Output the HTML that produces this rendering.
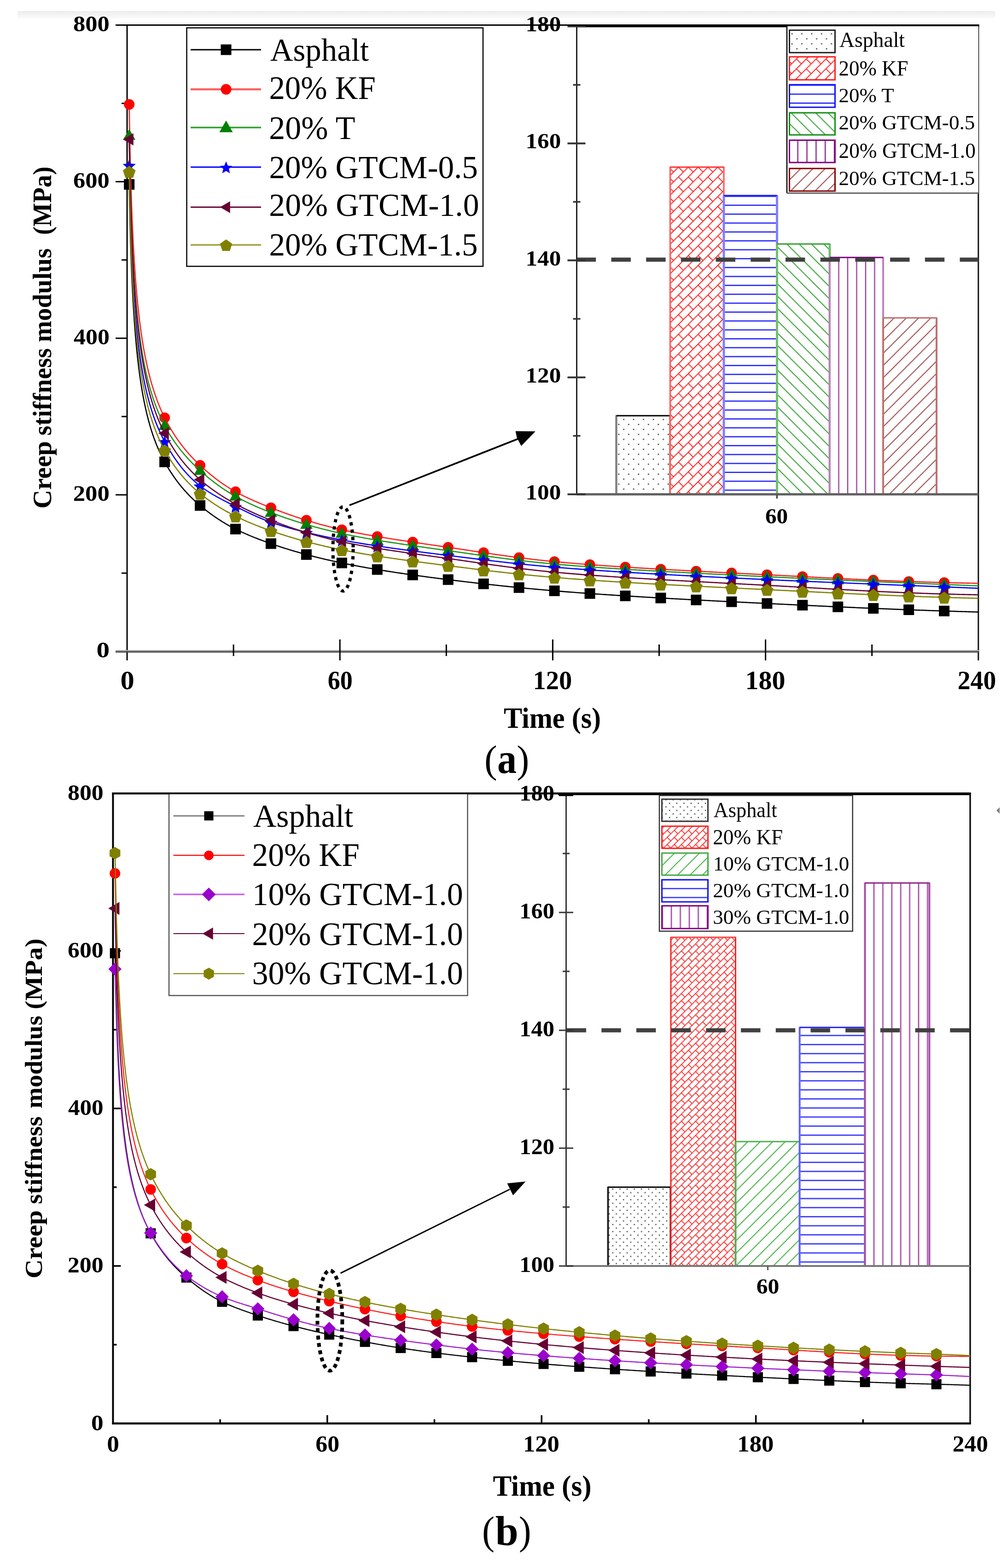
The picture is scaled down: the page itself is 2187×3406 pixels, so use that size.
<!DOCTYPE html>
<html><head><meta charset="utf-8"><title>Creep stiffness modulus</title><style>html,body{margin:0;padding:0;background:#fff;overflow:hidden;}svg{display:block;}</style></head><body>
<svg width="2187" height="3406" viewBox="0 0 2187 3406" font-family="'Liberation Serif', 'Times New Roman', serif" font-size="200">
<defs>
<linearGradient id="topband" x1="0" y1="0" x2="0" y2="1"><stop offset="0" stop-color="#ececec"/><stop offset="1" stop-color="#fbfbfb"/></linearGradient>
<pattern id="dotsA" patternUnits="userSpaceOnUse" x="1354.6" y="911.2" width="21.5" height="21.6"><rect x="-1.3" y="-1.3" width="2.6" height="2.6" fill="#333"/><rect x="20.2" y="-1.3" width="2.6" height="2.6" fill="#333"/><rect x="-1.3" y="20.3" width="2.6" height="2.6" fill="#333"/><rect x="20.2" y="20.3" width="2.6" height="2.6" fill="#333"/><rect x="9.45" y="9.5" width="2.6" height="2.6" fill="#333"/></pattern>
<pattern id="dotsB" patternUnits="userSpaceOnUse" x="1330.8" y="2598.3" width="15.6" height="15.4"><rect x="-1.2" y="-1.2" width="2.4" height="2.4" fill="#333"/><rect x="14.4" y="-1.2" width="2.4" height="2.4" fill="#333"/><rect x="-1.2" y="14.200000000000001" width="2.4" height="2.4" fill="#333"/><rect x="14.4" y="14.200000000000001" width="2.4" height="2.4" fill="#333"/><rect x="6.6" y="6.5" width="2.4" height="2.4" fill="#333"/></pattern>
<pattern id="brickA" patternUnits="userSpaceOnUse" x="0" y="0" width="30.2" height="30.2" patternTransform="rotate(-45)"><g stroke="#ff1c1c" stroke-width="1.9" fill="none"><line x1="-1" y1="0" x2="31.2" y2="0"/><line x1="-1" y1="15.1" x2="31.2" y2="15.1"/><line x1="-1" y1="30.2" x2="31.2" y2="30.2"/><line x1="0" y1="0" x2="0" y2="15.1"/><line x1="30.2" y1="0" x2="30.2" y2="15.1"/><line x1="15.1" y1="15.1" x2="15.1" y2="30.2"/></g></pattern>
<pattern id="brickB" patternUnits="userSpaceOnUse" x="0" y="0" width="21.8" height="21.8" patternTransform="rotate(-45)"><g stroke="#ff1c1c" stroke-width="1.7" fill="none"><line x1="-1" y1="0" x2="22.8" y2="0"/><line x1="-1" y1="10.9" x2="22.8" y2="10.9"/><line x1="-1" y1="21.8" x2="22.8" y2="21.8"/><line x1="0" y1="0" x2="0" y2="10.9"/><line x1="21.8" y1="0" x2="21.8" y2="10.9"/><line x1="10.9" y1="10.9" x2="10.9" y2="21.8"/></g></pattern>
<pattern id="hlA" patternUnits="userSpaceOnUse" x="0" y="1064.7" width="40" height="19.34"><line x1="0" y1="0" x2="40" y2="0" stroke="#1010ff" stroke-width="2.6"/><line x1="0" y1="19.34" x2="40" y2="19.34" stroke="#1010ff" stroke-width="2.6"/></pattern>
<pattern id="hlB" patternUnits="userSpaceOnUse" x="0" y="2642.9" width="40" height="19.68"><line x1="0" y1="0" x2="40" y2="0" stroke="#2020ff" stroke-width="2.6"/><line x1="0" y1="19.68" x2="40" y2="19.68" stroke="#2020ff" stroke-width="2.6"/></pattern>
<pattern id="bsA" patternUnits="userSpaceOnUse" x="0" y="23.99" width="26.73" height="26.73"><g stroke="#30a030" stroke-width="2.0"><line x1="0" y1="0" x2="26.73" y2="26.73"/><line x1="-13.365" y1="13.365" x2="13.365" y2="40.095"/><line x1="13.365" y1="-13.365" x2="40.095" y2="13.365"/></g></pattern>
<pattern id="fsB" patternUnits="userSpaceOnUse" x="0" y="11.9" width="27.1" height="27.1"><g stroke="#40b040" stroke-width="2.0"><line x1="0" y1="27.1" x2="27.1" y2="0"/><line x1="-13.55" y1="13.55" x2="13.55" y2="-13.55"/><line x1="13.55" y1="40.650000000000006" x2="40.650000000000006" y2="13.55"/></g></pattern>
<pattern id="vlA" patternUnits="userSpaceOnUse" x="1821.5" y="0" width="19.5" height="40"><line x1="0" y1="0" x2="0" y2="40" stroke="#9a3a9a" stroke-width="2.4"/><line x1="19.5" y1="0" x2="19.5" y2="40" stroke="#9a3a9a" stroke-width="2.4"/></pattern>
<pattern id="vlB" patternUnits="userSpaceOnUse" x="1898.0" y="0" width="19.4" height="40"><line x1="0" y1="0" x2="0" y2="40" stroke="#a850a8" stroke-width="2.8"/><line x1="19.4" y1="0" x2="19.4" y2="40" stroke="#a850a8" stroke-width="2.8"/></pattern>
<pattern id="fsA" patternUnits="userSpaceOnUse" x="0" y="25.6" width="26.6" height="26.6"><g stroke="#a04848" stroke-width="2.0"><line x1="0" y1="26.6" x2="26.6" y2="0"/><line x1="-13.3" y1="13.3" x2="13.3" y2="-13.3"/><line x1="13.3" y1="39.900000000000006" x2="39.900000000000006" y2="13.3"/></g></pattern>
<pattern id="dotsAs" patternUnits="userSpaceOnUse" x="1720.1" y="73.4" width="21.4" height="21.8"><rect x="-1.3" y="-1.3" width="2.6" height="2.6" fill="#333"/><rect x="20.099999999999998" y="-1.3" width="2.6" height="2.6" fill="#333"/><rect x="-1.3" y="20.5" width="2.6" height="2.6" fill="#333"/><rect x="20.099999999999998" y="20.5" width="2.6" height="2.6" fill="#333"/><rect x="9.399999999999999" y="9.6" width="2.6" height="2.6" fill="#333"/></pattern>
<pattern id="hlAs" patternUnits="userSpaceOnUse" x="0" y="204.5" width="40" height="19.5"><line x1="0" y1="0" x2="40" y2="0" stroke="#1010ff" stroke-width="2.6"/><line x1="0" y1="19.5" x2="40" y2="19.5" stroke="#1010ff" stroke-width="2.6"/></pattern>
<pattern id="vlAs" patternUnits="userSpaceOnUse" x="1732.6" y="0" width="19.9" height="40"><line x1="0" y1="0" x2="0" y2="40" stroke="#8a2a8a" stroke-width="2.6"/><line x1="19.9" y1="0" x2="19.9" y2="40" stroke="#8a2a8a" stroke-width="2.6"/></pattern>
<pattern id="fsAs" patternUnits="userSpaceOnUse" x="0" y="3.9" width="26.6" height="26.6"><g stroke="#a04848" stroke-width="2.0"><line x1="0" y1="26.6" x2="26.6" y2="0"/><line x1="-13.3" y1="13.3" x2="13.3" y2="-13.3"/><line x1="13.3" y1="39.900000000000006" x2="39.900000000000006" y2="13.3"/></g></pattern>
<pattern id="dotsBs" patternUnits="userSpaceOnUse" x="1438.6" y="1745.0" width="15.6" height="15.4"><rect x="-1.2" y="-1.2" width="2.4" height="2.4" fill="#333"/><rect x="14.4" y="-1.2" width="2.4" height="2.4" fill="#333"/><rect x="-1.2" y="14.200000000000001" width="2.4" height="2.4" fill="#333"/><rect x="14.4" y="14.200000000000001" width="2.4" height="2.4" fill="#333"/><rect x="6.6" y="6.5" width="2.4" height="2.4" fill="#333"/></pattern>
<pattern id="hlBs" patternUnits="userSpaceOnUse" x="0" y="1930.2" width="40" height="19.4"><line x1="0" y1="0" x2="40" y2="0" stroke="#2020ff" stroke-width="2.6"/><line x1="0" y1="19.4" x2="40" y2="19.4" stroke="#2020ff" stroke-width="2.6"/></pattern>
<pattern id="vlBs" patternUnits="userSpaceOnUse" x="1458.1" y="0" width="19.5" height="40"><line x1="0" y1="0" x2="0" y2="40" stroke="#a850a8" stroke-width="2.8"/><line x1="19.5" y1="0" x2="19.5" y2="40" stroke="#a850a8" stroke-width="2.8"/></pattern>
</defs>
<rect x="0.00" y="0.00" width="2187.00" height="3406.00" fill="#ffffff" stroke="none" stroke-width="0" />
<rect x="38.00" y="24.00" width="2123.00" height="16.00" fill="url(#topband)" stroke="none" stroke-width="0" />
<line x1="276.00" y1="54.50" x2="276.00" y2="1434.50" stroke="#000" stroke-width="3" />
<line x1="2124.80" y1="53.50" x2="2124.80" y2="1434.50" stroke="#111" stroke-width="3" />
<line x1="251.00" y1="54.50" x2="2126.30" y2="54.50" stroke="#000" stroke-width="3" />
<line x1="251.00" y1="1413.25" x2="2126.30" y2="1413.25" stroke="#a8a8a8" stroke-width="2.7" />
<line x1="251.00" y1="1416.05" x2="2126.30" y2="1416.05" stroke="#444444" stroke-width="2.9" />
<line x1="251.00" y1="1074.88" x2="276.00" y2="1074.88" stroke="#000" stroke-width="3" />
<line x1="251.00" y1="734.75" x2="276.00" y2="734.75" stroke="#000" stroke-width="3" />
<line x1="251.00" y1="394.62" x2="276.00" y2="394.62" stroke="#000" stroke-width="3" />
<line x1="251.00" y1="54.50" x2="276.00" y2="54.50" stroke="#000" stroke-width="3" />
<line x1="264.00" y1="1244.94" x2="276.00" y2="1244.94" stroke="#000" stroke-width="3" />
<line x1="264.00" y1="904.81" x2="276.00" y2="904.81" stroke="#000" stroke-width="3" />
<line x1="264.00" y1="564.69" x2="276.00" y2="564.69" stroke="#000" stroke-width="3" />
<line x1="264.00" y1="224.56" x2="276.00" y2="224.56" stroke="#000" stroke-width="3" />
<line x1="738.20" y1="1389.00" x2="738.20" y2="1434.50" stroke="#000" stroke-width="3" />
<line x1="1200.40" y1="1389.00" x2="1200.40" y2="1434.50" stroke="#000" stroke-width="3" />
<line x1="1662.60" y1="1389.00" x2="1662.60" y2="1434.50" stroke="#000" stroke-width="3" />
<line x1="507.10" y1="1400.00" x2="507.10" y2="1425.00" stroke="#000" stroke-width="3" />
<line x1="969.30" y1="1400.00" x2="969.30" y2="1425.00" stroke="#000" stroke-width="3" />
<line x1="1431.50" y1="1400.00" x2="1431.50" y2="1425.00" stroke="#000" stroke-width="3" />
<line x1="1893.70" y1="1400.00" x2="1893.70" y2="1425.00" stroke="#000" stroke-width="3" />
<path d="M280.62,400.58 L280.72,405.65 L280.81,410.72 L280.91,415.79 L281.01,420.86 L281.11,425.92 L281.21,430.98 L281.32,436.04 L281.43,441.09 L281.54,446.15 L281.65,451.19 L281.76,456.23 L281.88,461.27 L282.00,466.30 L282.12,471.33 L282.24,476.35 L282.37,481.37 L282.50,486.37 L282.63,491.38 L282.76,496.37 L282.90,501.36 L283.04,506.34 L283.18,511.31 L283.33,516.27 L283.48,521.23 L283.63,526.17 L283.70,528.52 L283.78,531.11 L283.94,536.04 L284.10,540.96 L284.26,545.87 L284.43,550.77 L284.60,555.66 L284.78,560.54 L284.95,565.40 L285.14,570.26 L285.32,575.11 L285.51,579.94 L285.70,584.76 L285.90,589.57 L286.10,594.37 L286.30,599.16 L286.51,603.93 L286.72,608.70 L286.78,609.93 L286.94,613.44 L287.16,618.18 L287.39,622.90 L287.62,627.61 L287.85,632.30 L288.09,636.99 L288.34,641.65 L288.59,646.30 L288.84,650.94 L289.10,655.57 L289.37,660.18 L289.64,664.77 L289.86,668.42 L289.91,669.35 L290.20,673.91 L290.48,678.46 L290.78,682.99 L291.08,687.51 L291.38,692.01 L291.69,696.50 L292.01,700.97 L292.33,705.42 L292.66,709.86 L292.94,713.44 L293.00,714.28 L293.35,718.68 L293.70,723.07 L294.06,727.44 L294.42,731.79 L294.79,736.13 L295.17,740.45 L295.56,744.75 L295.96,749.03 L296.02,749.65 L296.36,753.30 L296.77,757.55 L297.19,761.78 L297.62,766.00 L298.06,770.19 L298.51,774.37 L298.96,778.53 L299.09,779.71 L299.43,782.67 L299.90,786.80 L300.39,790.90 L300.88,794.99 L301.38,799.06 L301.90,803.11 L302.17,805.25 L302.42,807.14 L302.96,811.15 L303.50,815.15 L304.06,819.12 L304.63,823.08 L305.21,827.02 L305.25,827.33 L305.80,830.94 L306.40,834.84 L307.01,838.72 L307.64,842.59 L308.28,846.43 L308.33,846.71 L308.94,850.25 L309.60,854.06 L310.28,857.85 L310.98,861.61 L311.41,863.91 L311.69,865.36 L312.41,869.09 L313.14,872.80 L313.90,876.49 L314.49,879.34 L314.66,880.17 L315.45,883.82 L316.24,887.45 L317.06,891.07 L317.57,893.28 L317.89,894.66 L318.74,898.24 L319.60,901.79 L320.49,905.33 L320.65,905.96 L321.39,908.85 L322.30,912.35 L323.24,915.83 L323.72,917.59 L324.20,919.29 L325.17,922.73 L326.17,926.15 L326.80,928.29 L327.18,929.55 L328.22,932.93 L329.28,936.30 L329.88,938.18 L330.36,939.64 L331.46,942.97 L332.58,946.27 L332.96,947.38 L333.72,949.56 L334.89,952.83 L336.04,955.96 L336.08,956.08 L337.30,959.31 L338.54,962.52 L339.12,963.99 L339.81,965.71 L341.10,968.88 L342.20,971.52 L342.42,972.03 L343.76,975.17 L345.13,978.29 L345.28,978.61 L346.53,981.38 L347.96,984.46 L348.35,985.30 L349.41,987.52 L350.90,990.56 L351.43,991.63 L352.42,993.58 L353.96,996.59 L354.51,997.63 L355.54,999.57 L357.15,1002.54 L357.59,1003.33 L358.79,1005.49 L360.47,1008.44 L360.67,1008.79 L362.18,1011.39 L363.75,1014.05 L363.92,1014.34 L365.70,1017.29 L366.83,1019.13 L367.52,1020.24 L369.37,1023.19 L369.91,1024.03 L371.26,1026.13 L372.98,1028.76 L373.19,1029.07 L375.16,1032.00 L376.06,1033.33 L377.16,1034.93 L379.14,1037.75 L379.21,1037.85 L381.30,1040.77 L382.22,1042.03 L383.43,1043.67 L385.30,1046.17 L385.61,1046.58 L387.82,1049.47 L388.38,1050.18 L390.09,1052.35 L391.46,1054.07 L392.40,1055.23 L394.54,1057.83 L394.75,1058.09 L397.16,1060.95 L397.61,1061.48 L399.61,1063.79 L400.69,1065.03 L402.11,1066.62 L403.77,1068.47 L404.66,1069.45 L406.85,1071.81 L407.27,1072.25 L409.92,1075.05 L409.93,1075.06 L412.63,1077.83 L413.01,1078.21 L415.40,1080.60 L416.09,1081.28 L418.22,1083.36 L419.17,1084.27 L421.10,1086.10 L422.25,1087.18 L424.04,1088.83 L425.32,1090.01 L427.03,1091.54 L428.40,1092.76 L430.09,1094.24 L431.48,1095.45 L433.21,1096.92 L434.56,1098.07 L436.39,1099.59 L437.64,1100.63 L439.64,1102.27 L440.72,1103.15 L442.95,1104.95 L443.80,1105.63 L446.33,1107.63 L446.88,1108.06 L449.78,1110.31 L449.95,1110.45 L453.03,1112.79 L453.29,1112.99 L456.11,1115.09 L456.88,1115.66 L459.19,1117.34 L460.54,1118.32 L462.27,1119.55 L464.28,1120.97 L465.35,1121.72 L468.09,1123.61 L468.43,1123.84 L471.51,1125.92 L471.98,1126.24 L474.58,1127.96 L475.94,1128.84 L477.66,1129.95 L479.99,1131.43 L480.74,1131.90 L483.82,1133.81 L484.12,1134.00 L486.90,1135.68 L488.33,1136.54 L489.98,1137.51 L492.63,1139.06 L493.06,1139.30 L496.14,1141.06 L497.01,1141.55 L499.21,1142.77 L501.49,1144.01 L502.29,1144.45 L505.37,1146.09 L506.05,1146.45 L508.45,1147.70 L510.71,1148.85 L511.53,1149.27 L514.61,1150.80 L515.46,1151.22 L517.69,1152.30 L520.31,1153.56 L520.77,1153.78 L523.84,1155.22 L525.25,1155.87 L526.92,1156.63 L530.00,1158.02 L530.30,1158.15 L533.08,1159.38 L535.44,1160.42 L536.16,1160.73 L539.24,1162.04 L540.69,1162.66 L542.32,1163.34 L545.40,1164.62 L546.05,1164.89 L548.47,1165.88 L551.52,1167.10 L551.55,1167.12 L554.63,1168.34 L557.09,1169.31 L557.71,1169.55 L560.79,1170.74 L562.78,1171.51 L563.87,1171.92 L566.95,1173.09 L568.59,1173.70 L570.03,1174.24 L573.10,1175.38 L574.51,1175.89 L576.18,1176.50 L579.26,1177.62 L580.55,1178.08 L582.34,1178.72 L585.42,1179.82 L586.72,1180.28 L588.50,1180.90 L591.58,1181.98 L593.01,1182.47 L594.66,1183.04 L597.73,1184.09 L599.42,1184.66 L600.81,1185.13 L603.89,1186.16 L605.97,1186.85 L606.97,1187.18 L610.05,1188.19 L612.65,1189.03 L613.13,1189.19 L616.21,1190.18 L619.29,1191.15 L619.46,1191.21 L622.36,1192.12 L625.44,1193.07 L626.41,1193.37 L628.52,1194.02 L631.60,1194.96 L633.50,1195.53 L634.68,1195.88 L637.76,1196.80 L640.74,1197.68 L640.84,1197.70 L643.92,1198.60 L646.99,1199.49 L648.12,1199.81 L650.07,1200.37 L653.15,1201.23 L655.66,1201.93 L656.23,1202.09 L659.31,1202.95 L662.39,1203.79 L663.34,1204.04 L665.47,1204.62 L668.55,1205.44 L671.18,1206.14 L671.62,1206.26 L674.70,1207.07 L677.78,1207.86 L679.18,1208.22 L680.86,1208.65 L683.94,1209.44 L687.02,1210.21 L687.34,1210.29 L690.10,1210.98 L693.18,1211.74 L695.66,1212.34 L696.25,1212.49 L699.33,1213.23 L702.41,1213.96 L704.16,1214.38 L705.49,1214.69 L708.57,1215.41 L711.65,1216.12 L712.82,1216.39 L714.73,1216.83 L717.81,1217.53 L720.88,1218.22 L721.67,1218.39 L723.96,1218.90 L727.04,1219.58 L730.12,1220.25 L730.69,1220.37 L733.20,1220.91 L736.28,1221.57 L739.36,1222.22 L739.89,1222.33 L742.44,1222.87 L745.51,1223.50 L748.59,1224.13 L749.28,1224.27 L751.67,1224.76 L754.75,1225.38 L757.83,1225.99 L758.86,1226.19 L760.91,1226.60 L763.99,1227.20 L767.07,1227.79 L768.63,1228.09 L770.15,1228.38 L773.22,1228.96 L776.30,1229.54 L778.60,1229.97 L779.38,1230.11 L782.46,1230.68 L785.54,1231.25 L788.62,1231.80 L788.78,1231.83 L791.70,1232.36 L794.78,1232.91 L797.85,1233.45 L799.15,1233.68 L800.93,1233.99 L804.01,1234.52 L807.09,1235.06 L809.74,1235.51 L810.17,1235.58 L813.25,1236.10 L816.33,1236.62 L819.41,1237.14 L820.55,1237.33 L822.48,1237.65 L825.56,1238.16 L828.64,1238.66 L831.57,1239.13 L831.72,1239.16 L834.80,1239.65 L837.88,1240.15 L840.96,1240.63 L842.81,1240.93 L844.04,1241.12 L847.11,1241.60 L850.19,1242.08 L853.27,1242.56 L854.29,1242.71 L856.35,1243.03 L859.43,1243.50 L862.51,1243.96 L865.59,1244.43 L865.99,1244.49 L868.67,1244.89 L871.74,1245.34 L874.82,1245.80 L877.90,1246.25 L877.93,1246.26 L880.98,1246.70 L884.06,1247.15 L887.14,1247.59 L890.12,1248.02 L890.22,1248.03 L893.30,1248.47 L896.37,1248.90 L899.45,1249.34 L902.53,1249.77 L902.55,1249.77 L905.61,1250.20 L908.69,1250.62 L911.77,1251.05 L914.85,1251.47 L915.23,1251.52 L917.93,1251.89 L921.00,1252.30 L924.08,1252.72 L927.16,1253.13 L928.17,1253.27 L930.24,1253.54 L933.32,1253.95 L936.40,1254.36 L939.48,1254.76 L941.37,1255.01 L942.56,1255.16 L945.63,1255.56 L948.71,1255.96 L951.79,1256.36 L954.83,1256.75 L954.87,1256.75 L957.95,1257.14 L961.03,1257.53 L964.11,1257.92 L967.19,1258.31 L968.57,1258.48 L970.26,1258.69 L973.34,1259.08 L976.42,1259.46 L979.50,1259.84 L982.58,1260.22 L982.59,1260.22 L985.66,1260.60 L988.74,1260.98 L991.82,1261.35 L994.89,1261.73 L996.89,1261.97 L997.97,1262.10 L1001.05,1262.47 L1004.13,1262.85 L1007.21,1263.22 L1010.29,1263.58 L1011.48,1263.73 L1013.37,1263.95 L1016.45,1264.32 L1019.52,1264.68 L1022.60,1265.05 L1025.68,1265.41 L1026.37,1265.49 L1028.76,1265.77 L1031.84,1266.13 L1034.92,1266.48 L1038.00,1266.84 L1041.08,1267.19 L1041.56,1267.25 L1044.15,1267.54 L1047.23,1267.89 L1050.31,1268.24 L1053.39,1268.59 L1056.47,1268.93 L1057.05,1269.00 L1059.55,1269.28 L1062.63,1269.62 L1065.71,1269.96 L1068.78,1270.30 L1071.86,1270.64 L1072.86,1270.74 L1074.94,1270.97 L1078.02,1271.30 L1081.10,1271.64 L1084.18,1271.96 L1087.26,1272.29 L1088.99,1272.48 L1090.34,1272.62 L1093.41,1272.94 L1096.49,1273.26 L1099.57,1273.59 L1102.65,1273.90 L1105.45,1274.19 L1105.73,1274.22 L1108.81,1274.54 L1111.89,1274.85 L1114.97,1275.16 L1118.05,1275.47 L1121.12,1275.78 L1122.23,1275.89 L1124.20,1276.08 L1127.28,1276.39 L1130.36,1276.69 L1133.44,1276.99 L1136.52,1277.29 L1139.36,1277.56 L1139.60,1277.58 L1142.68,1277.88 L1145.75,1278.17 L1148.83,1278.46 L1151.91,1278.75 L1154.99,1279.04 L1156.84,1279.21 L1158.07,1279.32 L1161.15,1279.60 L1164.23,1279.88 L1167.31,1280.16 L1170.38,1280.44 L1173.46,1280.72 L1174.67,1280.82 L1176.54,1280.99 L1179.62,1281.26 L1182.70,1281.53 L1185.78,1281.80 L1188.86,1282.07 L1191.94,1282.33 L1192.86,1282.41 L1195.01,1282.59 L1198.09,1282.86 L1201.17,1283.11 L1204.25,1283.37 L1207.33,1283.63 L1210.41,1283.88 L1211.41,1283.96 L1213.49,1284.13 L1216.57,1284.38 L1219.64,1284.63 L1222.72,1284.88 L1225.80,1285.12 L1228.88,1285.36 L1230.35,1285.48 L1231.96,1285.61 L1235.04,1285.85 L1238.12,1286.08 L1241.20,1286.32 L1244.27,1286.56 L1247.35,1286.79 L1249.66,1286.97 L1250.43,1287.02 L1253.51,1287.25 L1256.59,1287.48 L1259.67,1287.71 L1262.75,1287.94 L1265.83,1288.16 L1268.90,1288.39 L1269.37,1288.42 L1271.98,1288.61 L1275.06,1288.83 L1278.14,1289.05 L1281.22,1289.27 L1284.30,1289.49 L1287.38,1289.71 L1289.48,1289.85 L1290.46,1289.92 L1293.53,1290.14 L1296.61,1290.35 L1299.69,1290.56 L1302.77,1290.77 L1305.85,1290.98 L1308.93,1291.19 L1309.99,1291.26 L1312.01,1291.40 L1315.09,1291.60 L1318.16,1291.81 L1321.24,1292.01 L1324.32,1292.22 L1327.40,1292.42 L1330.48,1292.62 L1330.92,1292.65 L1333.56,1292.82 L1336.64,1293.02 L1339.72,1293.22 L1342.79,1293.42 L1345.87,1293.61 L1348.95,1293.81 L1352.03,1294.00 L1352.27,1294.02 L1355.11,1294.20 L1358.19,1294.39 L1361.27,1294.58 L1364.35,1294.77 L1367.42,1294.97 L1370.50,1295.16 L1373.58,1295.34 L1374.05,1295.37 L1376.66,1295.53 L1379.74,1295.72 L1382.82,1295.91 L1385.90,1296.09 L1388.98,1296.28 L1392.05,1296.46 L1395.13,1296.65 L1396.28,1296.71 L1398.21,1296.83 L1401.29,1297.01 L1404.37,1297.19 L1407.45,1297.38 L1410.53,1297.56 L1413.61,1297.74 L1416.68,1297.91 L1418.95,1298.05 L1419.76,1298.09 L1422.84,1298.27 L1425.92,1298.45 L1429.00,1298.62 L1432.08,1298.80 L1435.16,1298.98 L1438.24,1299.15 L1441.31,1299.33 L1442.09,1299.37 L1444.39,1299.50 L1447.47,1299.67 L1450.55,1299.84 L1453.63,1300.02 L1456.71,1300.19 L1459.79,1300.36 L1462.87,1300.53 L1465.69,1300.69 L1465.95,1300.70 L1469.02,1300.87 L1472.10,1301.04 L1475.18,1301.21 L1478.26,1301.37 L1481.34,1301.54 L1484.42,1301.71 L1487.50,1301.88 L1489.77,1302.00 L1490.58,1302.04 L1493.65,1302.21 L1496.73,1302.37 L1499.81,1302.54 L1502.89,1302.70 L1505.97,1302.86 L1509.05,1303.03 L1512.13,1303.19 L1514.34,1303.31 L1515.21,1303.35 L1518.28,1303.52 L1521.36,1303.68 L1524.44,1303.84 L1527.52,1304.00 L1530.60,1304.16 L1533.68,1304.32 L1536.76,1304.48 L1539.40,1304.62 L1539.84,1304.64 L1542.91,1304.80 L1545.99,1304.96 L1549.07,1305.12 L1552.15,1305.27 L1555.23,1305.43 L1558.31,1305.59 L1561.39,1305.75 L1564.47,1305.90 L1564.97,1305.93 L1567.54,1306.06 L1570.62,1306.21 L1573.70,1306.37 L1576.78,1306.53 L1579.86,1306.68 L1582.94,1306.83 L1586.02,1306.99 L1589.10,1307.14 L1591.06,1307.24 L1592.17,1307.30 L1595.25,1307.45 L1598.33,1307.60 L1601.41,1307.76 L1604.49,1307.91 L1607.57,1308.06 L1610.65,1308.21 L1613.73,1308.36 L1616.80,1308.52 L1617.68,1308.56 L1619.88,1308.67 L1622.96,1308.82 L1626.04,1308.97 L1629.12,1309.12 L1632.20,1309.27 L1635.28,1309.42 L1638.36,1309.57 L1641.43,1309.72 L1644.51,1309.87 L1644.84,1309.88 L1647.59,1310.02 L1650.67,1310.16 L1653.75,1310.31 L1656.83,1310.46 L1659.91,1310.61 L1662.99,1310.76 L1666.06,1310.90 L1669.14,1311.05 L1672.22,1311.20 L1672.54,1311.21 L1675.30,1311.35 L1678.38,1311.49 L1681.46,1311.64 L1684.54,1311.79 L1687.62,1311.94 L1690.69,1312.08 L1693.77,1312.23 L1696.85,1312.38 L1699.93,1312.53 L1700.81,1312.57 L1703.01,1312.68 L1706.09,1312.82 L1709.17,1312.97 L1712.25,1313.12 L1715.32,1313.27 L1718.40,1313.41 L1721.48,1313.56 L1724.56,1313.71 L1727.64,1313.86 L1729.65,1313.95 L1730.72,1314.00 L1733.80,1314.15 L1736.88,1314.30 L1739.95,1314.44 L1743.03,1314.59 L1746.11,1314.74 L1749.19,1314.88 L1752.27,1315.03 L1755.35,1315.17 L1758.43,1315.32 L1759.07,1315.35 L1761.51,1315.46 L1764.58,1315.61 L1767.66,1315.75 L1770.74,1315.90 L1773.82,1316.04 L1776.90,1316.19 L1779.98,1316.33 L1783.06,1316.47 L1786.14,1316.62 L1789.09,1316.75 L1789.22,1316.76 L1792.29,1316.90 L1795.37,1317.04 L1798.45,1317.19 L1801.53,1317.33 L1804.61,1317.47 L1807.69,1317.61 L1810.77,1317.75 L1813.85,1317.89 L1816.92,1318.03 L1819.71,1318.16 L1820.00,1318.17 L1823.08,1318.31 L1826.16,1318.45 L1829.24,1318.58 L1832.32,1318.72 L1835.40,1318.86 L1838.48,1319.00 L1841.55,1319.13 L1844.63,1319.27 L1847.71,1319.40 L1850.79,1319.54 L1850.96,1319.55 L1853.87,1319.67 L1856.95,1319.81 L1860.03,1319.94 L1863.11,1320.08 L1866.18,1320.21 L1869.26,1320.34 L1872.34,1320.47 L1875.42,1320.60 L1878.50,1320.74 L1881.58,1320.87 L1882.84,1320.92 L1884.66,1321.00 L1887.74,1321.13 L1890.81,1321.25 L1893.89,1321.38 L1896.97,1321.51 L1900.05,1321.64 L1903.13,1321.77 L1906.21,1321.89 L1909.29,1322.02 L1912.37,1322.14 L1915.36,1322.27 L1915.44,1322.27 L1918.52,1322.39 L1921.60,1322.52 L1924.68,1322.64 L1927.76,1322.77 L1930.84,1322.89 L1933.92,1323.01 L1937.00,1323.13 L1940.07,1323.25 L1943.15,1323.37 L1946.23,1323.49 L1948.54,1323.58 L1949.31,1323.61 L1952.39,1323.73 L1955.47,1323.85 L1958.55,1323.97 L1961.63,1324.08 L1964.70,1324.20 L1967.78,1324.31 L1970.86,1324.43 L1973.94,1324.54 L1977.02,1324.66 L1980.10,1324.77 L1982.40,1324.86 L1983.18,1324.89 L1986.26,1325.00 L1989.33,1325.11 L1992.41,1325.22 L1995.49,1325.33 L1998.57,1325.44 L2001.65,1325.55 L2004.73,1325.66 L2007.81,1325.77 L2010.89,1325.88 L2013.96,1325.98 L2016.93,1326.09 L2017.04,1326.09 L2020.12,1326.20 L2023.20,1326.30 L2026.28,1326.41 L2029.36,1326.51 L2032.44,1326.61 L2035.52,1326.72 L2038.59,1326.82 L2041.67,1326.92 L2044.75,1327.02 L2047.83,1327.12 L2050.91,1327.22 L2052.17,1327.27 L2053.99,1327.32 L2057.07,1327.42 L2060.15,1327.52 L2063.22,1327.62 L2066.30,1327.72 L2069.38,1327.81 L2072.46,1327.91 L2075.54,1328.00 L2078.62,1328.10 L2081.70,1328.19 L2084.78,1328.28 L2087.85,1328.38 L2088.12,1328.38 L2090.93,1328.47 L2094.01,1328.56 L2097.09,1328.65 L2100.17,1328.74 L2103.25,1328.83 L2106.33,1328.92 L2109.41,1329.01 L2112.48,1329.10 L2115.56,1329.19 L2118.64,1329.28 L2121.72,1329.37 L2124.80,1329.46 L2124.80,1329.46" fill="none" stroke="#000000" stroke-width="2.6" stroke-linejoin="round"/>
<rect x="269.12" y="389.08" width="23.00" height="23.00" fill="#000000" stroke="none" stroke-width="0" />
<rect x="346.08" y="991.81" width="23.00" height="23.00" fill="#000000" stroke="none" stroke-width="0" />
<rect x="423.03" y="1086.54" width="23.00" height="23.00" fill="#000000" stroke="none" stroke-width="0" />
<rect x="499.99" y="1137.75" width="23.00" height="23.00" fill="#000000" stroke="none" stroke-width="0" />
<rect x="576.95" y="1169.39" width="23.00" height="23.00" fill="#000000" stroke="none" stroke-width="0" />
<rect x="653.90" y="1193.10" width="23.00" height="23.00" fill="#000000" stroke="none" stroke-width="0" />
<rect x="730.86" y="1211.35" width="23.00" height="23.00" fill="#000000" stroke="none" stroke-width="0" />
<rect x="807.82" y="1225.62" width="23.00" height="23.00" fill="#000000" stroke="none" stroke-width="0" />
<rect x="884.77" y="1237.39" width="23.00" height="23.00" fill="#000000" stroke="none" stroke-width="0" />
<rect x="961.73" y="1247.56" width="23.00" height="23.00" fill="#000000" stroke="none" stroke-width="0" />
<rect x="1038.68" y="1256.73" width="23.00" height="23.00" fill="#000000" stroke="none" stroke-width="0" />
<rect x="1115.64" y="1264.87" width="23.00" height="23.00" fill="#000000" stroke="none" stroke-width="0" />
<rect x="1192.60" y="1271.86" width="23.00" height="23.00" fill="#000000" stroke="none" stroke-width="0" />
<rect x="1269.55" y="1277.76" width="23.00" height="23.00" fill="#000000" stroke="none" stroke-width="0" />
<rect x="1346.51" y="1282.88" width="23.00" height="23.00" fill="#000000" stroke="none" stroke-width="0" />
<rect x="1423.47" y="1287.47" width="23.00" height="23.00" fill="#000000" stroke="none" stroke-width="0" />
<rect x="1500.42" y="1291.68" width="23.00" height="23.00" fill="#000000" stroke="none" stroke-width="0" />
<rect x="1577.38" y="1295.63" width="23.00" height="23.00" fill="#000000" stroke="none" stroke-width="0" />
<rect x="1654.34" y="1299.39" width="23.00" height="23.00" fill="#000000" stroke="none" stroke-width="0" />
<rect x="1731.29" y="1303.08" width="23.00" height="23.00" fill="#000000" stroke="none" stroke-width="0" />
<rect x="1808.25" y="1306.66" width="23.00" height="23.00" fill="#000000" stroke="none" stroke-width="0" />
<rect x="1885.20" y="1310.00" width="23.00" height="23.00" fill="#000000" stroke="none" stroke-width="0" />
<rect x="1962.16" y="1313.03" width="23.00" height="23.00" fill="#000000" stroke="none" stroke-width="0" />
<rect x="2039.12" y="1315.72" width="23.00" height="23.00" fill="#000000" stroke="none" stroke-width="0" />
<path d="M280.62,226.77 L280.72,232.92 L280.81,239.05 L280.91,245.16 L281.01,251.26 L281.11,257.34 L281.21,263.40 L281.32,269.45 L281.43,275.48 L281.54,281.50 L281.65,287.49 L281.76,293.47 L281.88,299.44 L282.00,305.38 L282.12,311.31 L282.24,317.22 L282.37,323.12 L282.50,328.99 L282.63,334.85 L282.76,340.69 L282.90,346.51 L283.04,352.32 L283.18,358.10 L283.33,363.87 L283.48,369.61 L283.63,375.34 L283.70,378.06 L283.78,381.05 L283.94,386.74 L284.10,392.41 L284.26,398.07 L284.43,403.70 L284.60,409.31 L284.78,414.91 L284.95,420.48 L285.14,426.04 L285.32,431.57 L285.51,437.09 L285.70,442.59 L285.90,448.06 L286.10,453.52 L286.30,458.95 L286.51,464.37 L286.72,469.77 L286.78,471.16 L286.94,475.14 L287.16,480.50 L287.39,485.83 L287.62,491.14 L287.85,496.44 L288.09,501.71 L288.34,506.96 L288.59,512.19 L288.84,517.40 L289.10,522.59 L289.37,527.76 L289.64,532.91 L289.86,537.00 L289.91,538.04 L290.20,543.14 L290.48,548.23 L290.78,553.29 L291.08,558.34 L291.38,563.36 L291.69,568.36 L292.01,573.34 L292.33,578.30 L292.66,583.23 L292.94,587.21 L293.00,588.15 L293.35,593.04 L293.70,597.92 L294.06,602.77 L294.42,607.60 L294.79,612.41 L295.17,617.19 L295.56,621.96 L295.96,626.71 L296.02,627.39 L296.36,631.43 L296.77,636.13 L297.19,640.81 L297.62,645.47 L298.06,650.11 L298.51,654.73 L298.96,659.32 L299.09,660.62 L299.43,663.89 L299.90,668.45 L300.39,672.98 L300.88,677.49 L301.38,681.97 L301.90,686.44 L302.17,688.80 L302.42,690.89 L302.96,695.31 L303.50,699.71 L304.06,704.09 L304.63,708.45 L305.21,712.79 L305.25,713.14 L305.80,717.11 L306.40,721.40 L307.01,725.68 L307.64,729.93 L308.28,734.16 L308.33,734.48 L308.94,738.38 L309.60,742.57 L310.28,746.73 L310.98,750.88 L311.41,753.41 L311.69,755.01 L312.41,759.11 L313.14,763.20 L313.90,767.26 L314.49,770.39 L314.66,771.30 L315.45,775.32 L316.24,779.33 L317.06,783.31 L317.57,785.74 L317.89,787.26 L318.74,791.20 L319.60,795.12 L320.49,799.02 L320.65,799.71 L321.39,802.89 L322.30,806.75 L323.24,810.58 L323.72,812.52 L324.20,814.40 L325.17,818.19 L326.17,821.96 L326.80,824.32 L327.18,825.72 L328.22,829.45 L329.28,833.16 L329.88,835.24 L330.36,836.85 L331.46,840.53 L332.58,844.18 L332.96,845.40 L333.72,847.81 L334.89,851.42 L336.04,854.88 L336.08,855.01 L337.30,858.58 L338.54,862.13 L339.12,863.76 L339.81,865.67 L341.10,869.18 L342.20,872.10 L342.42,872.67 L343.76,876.14 L345.13,879.59 L345.28,879.95 L346.53,883.03 L347.96,886.44 L348.35,887.38 L349.41,889.84 L350.90,893.21 L351.43,894.40 L352.42,896.57 L353.96,899.90 L354.51,901.07 L355.54,903.22 L357.15,906.52 L357.59,907.40 L358.79,909.80 L360.47,913.07 L360.67,913.46 L362.18,916.33 L363.75,919.26 L363.92,919.58 L365.70,922.82 L366.83,924.83 L367.52,926.05 L369.37,929.27 L369.91,930.18 L371.26,932.48 L372.98,935.34 L373.19,935.68 L375.16,938.87 L376.06,940.31 L377.16,942.05 L379.14,945.11 L379.21,945.22 L381.30,948.38 L382.22,949.75 L383.43,951.53 L385.30,954.23 L385.61,954.67 L387.82,957.80 L388.38,958.57 L390.09,960.92 L391.46,962.78 L392.40,964.03 L394.54,966.85 L394.75,967.14 L397.16,970.23 L397.61,970.81 L399.61,973.31 L400.69,974.65 L402.11,976.38 L403.77,978.39 L404.66,979.45 L406.85,982.02 L407.27,982.50 L409.92,985.54 L409.93,985.55 L412.63,988.58 L413.01,988.99 L415.40,991.60 L416.09,992.34 L418.22,994.62 L419.17,995.61 L421.10,997.62 L422.25,998.80 L424.04,1000.62 L425.32,1001.91 L427.03,1003.60 L428.40,1004.95 L430.09,1006.58 L431.48,1007.91 L433.21,1009.55 L434.56,1010.81 L436.39,1012.51 L437.64,1013.66 L439.64,1015.48 L440.72,1016.46 L442.95,1018.47 L443.80,1019.23 L446.33,1021.46 L446.88,1021.94 L449.78,1024.46 L449.95,1024.62 L453.03,1027.24 L453.29,1027.46 L456.11,1029.82 L456.88,1030.46 L459.19,1032.35 L460.54,1033.45 L462.27,1034.84 L464.28,1036.43 L465.35,1037.27 L468.09,1039.40 L468.43,1039.66 L471.51,1041.99 L471.98,1042.35 L474.58,1044.28 L475.94,1045.28 L477.66,1046.52 L479.99,1048.19 L480.74,1048.72 L483.82,1050.86 L484.12,1051.07 L486.90,1052.96 L488.33,1053.92 L489.98,1055.01 L492.63,1056.74 L493.06,1057.02 L496.14,1058.98 L497.01,1059.53 L499.21,1060.90 L501.49,1062.29 L502.29,1062.77 L505.37,1064.60 L506.05,1065.00 L508.45,1066.39 L510.71,1067.67 L511.53,1068.13 L514.61,1069.84 L515.46,1070.30 L517.69,1071.50 L520.31,1072.89 L520.77,1073.13 L523.84,1074.72 L525.25,1075.43 L526.92,1076.27 L530.00,1077.80 L530.30,1077.94 L533.08,1079.30 L535.44,1080.43 L536.16,1080.77 L539.24,1082.22 L540.69,1082.89 L542.32,1083.64 L545.40,1085.04 L546.05,1085.33 L548.47,1086.42 L551.52,1087.76 L551.55,1087.78 L554.63,1089.12 L557.09,1090.18 L557.71,1090.45 L560.79,1091.76 L562.78,1092.60 L563.87,1093.06 L566.95,1094.34 L568.59,1095.02 L570.03,1095.61 L573.10,1096.87 L574.51,1097.44 L576.18,1098.11 L579.26,1099.35 L580.55,1099.87 L582.34,1100.58 L585.42,1101.80 L586.72,1102.31 L588.50,1103.00 L591.58,1104.21 L593.01,1104.76 L594.66,1105.40 L597.73,1106.59 L599.42,1107.23 L600.81,1107.76 L603.89,1108.93 L605.97,1109.71 L606.97,1110.09 L610.05,1111.24 L612.65,1112.20 L613.13,1112.38 L616.21,1113.51 L619.29,1114.63 L619.46,1114.69 L622.36,1115.74 L625.44,1116.83 L626.41,1117.18 L628.52,1117.92 L631.60,1119.00 L633.50,1119.66 L634.68,1120.07 L637.76,1121.12 L640.74,1122.14 L640.84,1122.17 L643.92,1123.21 L646.99,1124.23 L648.12,1124.60 L650.07,1125.24 L653.15,1126.24 L655.66,1127.05 L656.23,1127.24 L659.31,1128.22 L662.39,1129.19 L663.34,1129.48 L665.47,1130.14 L668.55,1131.09 L671.18,1131.89 L671.62,1132.03 L674.70,1132.95 L677.78,1133.87 L679.18,1134.28 L680.86,1134.77 L683.94,1135.67 L687.02,1136.55 L687.34,1136.64 L690.10,1137.42 L693.18,1138.28 L695.66,1138.97 L696.25,1139.13 L699.33,1139.97 L702.41,1140.80 L704.16,1141.27 L705.49,1141.62 L708.57,1142.43 L711.65,1143.23 L712.82,1143.53 L714.73,1144.02 L717.81,1144.80 L720.88,1145.57 L721.67,1145.76 L723.96,1146.32 L727.04,1147.07 L730.12,1147.81 L730.69,1147.95 L733.20,1148.54 L736.28,1149.26 L739.36,1149.97 L739.89,1150.09 L742.44,1150.67 L745.51,1151.35 L748.59,1152.03 L749.28,1152.18 L751.67,1152.70 L754.75,1153.36 L757.83,1154.00 L758.86,1154.22 L760.91,1154.64 L763.99,1155.27 L767.07,1155.90 L768.63,1156.21 L770.15,1156.51 L773.22,1157.12 L776.30,1157.72 L778.60,1158.16 L779.38,1158.31 L782.46,1158.89 L785.54,1159.47 L788.62,1160.05 L788.78,1160.07 L791.70,1160.61 L794.78,1161.17 L797.85,1161.73 L799.15,1161.96 L800.93,1162.28 L804.01,1162.82 L807.09,1163.36 L809.74,1163.82 L810.17,1163.90 L813.25,1164.43 L816.33,1164.95 L819.41,1165.47 L820.55,1165.67 L822.48,1165.99 L825.56,1166.51 L828.64,1167.02 L831.57,1167.50 L831.72,1167.52 L834.80,1168.03 L837.88,1168.53 L840.96,1169.02 L842.81,1169.32 L844.04,1169.52 L847.11,1170.01 L850.19,1170.50 L853.27,1170.98 L854.29,1171.14 L856.35,1171.47 L859.43,1171.95 L862.51,1172.43 L865.59,1172.90 L865.99,1172.97 L868.67,1173.38 L871.74,1173.85 L874.82,1174.32 L877.90,1174.79 L877.93,1174.80 L880.98,1175.26 L884.06,1175.72 L887.14,1176.19 L890.12,1176.64 L890.22,1176.65 L893.30,1177.11 L896.37,1177.57 L899.45,1178.03 L902.53,1178.49 L902.55,1178.49 L905.61,1178.95 L908.69,1179.40 L911.77,1179.86 L914.85,1180.31 L915.23,1180.37 L917.93,1180.77 L921.00,1181.22 L924.08,1181.67 L927.16,1182.12 L928.17,1182.27 L930.24,1182.57 L933.32,1183.02 L936.40,1183.47 L939.48,1183.92 L941.37,1184.20 L942.56,1184.37 L945.63,1184.82 L948.71,1185.27 L951.79,1185.72 L954.83,1186.16 L954.87,1186.16 L957.95,1186.61 L961.03,1187.06 L964.11,1187.50 L967.19,1187.95 L968.57,1188.15 L970.26,1188.40 L973.34,1188.84 L976.42,1189.29 L979.50,1189.75 L982.58,1190.20 L982.59,1190.20 L985.66,1190.66 L988.74,1191.12 L991.82,1191.58 L994.89,1192.04 L996.89,1192.35 L997.97,1192.51 L1001.05,1192.98 L1004.13,1193.44 L1007.21,1193.91 L1010.29,1194.38 L1011.48,1194.57 L1013.37,1194.86 L1016.45,1195.33 L1019.52,1195.80 L1022.60,1196.27 L1025.68,1196.74 L1026.37,1196.85 L1028.76,1197.21 L1031.84,1197.68 L1034.92,1198.15 L1038.00,1198.62 L1041.08,1199.09 L1041.56,1199.16 L1044.15,1199.56 L1047.23,1200.02 L1050.31,1200.49 L1053.39,1200.95 L1056.47,1201.41 L1057.05,1201.50 L1059.55,1201.87 L1062.63,1202.33 L1065.71,1202.79 L1068.78,1203.24 L1071.86,1203.69 L1072.86,1203.84 L1074.94,1204.14 L1078.02,1204.59 L1081.10,1205.03 L1084.18,1205.47 L1087.26,1205.91 L1088.99,1206.16 L1090.34,1206.35 L1093.41,1206.78 L1096.49,1207.21 L1099.57,1207.64 L1102.65,1208.06 L1105.45,1208.44 L1105.73,1208.48 L1108.81,1208.90 L1111.89,1209.31 L1114.97,1209.72 L1118.05,1210.13 L1121.12,1210.53 L1122.23,1210.68 L1124.20,1210.93 L1127.28,1211.33 L1130.36,1211.72 L1133.44,1212.11 L1136.52,1212.50 L1139.36,1212.85 L1139.60,1212.88 L1142.68,1213.26 L1145.75,1213.63 L1148.83,1214.00 L1151.91,1214.37 L1154.99,1214.73 L1156.84,1214.94 L1158.07,1215.08 L1161.15,1215.44 L1164.23,1215.79 L1167.31,1216.13 L1170.38,1216.47 L1173.46,1216.81 L1174.67,1216.94 L1176.54,1217.14 L1179.62,1217.47 L1182.70,1217.79 L1185.78,1218.11 L1188.86,1218.43 L1191.94,1218.74 L1192.86,1218.83 L1195.01,1219.05 L1198.09,1219.35 L1201.17,1219.65 L1204.25,1219.94 L1207.33,1220.23 L1210.41,1220.51 L1211.41,1220.61 L1213.49,1220.80 L1216.57,1221.08 L1219.64,1221.36 L1222.72,1221.63 L1225.80,1221.91 L1228.88,1222.18 L1230.35,1222.30 L1231.96,1222.44 L1235.04,1222.71 L1238.12,1222.97 L1241.20,1223.23 L1244.27,1223.49 L1247.35,1223.75 L1249.66,1223.94 L1250.43,1224.00 L1253.51,1224.26 L1256.59,1224.51 L1259.67,1224.75 L1262.75,1225.00 L1265.83,1225.24 L1268.90,1225.48 L1269.37,1225.52 L1271.98,1225.72 L1275.06,1225.96 L1278.14,1226.20 L1281.22,1226.43 L1284.30,1226.66 L1287.38,1226.89 L1289.48,1227.05 L1290.46,1227.12 L1293.53,1227.35 L1296.61,1227.58 L1299.69,1227.80 L1302.77,1228.02 L1305.85,1228.24 L1308.93,1228.46 L1309.99,1228.54 L1312.01,1228.68 L1315.09,1228.90 L1318.16,1229.11 L1321.24,1229.32 L1324.32,1229.54 L1327.40,1229.75 L1330.48,1229.96 L1330.92,1229.98 L1333.56,1230.16 L1336.64,1230.37 L1339.72,1230.57 L1342.79,1230.78 L1345.87,1230.98 L1348.95,1231.18 L1352.03,1231.38 L1352.27,1231.40 L1355.11,1231.58 L1358.19,1231.78 L1361.27,1231.98 L1364.35,1232.17 L1367.42,1232.37 L1370.50,1232.56 L1373.58,1232.75 L1374.05,1232.78 L1376.66,1232.95 L1379.74,1233.14 L1382.82,1233.33 L1385.90,1233.51 L1388.98,1233.70 L1392.05,1233.89 L1395.13,1234.08 L1396.28,1234.14 L1398.21,1234.26 L1401.29,1234.45 L1404.37,1234.63 L1407.45,1234.81 L1410.53,1234.99 L1413.61,1235.17 L1416.68,1235.35 L1418.95,1235.49 L1419.76,1235.53 L1422.84,1235.71 L1425.92,1235.89 L1429.00,1236.07 L1432.08,1236.24 L1435.16,1236.42 L1438.24,1236.60 L1441.31,1236.77 L1442.09,1236.81 L1444.39,1236.94 L1447.47,1237.12 L1450.55,1237.29 L1453.63,1237.46 L1456.71,1237.63 L1459.79,1237.81 L1462.87,1237.98 L1465.69,1238.13 L1465.95,1238.15 L1469.02,1238.32 L1472.10,1238.48 L1475.18,1238.65 L1478.26,1238.82 L1481.34,1238.99 L1484.42,1239.16 L1487.50,1239.32 L1489.77,1239.44 L1490.58,1239.49 L1493.65,1239.65 L1496.73,1239.82 L1499.81,1239.98 L1502.89,1240.15 L1505.97,1240.31 L1509.05,1240.48 L1512.13,1240.64 L1514.34,1240.76 L1515.21,1240.80 L1518.28,1240.96 L1521.36,1241.13 L1524.44,1241.29 L1527.52,1241.45 L1530.60,1241.61 L1533.68,1241.77 L1536.76,1241.93 L1539.40,1242.07 L1539.84,1242.09 L1542.91,1242.25 L1545.99,1242.41 L1549.07,1242.57 L1552.15,1242.73 L1555.23,1242.89 L1558.31,1243.05 L1561.39,1243.21 L1564.47,1243.36 L1564.97,1243.39 L1567.54,1243.52 L1570.62,1243.68 L1573.70,1243.84 L1576.78,1243.99 L1579.86,1244.15 L1582.94,1244.31 L1586.02,1244.46 L1589.10,1244.62 L1591.06,1244.72 L1592.17,1244.78 L1595.25,1244.93 L1598.33,1245.09 L1601.41,1245.24 L1604.49,1245.40 L1607.57,1245.56 L1610.65,1245.71 L1613.73,1245.87 L1616.80,1246.02 L1617.68,1246.07 L1619.88,1246.18 L1622.96,1246.33 L1626.04,1246.49 L1629.12,1246.64 L1632.20,1246.80 L1635.28,1246.95 L1638.36,1247.10 L1641.43,1247.26 L1644.51,1247.41 L1644.84,1247.43 L1647.59,1247.57 L1650.67,1247.72 L1653.75,1247.87 L1656.83,1248.03 L1659.91,1248.18 L1662.99,1248.34 L1666.06,1248.49 L1669.14,1248.64 L1672.22,1248.80 L1672.54,1248.81 L1675.30,1248.95 L1678.38,1249.11 L1681.46,1249.27 L1684.54,1249.42 L1687.62,1249.58 L1690.69,1249.74 L1693.77,1249.90 L1696.85,1250.06 L1699.93,1250.22 L1700.81,1250.26 L1703.01,1250.38 L1706.09,1250.54 L1709.17,1250.70 L1712.25,1250.86 L1715.32,1251.02 L1718.40,1251.18 L1721.48,1251.34 L1724.56,1251.50 L1727.64,1251.66 L1729.65,1251.77 L1730.72,1251.83 L1733.80,1251.99 L1736.88,1252.15 L1739.95,1252.31 L1743.03,1252.47 L1746.11,1252.64 L1749.19,1252.80 L1752.27,1252.96 L1755.35,1253.12 L1758.43,1253.28 L1759.07,1253.32 L1761.51,1253.44 L1764.58,1253.61 L1767.66,1253.77 L1770.74,1253.93 L1773.82,1254.09 L1776.90,1254.25 L1779.98,1254.41 L1783.06,1254.57 L1786.14,1254.73 L1789.09,1254.88 L1789.22,1254.88 L1792.29,1255.04 L1795.37,1255.20 L1798.45,1255.36 L1801.53,1255.52 L1804.61,1255.67 L1807.69,1255.83 L1810.77,1255.98 L1813.85,1256.14 L1816.92,1256.29 L1819.71,1256.43 L1820.00,1256.45 L1823.08,1256.60 L1826.16,1256.75 L1829.24,1256.91 L1832.32,1257.06 L1835.40,1257.21 L1838.48,1257.36 L1841.55,1257.51 L1844.63,1257.66 L1847.71,1257.81 L1850.79,1257.96 L1850.96,1257.96 L1853.87,1258.10 L1856.95,1258.25 L1860.03,1258.39 L1863.11,1258.54 L1866.18,1258.68 L1869.26,1258.83 L1872.34,1258.97 L1875.42,1259.11 L1878.50,1259.25 L1881.58,1259.39 L1882.84,1259.45 L1884.66,1259.53 L1887.74,1259.67 L1890.81,1259.80 L1893.89,1259.94 L1896.97,1260.08 L1900.05,1260.21 L1903.13,1260.34 L1906.21,1260.48 L1909.29,1260.61 L1912.37,1260.74 L1915.36,1260.86 L1915.44,1260.87 L1918.52,1261.00 L1921.60,1261.12 L1924.68,1261.25 L1927.76,1261.38 L1930.84,1261.50 L1933.92,1261.63 L1937.00,1261.75 L1940.07,1261.87 L1943.15,1261.99 L1946.23,1262.11 L1948.54,1262.20 L1949.31,1262.23 L1952.39,1262.35 L1955.47,1262.46 L1958.55,1262.58 L1961.63,1262.69 L1964.70,1262.81 L1967.78,1262.92 L1970.86,1263.03 L1973.94,1263.14 L1977.02,1263.25 L1980.10,1263.35 L1982.40,1263.43 L1983.18,1263.46 L1986.26,1263.57 L1989.33,1263.67 L1992.41,1263.77 L1995.49,1263.87 L1998.57,1263.97 L2001.65,1264.07 L2004.73,1264.17 L2007.81,1264.27 L2010.89,1264.36 L2013.96,1264.46 L2016.93,1264.55 L2017.04,1264.55 L2020.12,1264.64 L2023.20,1264.74 L2026.28,1264.82 L2029.36,1264.91 L2032.44,1265.00 L2035.52,1265.09 L2038.59,1265.17 L2041.67,1265.25 L2044.75,1265.34 L2047.83,1265.42 L2050.91,1265.50 L2052.17,1265.53 L2053.99,1265.58 L2057.07,1265.65 L2060.15,1265.73 L2063.22,1265.80 L2066.30,1265.87 L2069.38,1265.94 L2072.46,1266.01 L2075.54,1266.08 L2078.62,1266.15 L2081.70,1266.21 L2084.78,1266.28 L2087.85,1266.34 L2088.12,1266.34 L2090.93,1266.40 L2094.01,1266.46 L2097.09,1266.52 L2100.17,1266.58 L2103.25,1266.64 L2106.33,1266.70 L2109.41,1266.76 L2112.48,1266.82 L2115.56,1266.88 L2118.64,1266.93 L2121.72,1266.99 L2124.80,1267.05 L2124.80,1267.05" fill="none" stroke="#ff2020" stroke-width="2.6" stroke-linejoin="round"/>
<circle cx="280.62" cy="226.77" r="11.50" fill="#ff0000"/>
<circle cx="357.58" cy="907.38" r="11.50" fill="#ff0000"/>
<circle cx="434.53" cy="1010.79" r="11.50" fill="#ff0000"/>
<circle cx="511.49" cy="1068.11" r="11.50" fill="#ff0000"/>
<circle cx="588.45" cy="1102.98" r="11.50" fill="#ff0000"/>
<circle cx="665.40" cy="1130.12" r="11.50" fill="#ff0000"/>
<circle cx="742.36" cy="1150.65" r="11.50" fill="#ff0000"/>
<circle cx="819.32" cy="1165.46" r="11.50" fill="#ff0000"/>
<circle cx="896.27" cy="1177.56" r="11.50" fill="#ff0000"/>
<circle cx="973.23" cy="1188.83" r="11.50" fill="#ff0000"/>
<circle cx="1050.18" cy="1200.47" r="11.50" fill="#ff0000"/>
<circle cx="1127.14" cy="1211.31" r="11.50" fill="#ff0000"/>
<circle cx="1204.10" cy="1219.92" r="11.50" fill="#ff0000"/>
<circle cx="1281.05" cy="1226.42" r="11.50" fill="#ff0000"/>
<circle cx="1358.01" cy="1231.77" r="11.50" fill="#ff0000"/>
<circle cx="1434.97" cy="1236.41" r="11.50" fill="#ff0000"/>
<circle cx="1511.92" cy="1240.63" r="11.50" fill="#ff0000"/>
<circle cx="1588.88" cy="1244.61" r="11.50" fill="#ff0000"/>
<circle cx="1665.84" cy="1248.48" r="11.50" fill="#ff0000"/>
<circle cx="1742.79" cy="1252.46" r="11.50" fill="#ff0000"/>
<circle cx="1819.75" cy="1256.44" r="11.50" fill="#ff0000"/>
<circle cx="1896.70" cy="1260.06" r="11.50" fill="#ff0000"/>
<circle cx="1973.66" cy="1263.13" r="11.50" fill="#ff0000"/>
<circle cx="2050.62" cy="1265.49" r="11.50" fill="#ff0000"/>
<path d="M280.62,294.29 L280.72,299.91 L280.81,305.53 L280.91,311.13 L281.01,316.71 L281.11,322.29 L281.21,327.85 L281.32,333.39 L281.43,338.92 L281.54,344.44 L281.65,349.94 L281.76,355.42 L281.88,360.89 L282.00,366.35 L282.12,371.79 L282.24,377.22 L282.37,382.63 L282.50,388.02 L282.63,393.40 L282.76,398.77 L282.90,404.12 L283.04,409.45 L283.18,414.77 L283.33,420.07 L283.48,425.35 L283.63,430.62 L283.70,433.12 L283.78,435.87 L283.94,441.10 L284.10,446.32 L284.26,451.52 L284.43,456.71 L284.60,461.88 L284.78,467.03 L284.95,472.16 L285.14,477.28 L285.32,482.38 L285.51,487.46 L285.70,492.52 L285.90,497.57 L286.10,502.60 L286.30,507.61 L286.51,512.60 L286.72,517.58 L286.78,518.87 L286.94,522.54 L287.16,527.48 L287.39,532.40 L287.62,537.30 L287.85,542.19 L288.09,547.06 L288.34,551.91 L288.59,556.74 L288.84,561.55 L289.10,566.35 L289.37,571.12 L289.64,575.88 L289.86,579.66 L289.91,580.62 L290.20,585.34 L290.48,590.04 L290.78,594.73 L291.08,599.39 L291.38,604.04 L291.69,608.66 L292.01,613.27 L292.33,617.86 L292.66,622.43 L292.94,626.12 L293.00,626.98 L293.35,631.52 L293.70,636.03 L294.06,640.53 L294.42,645.00 L294.79,649.46 L295.17,653.90 L295.56,658.32 L295.96,662.72 L296.02,663.35 L296.36,667.10 L296.77,671.46 L297.19,675.80 L297.62,680.13 L298.06,684.43 L298.51,688.72 L298.96,692.98 L299.09,694.19 L299.43,697.23 L299.90,701.46 L300.39,705.67 L300.88,709.86 L301.38,714.03 L301.90,718.18 L302.17,720.37 L302.42,722.31 L302.96,726.42 L303.50,730.52 L304.06,734.59 L304.63,738.65 L305.21,742.69 L305.25,743.01 L305.80,746.70 L306.40,750.70 L307.01,754.68 L307.64,758.64 L308.28,762.58 L308.33,762.87 L308.94,766.51 L309.60,770.41 L310.28,774.29 L310.98,778.16 L311.41,780.52 L311.69,782.01 L312.41,785.83 L313.14,789.64 L313.90,793.43 L314.49,796.35 L314.66,797.20 L315.45,800.95 L316.24,804.69 L317.06,808.40 L317.57,810.67 L317.89,812.10 L318.74,815.77 L319.60,819.43 L320.49,823.07 L320.65,823.72 L321.39,826.69 L322.30,830.30 L323.24,833.88 L323.72,835.69 L324.20,837.44 L325.17,840.99 L326.17,844.52 L326.80,846.72 L327.18,848.03 L328.22,851.52 L329.28,854.99 L329.88,856.94 L330.36,858.45 L331.46,861.88 L332.58,865.30 L332.96,866.45 L333.72,868.70 L334.89,872.08 L336.04,875.33 L336.08,875.45 L337.30,878.79 L338.54,882.12 L339.12,883.64 L339.81,885.43 L341.10,888.72 L342.20,891.46 L342.42,891.99 L343.76,895.25 L345.13,898.49 L345.28,898.83 L346.53,901.71 L347.96,904.91 L348.35,905.79 L349.41,908.10 L350.90,911.26 L351.43,912.38 L352.42,914.41 L353.96,917.54 L354.51,918.64 L355.54,920.66 L357.15,923.76 L357.59,924.59 L358.79,926.84 L360.47,929.90 L360.67,930.27 L362.18,932.96 L363.75,935.70 L363.92,936.01 L365.70,939.04 L366.83,940.92 L367.52,942.06 L369.37,945.07 L369.91,945.93 L371.26,948.08 L372.98,950.75 L373.19,951.07 L375.16,954.05 L376.06,955.41 L377.16,957.03 L379.14,959.89 L379.21,959.99 L381.30,962.95 L382.22,964.23 L383.43,965.90 L385.30,968.43 L385.61,968.84 L387.82,971.78 L388.38,972.50 L390.09,974.71 L391.46,976.45 L392.40,977.63 L394.54,980.28 L394.75,980.54 L397.16,983.45 L397.61,984.00 L399.61,986.36 L400.69,987.62 L402.11,989.25 L403.77,991.14 L404.66,992.15 L406.85,994.58 L407.27,995.03 L409.92,997.92 L409.93,997.92 L412.63,1000.79 L413.01,1001.19 L415.40,1003.67 L416.09,1004.37 L418.22,1006.54 L419.17,1007.48 L421.10,1009.40 L422.25,1010.52 L424.04,1012.26 L425.32,1013.50 L427.03,1015.12 L428.40,1016.41 L430.09,1017.97 L431.48,1019.25 L433.21,1020.82 L434.56,1022.04 L436.39,1023.68 L437.64,1024.78 L439.64,1026.54 L440.72,1027.49 L442.95,1029.43 L443.80,1030.16 L446.33,1032.33 L446.88,1032.79 L449.78,1035.24 L449.95,1035.39 L453.03,1037.94 L453.29,1038.15 L456.11,1040.45 L456.88,1041.07 L459.19,1042.92 L460.54,1043.99 L462.27,1045.34 L464.28,1046.90 L465.35,1047.72 L468.09,1049.80 L468.43,1050.05 L471.51,1052.34 L471.98,1052.69 L474.58,1054.59 L475.94,1055.57 L477.66,1056.79 L479.99,1058.42 L480.74,1058.95 L483.82,1061.06 L484.12,1061.26 L486.90,1063.13 L488.33,1064.08 L489.98,1065.16 L492.63,1066.87 L493.06,1067.14 L496.14,1069.08 L497.01,1069.63 L499.21,1070.98 L501.49,1072.36 L502.29,1072.84 L505.37,1074.65 L506.05,1075.05 L508.45,1076.43 L510.71,1077.71 L511.53,1078.17 L514.61,1079.87 L515.46,1080.33 L517.69,1081.54 L520.31,1082.93 L520.77,1083.17 L523.84,1084.78 L525.25,1085.50 L526.92,1086.36 L530.00,1087.91 L530.30,1088.05 L533.08,1089.43 L535.44,1090.58 L536.16,1090.93 L539.24,1092.41 L540.69,1093.09 L542.32,1093.86 L545.40,1095.29 L546.05,1095.59 L548.47,1096.69 L551.52,1098.07 L551.55,1098.08 L554.63,1099.45 L557.09,1100.53 L557.71,1100.80 L560.79,1102.13 L562.78,1102.98 L563.87,1103.44 L566.95,1104.74 L568.59,1105.42 L570.03,1106.02 L573.10,1107.28 L574.51,1107.85 L576.18,1108.53 L579.26,1109.76 L580.55,1110.27 L582.34,1110.98 L585.42,1112.19 L586.72,1112.69 L588.50,1113.38 L591.58,1114.56 L593.01,1115.10 L594.66,1115.73 L597.73,1116.88 L599.42,1117.51 L600.81,1118.03 L603.89,1119.16 L605.97,1119.92 L606.97,1120.28 L610.05,1121.39 L612.65,1122.32 L613.13,1122.49 L616.21,1123.57 L619.29,1124.65 L619.46,1124.71 L622.36,1125.71 L625.44,1126.76 L626.41,1127.09 L628.52,1127.80 L631.60,1128.83 L633.50,1129.46 L634.68,1129.84 L637.76,1130.85 L640.74,1131.81 L640.84,1131.84 L643.92,1132.83 L646.99,1133.80 L648.12,1134.15 L650.07,1134.76 L653.15,1135.71 L655.66,1136.47 L656.23,1136.65 L659.31,1137.58 L662.39,1138.49 L663.34,1138.78 L665.47,1139.40 L668.55,1140.30 L671.18,1141.06 L671.62,1141.19 L674.70,1142.06 L677.78,1142.93 L679.18,1143.32 L680.86,1143.79 L683.94,1144.63 L687.02,1145.47 L687.34,1145.56 L690.10,1146.30 L693.18,1147.11 L695.66,1147.77 L696.25,1147.92 L699.33,1148.72 L702.41,1149.51 L704.16,1149.95 L705.49,1150.29 L708.57,1151.06 L711.65,1151.82 L712.82,1152.11 L714.73,1152.58 L717.81,1153.32 L720.88,1154.06 L721.67,1154.24 L723.96,1154.78 L727.04,1155.50 L730.12,1156.21 L730.69,1156.34 L733.20,1156.91 L736.28,1157.61 L739.36,1158.29 L739.89,1158.41 L742.44,1158.97 L745.51,1159.63 L748.59,1160.29 L749.28,1160.43 L751.67,1160.94 L754.75,1161.58 L757.83,1162.21 L758.86,1162.41 L760.91,1162.83 L763.99,1163.44 L767.07,1164.05 L768.63,1164.35 L770.15,1164.65 L773.22,1165.24 L776.30,1165.83 L778.60,1166.26 L779.38,1166.41 L782.46,1166.98 L785.54,1167.54 L788.62,1168.11 L788.78,1168.13 L791.70,1168.66 L794.78,1169.21 L797.85,1169.76 L799.15,1169.98 L800.93,1170.29 L804.01,1170.83 L807.09,1171.36 L809.74,1171.81 L810.17,1171.88 L813.25,1172.41 L816.33,1172.92 L819.41,1173.43 L820.55,1173.62 L822.48,1173.94 L825.56,1174.45 L828.64,1174.95 L831.57,1175.42 L831.72,1175.45 L834.80,1175.94 L837.88,1176.43 L840.96,1176.92 L842.81,1177.21 L844.04,1177.41 L847.11,1177.89 L850.19,1178.37 L853.27,1178.84 L854.29,1179.00 L856.35,1179.32 L859.43,1179.79 L862.51,1180.26 L865.59,1180.73 L865.99,1180.79 L868.67,1181.19 L871.74,1181.65 L874.82,1182.11 L877.90,1182.57 L877.93,1182.58 L880.98,1183.03 L884.06,1183.48 L887.14,1183.94 L890.12,1184.37 L890.22,1184.39 L893.30,1184.84 L896.37,1185.29 L899.45,1185.73 L902.53,1186.18 L902.55,1186.18 L905.61,1186.62 L908.69,1187.07 L911.77,1187.51 L914.85,1187.95 L915.23,1188.00 L917.93,1188.39 L921.00,1188.83 L924.08,1189.26 L927.16,1189.70 L928.17,1189.84 L930.24,1190.14 L933.32,1190.57 L936.40,1191.00 L939.48,1191.44 L941.37,1191.70 L942.56,1191.87 L945.63,1192.30 L948.71,1192.73 L951.79,1193.16 L954.83,1193.59 L954.87,1193.59 L957.95,1194.02 L961.03,1194.45 L964.11,1194.88 L967.19,1195.30 L968.57,1195.50 L970.26,1195.73 L973.34,1196.16 L976.42,1196.58 L979.50,1197.01 L982.58,1197.44 L982.59,1197.45 L985.66,1197.88 L988.74,1198.31 L991.82,1198.75 L994.89,1199.19 L996.89,1199.47 L997.97,1199.63 L1001.05,1200.06 L1004.13,1200.50 L1007.21,1200.95 L1010.29,1201.39 L1011.48,1201.56 L1013.37,1201.83 L1016.45,1202.27 L1019.52,1202.71 L1022.60,1203.15 L1025.68,1203.59 L1026.37,1203.69 L1028.76,1204.03 L1031.84,1204.47 L1034.92,1204.90 L1038.00,1205.34 L1041.08,1205.77 L1041.56,1205.84 L1044.15,1206.21 L1047.23,1206.64 L1050.31,1207.07 L1053.39,1207.50 L1056.47,1207.93 L1057.05,1208.01 L1059.55,1208.36 L1062.63,1208.78 L1065.71,1209.21 L1068.78,1209.63 L1071.86,1210.04 L1072.86,1210.18 L1074.94,1210.46 L1078.02,1210.87 L1081.10,1211.29 L1084.18,1211.70 L1087.26,1212.10 L1088.99,1212.33 L1090.34,1212.51 L1093.41,1212.91 L1096.49,1213.31 L1099.57,1213.70 L1102.65,1214.10 L1105.45,1214.45 L1105.73,1214.49 L1108.81,1214.87 L1111.89,1215.26 L1114.97,1215.64 L1118.05,1216.02 L1121.12,1216.39 L1122.23,1216.53 L1124.20,1216.76 L1127.28,1217.13 L1130.36,1217.50 L1133.44,1217.86 L1136.52,1218.22 L1139.36,1218.55 L1139.60,1218.58 L1142.68,1218.93 L1145.75,1219.28 L1148.83,1219.62 L1151.91,1219.96 L1154.99,1220.30 L1156.84,1220.50 L1158.07,1220.64 L1161.15,1220.97 L1164.23,1221.29 L1167.31,1221.62 L1170.38,1221.94 L1173.46,1222.25 L1174.67,1222.38 L1176.54,1222.57 L1179.62,1222.88 L1182.70,1223.18 L1185.78,1223.48 L1188.86,1223.78 L1191.94,1224.07 L1192.86,1224.16 L1195.01,1224.36 L1198.09,1224.65 L1201.17,1224.93 L1204.25,1225.21 L1207.33,1225.49 L1210.41,1225.76 L1211.41,1225.85 L1213.49,1226.03 L1216.57,1226.30 L1219.64,1226.56 L1222.72,1226.82 L1225.80,1227.08 L1228.88,1227.34 L1230.35,1227.46 L1231.96,1227.60 L1235.04,1227.85 L1238.12,1228.10 L1241.20,1228.35 L1244.27,1228.60 L1247.35,1228.84 L1249.66,1229.02 L1250.43,1229.08 L1253.51,1229.32 L1256.59,1229.56 L1259.67,1229.80 L1262.75,1230.03 L1265.83,1230.27 L1268.90,1230.50 L1269.37,1230.53 L1271.98,1230.72 L1275.06,1230.95 L1278.14,1231.18 L1281.22,1231.40 L1284.30,1231.62 L1287.38,1231.84 L1289.48,1231.99 L1290.46,1232.06 L1293.53,1232.28 L1296.61,1232.50 L1299.69,1232.71 L1302.77,1232.92 L1305.85,1233.13 L1308.93,1233.34 L1309.99,1233.42 L1312.01,1233.55 L1315.09,1233.76 L1318.16,1233.97 L1321.24,1234.17 L1324.32,1234.37 L1327.40,1234.57 L1330.48,1234.78 L1330.92,1234.80 L1333.56,1234.97 L1336.64,1235.17 L1339.72,1235.37 L1342.79,1235.57 L1345.87,1235.76 L1348.95,1235.95 L1352.03,1236.15 L1352.27,1236.16 L1355.11,1236.34 L1358.19,1236.53 L1361.27,1236.72 L1364.35,1236.91 L1367.42,1237.09 L1370.50,1237.28 L1373.58,1237.46 L1374.05,1237.49 L1376.66,1237.65 L1379.74,1237.83 L1382.82,1238.02 L1385.90,1238.20 L1388.98,1238.38 L1392.05,1238.56 L1395.13,1238.74 L1396.28,1238.80 L1398.21,1238.92 L1401.29,1239.09 L1404.37,1239.27 L1407.45,1239.45 L1410.53,1239.62 L1413.61,1239.80 L1416.68,1239.97 L1418.95,1240.10 L1419.76,1240.14 L1422.84,1240.32 L1425.92,1240.49 L1429.00,1240.66 L1432.08,1240.83 L1435.16,1241.00 L1438.24,1241.17 L1441.31,1241.34 L1442.09,1241.38 L1444.39,1241.51 L1447.47,1241.68 L1450.55,1241.84 L1453.63,1242.01 L1456.71,1242.18 L1459.79,1242.34 L1462.87,1242.51 L1465.69,1242.66 L1465.95,1242.67 L1469.02,1242.83 L1472.10,1243.00 L1475.18,1243.16 L1478.26,1243.32 L1481.34,1243.49 L1484.42,1243.65 L1487.50,1243.81 L1489.77,1243.93 L1490.58,1243.97 L1493.65,1244.13 L1496.73,1244.29 L1499.81,1244.45 L1502.89,1244.61 L1505.97,1244.77 L1509.05,1244.93 L1512.13,1245.09 L1514.34,1245.20 L1515.21,1245.25 L1518.28,1245.40 L1521.36,1245.56 L1524.44,1245.72 L1527.52,1245.87 L1530.60,1246.03 L1533.68,1246.19 L1536.76,1246.34 L1539.40,1246.48 L1539.84,1246.50 L1542.91,1246.66 L1545.99,1246.81 L1549.07,1246.97 L1552.15,1247.12 L1555.23,1247.28 L1558.31,1247.43 L1561.39,1247.58 L1564.47,1247.74 L1564.97,1247.76 L1567.54,1247.89 L1570.62,1248.04 L1573.70,1248.20 L1576.78,1248.35 L1579.86,1248.50 L1582.94,1248.66 L1586.02,1248.81 L1589.10,1248.96 L1591.06,1249.06 L1592.17,1249.12 L1595.25,1249.27 L1598.33,1249.42 L1601.41,1249.57 L1604.49,1249.72 L1607.57,1249.88 L1610.65,1250.03 L1613.73,1250.18 L1616.80,1250.33 L1617.68,1250.37 L1619.88,1250.48 L1622.96,1250.63 L1626.04,1250.78 L1629.12,1250.93 L1632.20,1251.09 L1635.28,1251.24 L1638.36,1251.39 L1641.43,1251.54 L1644.51,1251.69 L1644.84,1251.70 L1647.59,1251.84 L1650.67,1251.99 L1653.75,1252.14 L1656.83,1252.29 L1659.91,1252.44 L1662.99,1252.59 L1666.06,1252.74 L1669.14,1252.89 L1672.22,1253.04 L1672.54,1253.06 L1675.30,1253.19 L1678.38,1253.34 L1681.46,1253.49 L1684.54,1253.64 L1687.62,1253.78 L1690.69,1253.93 L1693.77,1254.08 L1696.85,1254.23 L1699.93,1254.37 L1700.81,1254.41 L1703.01,1254.52 L1706.09,1254.67 L1709.17,1254.81 L1712.25,1254.96 L1715.32,1255.10 L1718.40,1255.25 L1721.48,1255.39 L1724.56,1255.53 L1727.64,1255.68 L1729.65,1255.77 L1730.72,1255.82 L1733.80,1255.96 L1736.88,1256.11 L1739.95,1256.25 L1743.03,1256.39 L1746.11,1256.53 L1749.19,1256.67 L1752.27,1256.82 L1755.35,1256.96 L1758.43,1257.10 L1759.07,1257.13 L1761.51,1257.24 L1764.58,1257.38 L1767.66,1257.52 L1770.74,1257.66 L1773.82,1257.80 L1776.90,1257.94 L1779.98,1258.08 L1783.06,1258.21 L1786.14,1258.35 L1789.09,1258.49 L1789.22,1258.49 L1792.29,1258.63 L1795.37,1258.77 L1798.45,1258.90 L1801.53,1259.04 L1804.61,1259.18 L1807.69,1259.32 L1810.77,1259.45 L1813.85,1259.59 L1816.92,1259.72 L1819.71,1259.85 L1820.00,1259.86 L1823.08,1260.00 L1826.16,1260.13 L1829.24,1260.27 L1832.32,1260.40 L1835.40,1260.54 L1838.48,1260.67 L1841.55,1260.81 L1844.63,1260.94 L1847.71,1261.07 L1850.79,1261.21 L1850.96,1261.21 L1853.87,1261.34 L1856.95,1261.47 L1860.03,1261.61 L1863.11,1261.74 L1866.18,1261.87 L1869.26,1262.01 L1872.34,1262.14 L1875.42,1262.27 L1878.50,1262.40 L1881.58,1262.54 L1882.84,1262.59 L1884.66,1262.67 L1887.74,1262.80 L1890.81,1262.93 L1893.89,1263.06 L1896.97,1263.19 L1900.05,1263.32 L1903.13,1263.45 L1906.21,1263.58 L1909.29,1263.72 L1912.37,1263.85 L1915.36,1263.97 L1915.44,1263.98 L1918.52,1264.11 L1921.60,1264.24 L1924.68,1264.37 L1927.76,1264.49 L1930.84,1264.62 L1933.92,1264.75 L1937.00,1264.88 L1940.07,1265.01 L1943.15,1265.14 L1946.23,1265.27 L1948.54,1265.37 L1949.31,1265.40 L1952.39,1265.53 L1955.47,1265.65 L1958.55,1265.78 L1961.63,1265.91 L1964.70,1266.04 L1967.78,1266.17 L1970.86,1266.29 L1973.94,1266.42 L1977.02,1266.55 L1980.10,1266.68 L1982.40,1266.77 L1983.18,1266.80 L1986.26,1266.93 L1989.33,1267.06 L1992.41,1267.18 L1995.49,1267.31 L1998.57,1267.44 L2001.65,1267.56 L2004.73,1267.69 L2007.81,1267.81 L2010.89,1267.94 L2013.96,1268.07 L2016.93,1268.19 L2017.04,1268.19 L2020.12,1268.32 L2023.20,1268.44 L2026.28,1268.57 L2029.36,1268.69 L2032.44,1268.82 L2035.52,1268.94 L2038.59,1269.07 L2041.67,1269.19 L2044.75,1269.32 L2047.83,1269.44 L2050.91,1269.57 L2052.17,1269.62 L2053.99,1269.69 L2057.07,1269.82 L2060.15,1269.94 L2063.22,1270.07 L2066.30,1270.20 L2069.38,1270.33 L2072.46,1270.46 L2075.54,1270.58 L2078.62,1270.71 L2081.70,1270.84 L2084.78,1270.97 L2087.85,1271.10 L2088.12,1271.12 L2090.93,1271.23 L2094.01,1271.36 L2097.09,1271.49 L2100.17,1271.62 L2103.25,1271.75 L2106.33,1271.88 L2109.41,1272.01 L2112.48,1272.14 L2115.56,1272.27 L2118.64,1272.40 L2121.72,1272.53 L2124.80,1272.66 L2124.80,1272.66" fill="none" stroke="#1a961a" stroke-width="2.6" stroke-linejoin="round"/>
<polygon points="280.62,280.18 294.06,303.70 267.18,303.70" fill="#008000"/>
<polygon points="357.58,910.45 371.02,933.97 344.14,933.97" fill="#008000"/>
<polygon points="434.53,1007.91 447.97,1031.43 421.09,1031.43" fill="#008000"/>
<polygon points="511.49,1064.04 524.93,1087.56 498.05,1087.56" fill="#008000"/>
<polygon points="588.45,1099.25 601.89,1122.77 575.01,1122.77" fill="#008000"/>
<polygon points="665.40,1125.27 678.84,1148.79 651.96,1148.79" fill="#008000"/>
<polygon points="742.36,1144.84 755.80,1168.36 728.92,1168.36" fill="#008000"/>
<polygon points="819.32,1159.31 832.76,1182.83 805.88,1182.83" fill="#008000"/>
<polygon points="896.27,1171.16 909.71,1194.68 882.83,1194.68" fill="#008000"/>
<polygon points="973.23,1182.03 986.67,1205.55 959.79,1205.55" fill="#008000"/>
<polygon points="1050.18,1192.94 1063.62,1216.46 1036.74,1216.46" fill="#008000"/>
<polygon points="1127.14,1203.00 1140.58,1226.52 1113.70,1226.52" fill="#008000"/>
<polygon points="1204.10,1211.08 1217.54,1234.60 1190.66,1234.60" fill="#008000"/>
<polygon points="1281.05,1217.28 1294.49,1240.80 1267.61,1240.80" fill="#008000"/>
<polygon points="1358.01,1222.40 1371.45,1245.92 1344.57,1245.92" fill="#008000"/>
<polygon points="1434.97,1226.88 1448.41,1250.40 1421.53,1250.40" fill="#008000"/>
<polygon points="1511.92,1230.96 1525.36,1254.48 1498.48,1254.48" fill="#008000"/>
<polygon points="1588.88,1234.84 1602.32,1258.36 1575.44,1258.36" fill="#008000"/>
<polygon points="1665.84,1238.62 1679.28,1262.14 1652.40,1262.14" fill="#008000"/>
<polygon points="1742.79,1242.27 1756.23,1265.79 1729.35,1265.79" fill="#008000"/>
<polygon points="1819.75,1245.74 1833.19,1269.26 1806.31,1269.26" fill="#008000"/>
<polygon points="1896.70,1249.07 1910.14,1272.59 1883.26,1272.59" fill="#008000"/>
<polygon points="1973.66,1252.30 1987.10,1275.82 1960.22,1275.82" fill="#008000"/>
<polygon points="2050.62,1255.44 2064.06,1278.96 2037.18,1278.96" fill="#008000"/>
<path d="M280.62,358.91 L280.72,363.98 L280.81,369.05 L280.91,374.11 L281.01,379.17 L281.11,384.23 L281.21,389.27 L281.32,394.32 L281.43,399.35 L281.54,404.39 L281.65,409.41 L281.76,414.43 L281.88,419.44 L282.00,424.45 L282.12,429.44 L282.24,434.43 L282.37,439.42 L282.50,444.39 L282.63,449.36 L282.76,454.31 L282.90,459.26 L283.04,464.20 L283.18,469.13 L283.33,474.06 L283.48,478.97 L283.63,483.87 L283.70,486.20 L283.78,488.77 L283.94,493.65 L284.10,498.52 L284.26,503.38 L284.43,508.23 L284.60,513.07 L284.78,517.90 L284.95,522.72 L285.14,527.53 L285.32,532.32 L285.51,537.11 L285.70,541.88 L285.90,546.64 L286.10,551.38 L286.30,556.12 L286.51,560.84 L286.72,565.55 L286.78,566.77 L286.94,570.24 L287.16,574.92 L287.39,579.59 L287.62,584.25 L287.85,588.89 L288.09,593.52 L288.34,598.13 L288.59,602.73 L288.84,607.32 L289.10,611.89 L289.37,616.45 L289.64,620.99 L289.86,624.61 L289.91,625.52 L290.20,630.04 L290.48,634.53 L290.78,639.02 L291.08,643.49 L291.38,647.94 L291.69,652.38 L292.01,656.80 L292.33,661.21 L292.66,665.60 L292.94,669.14 L293.00,669.98 L293.35,674.34 L293.70,678.68 L294.06,683.01 L294.42,687.32 L294.79,691.61 L295.17,695.89 L295.56,700.16 L295.96,704.40 L296.02,705.02 L296.36,708.63 L296.77,712.85 L297.19,717.04 L297.62,721.22 L298.06,725.39 L298.51,729.53 L298.96,733.66 L299.09,734.83 L299.43,737.77 L299.90,741.87 L300.39,745.95 L300.88,750.01 L301.38,754.05 L301.90,758.08 L302.17,760.21 L302.42,762.09 L302.96,766.08 L303.50,770.06 L304.06,774.01 L304.63,777.95 L305.21,781.87 L305.25,782.19 L305.80,785.78 L306.40,789.66 L307.01,793.53 L307.64,797.39 L308.28,801.22 L308.33,801.50 L308.94,805.04 L309.60,808.83 L310.28,812.61 L310.98,816.38 L311.41,818.67 L311.69,820.12 L312.41,823.85 L313.14,827.56 L313.90,831.25 L314.49,834.09 L314.66,834.92 L315.45,838.58 L316.24,842.22 L317.06,845.84 L317.57,848.05 L317.89,849.44 L318.74,853.02 L319.60,856.59 L320.49,860.14 L320.65,860.77 L321.39,863.67 L322.30,867.18 L323.24,870.67 L323.72,872.44 L324.20,874.15 L325.17,877.61 L326.17,881.05 L326.80,883.20 L327.18,884.47 L328.22,887.88 L329.28,891.27 L329.88,893.17 L330.36,894.64 L331.46,897.99 L332.58,901.32 L332.96,902.44 L333.72,904.64 L334.89,907.93 L336.04,911.10 L336.08,911.21 L337.30,914.48 L338.54,917.72 L339.12,919.21 L339.81,920.95 L341.10,924.16 L342.20,926.83 L342.42,927.35 L343.76,930.52 L345.13,933.68 L345.28,934.01 L346.53,936.82 L347.96,939.94 L348.35,940.80 L349.41,943.05 L350.90,946.13 L351.43,947.22 L352.42,949.20 L353.96,952.25 L354.51,953.32 L355.54,955.29 L357.15,958.30 L357.59,959.11 L358.79,961.31 L360.47,964.34 L360.67,964.69 L362.18,967.37 L363.75,970.12 L363.92,970.43 L365.70,973.49 L366.83,975.40 L367.52,976.56 L369.37,979.63 L369.91,980.51 L371.26,982.71 L372.98,985.46 L373.19,985.78 L375.16,988.86 L376.06,990.25 L377.16,991.93 L379.14,994.89 L379.21,994.99 L381.30,998.04 L382.22,999.37 L383.43,1001.09 L385.30,1003.69 L385.61,1004.12 L387.82,1007.13 L388.38,1007.87 L390.09,1010.13 L391.46,1011.91 L392.40,1013.11 L394.54,1015.80 L394.75,1016.07 L397.16,1019.01 L397.61,1019.56 L399.61,1021.92 L400.69,1023.18 L402.11,1024.81 L403.77,1026.68 L404.66,1027.67 L406.85,1030.06 L407.27,1030.50 L409.92,1033.31 L409.93,1033.31 L412.63,1036.08 L413.01,1036.45 L415.40,1038.82 L416.09,1039.49 L418.22,1041.52 L419.17,1042.41 L421.10,1044.19 L422.25,1045.23 L424.04,1046.83 L425.32,1047.95 L427.03,1049.42 L428.40,1050.58 L430.09,1051.98 L431.48,1053.11 L433.21,1054.50 L434.56,1055.56 L436.39,1056.97 L437.64,1057.91 L439.64,1059.39 L440.72,1060.17 L442.95,1061.76 L443.80,1062.35 L446.33,1064.08 L446.88,1064.45 L449.78,1066.37 L449.95,1066.49 L453.03,1068.46 L453.29,1068.63 L456.11,1070.38 L456.88,1070.85 L459.19,1072.25 L460.54,1073.06 L462.27,1074.08 L464.28,1075.25 L465.35,1075.86 L468.09,1077.42 L468.43,1077.61 L471.51,1079.33 L471.98,1079.59 L474.58,1081.02 L475.94,1081.76 L477.66,1082.69 L479.99,1083.93 L480.74,1084.33 L483.82,1085.95 L484.12,1086.11 L486.90,1087.55 L488.33,1088.29 L489.98,1089.14 L492.63,1090.50 L493.06,1090.71 L496.14,1092.28 L497.01,1092.72 L499.21,1093.83 L501.49,1094.97 L502.29,1095.37 L505.37,1096.90 L506.05,1097.24 L508.45,1098.43 L510.71,1099.54 L511.53,1099.95 L514.61,1101.47 L515.46,1101.89 L517.69,1103.00 L520.31,1104.30 L520.77,1104.53 L523.84,1106.06 L525.25,1106.76 L526.92,1107.59 L530.00,1109.11 L530.30,1109.25 L533.08,1110.61 L535.44,1111.76 L536.16,1112.11 L539.24,1113.60 L540.69,1114.29 L542.32,1115.06 L545.40,1116.51 L546.05,1116.82 L548.47,1117.95 L551.52,1119.34 L551.55,1119.36 L554.63,1120.74 L557.09,1121.84 L557.71,1122.11 L560.79,1123.45 L562.78,1124.30 L563.87,1124.76 L566.95,1126.05 L568.59,1126.73 L570.03,1127.32 L573.10,1128.55 L574.51,1129.11 L576.18,1129.76 L579.26,1130.94 L580.55,1131.43 L582.34,1132.09 L585.42,1133.21 L586.72,1133.68 L588.50,1134.31 L591.58,1135.37 L593.01,1135.86 L594.66,1136.42 L597.73,1137.45 L599.42,1138.01 L600.81,1138.46 L603.89,1139.45 L605.97,1140.11 L606.97,1140.43 L610.05,1141.39 L612.65,1142.19 L613.13,1142.34 L616.21,1143.27 L619.29,1144.18 L619.46,1144.23 L622.36,1145.08 L625.44,1145.97 L626.41,1146.25 L628.52,1146.85 L631.60,1147.71 L633.50,1148.24 L634.68,1148.56 L637.76,1149.40 L640.74,1150.20 L640.84,1150.22 L643.92,1151.04 L646.99,1151.85 L648.12,1152.14 L650.07,1152.64 L653.15,1153.43 L655.66,1154.06 L656.23,1154.20 L659.31,1154.97 L662.39,1155.72 L663.34,1155.96 L665.47,1156.47 L668.55,1157.21 L671.18,1157.84 L671.62,1157.94 L674.70,1158.67 L677.78,1159.38 L679.18,1159.71 L680.86,1160.09 L683.94,1160.79 L687.02,1161.49 L687.34,1161.56 L690.10,1162.17 L693.18,1162.85 L695.66,1163.40 L696.25,1163.53 L699.33,1164.20 L702.41,1164.86 L704.16,1165.23 L705.49,1165.51 L708.57,1166.16 L711.65,1166.81 L712.82,1167.05 L714.73,1167.45 L717.81,1168.08 L720.88,1168.71 L721.67,1168.87 L723.96,1169.33 L727.04,1169.95 L730.12,1170.56 L730.69,1170.67 L733.20,1171.17 L736.28,1171.78 L739.36,1172.38 L739.89,1172.48 L742.44,1172.97 L745.51,1173.55 L748.59,1174.13 L749.28,1174.26 L751.67,1174.70 L754.75,1175.27 L757.83,1175.83 L758.86,1176.01 L760.91,1176.38 L763.99,1176.93 L767.07,1177.47 L768.63,1177.74 L770.15,1178.01 L773.22,1178.54 L776.30,1179.06 L778.60,1179.45 L779.38,1179.58 L782.46,1180.10 L785.54,1180.61 L788.62,1181.11 L788.78,1181.14 L791.70,1181.61 L794.78,1182.11 L797.85,1182.60 L799.15,1182.81 L800.93,1183.09 L804.01,1183.57 L807.09,1184.06 L809.74,1184.47 L810.17,1184.53 L813.25,1185.01 L816.33,1185.47 L819.41,1185.94 L820.55,1186.11 L822.48,1186.40 L825.56,1186.86 L828.64,1187.32 L831.57,1187.75 L831.72,1187.77 L834.80,1188.23 L837.88,1188.67 L840.96,1189.12 L842.81,1189.39 L844.04,1189.56 L847.11,1190.00 L850.19,1190.44 L853.27,1190.87 L854.29,1191.02 L856.35,1191.31 L859.43,1191.74 L862.51,1192.17 L865.59,1192.59 L865.99,1192.65 L868.67,1193.02 L871.74,1193.44 L874.82,1193.86 L877.90,1194.28 L877.93,1194.28 L880.98,1194.69 L884.06,1195.11 L887.14,1195.52 L890.12,1195.92 L890.22,1195.93 L893.30,1196.34 L896.37,1196.75 L899.45,1197.15 L902.53,1197.56 L902.55,1197.56 L905.61,1197.96 L908.69,1198.36 L911.77,1198.76 L914.85,1199.16 L915.23,1199.21 L917.93,1199.56 L921.00,1199.95 L924.08,1200.35 L927.16,1200.74 L928.17,1200.87 L930.24,1201.14 L933.32,1201.53 L936.40,1201.92 L939.48,1202.31 L941.37,1202.55 L942.56,1202.70 L945.63,1203.08 L948.71,1203.47 L951.79,1203.85 L954.83,1204.23 L954.87,1204.24 L957.95,1204.62 L961.03,1205.00 L964.11,1205.39 L967.19,1205.77 L968.57,1205.94 L970.26,1206.15 L973.34,1206.53 L976.42,1206.91 L979.50,1207.29 L982.58,1207.67 L982.59,1207.67 L985.66,1208.05 L988.74,1208.43 L991.82,1208.81 L994.89,1209.20 L996.89,1209.45 L997.97,1209.58 L1001.05,1209.96 L1004.13,1210.35 L1007.21,1210.73 L1010.29,1211.11 L1011.48,1211.26 L1013.37,1211.49 L1016.45,1211.88 L1019.52,1212.26 L1022.60,1212.64 L1025.68,1213.02 L1026.37,1213.10 L1028.76,1213.40 L1031.84,1213.78 L1034.92,1214.15 L1038.00,1214.53 L1041.08,1214.90 L1041.56,1214.96 L1044.15,1215.28 L1047.23,1215.65 L1050.31,1216.02 L1053.39,1216.39 L1056.47,1216.76 L1057.05,1216.83 L1059.55,1217.13 L1062.63,1217.49 L1065.71,1217.86 L1068.78,1218.22 L1071.86,1218.58 L1072.86,1218.70 L1074.94,1218.94 L1078.02,1219.30 L1081.10,1219.65 L1084.18,1220.01 L1087.26,1220.36 L1088.99,1220.56 L1090.34,1220.71 L1093.41,1221.06 L1096.49,1221.40 L1099.57,1221.75 L1102.65,1222.09 L1105.45,1222.39 L1105.73,1222.43 L1108.81,1222.76 L1111.89,1223.10 L1114.97,1223.43 L1118.05,1223.76 L1121.12,1224.09 L1122.23,1224.21 L1124.20,1224.42 L1127.28,1224.74 L1130.36,1225.06 L1133.44,1225.38 L1136.52,1225.70 L1139.36,1225.99 L1139.60,1226.01 L1142.68,1226.32 L1145.75,1226.63 L1148.83,1226.94 L1151.91,1227.24 L1154.99,1227.54 L1156.84,1227.72 L1158.07,1227.84 L1161.15,1228.14 L1164.23,1228.43 L1167.31,1228.72 L1170.38,1229.01 L1173.46,1229.30 L1174.67,1229.41 L1176.54,1229.58 L1179.62,1229.86 L1182.70,1230.14 L1185.78,1230.42 L1188.86,1230.69 L1191.94,1230.96 L1192.86,1231.04 L1195.01,1231.23 L1198.09,1231.49 L1201.17,1231.75 L1204.25,1232.01 L1207.33,1232.27 L1210.41,1232.52 L1211.41,1232.61 L1213.49,1232.78 L1216.57,1233.03 L1219.64,1233.28 L1222.72,1233.53 L1225.80,1233.77 L1228.88,1234.02 L1230.35,1234.13 L1231.96,1234.26 L1235.04,1234.50 L1238.12,1234.74 L1241.20,1234.97 L1244.27,1235.21 L1247.35,1235.44 L1249.66,1235.62 L1250.43,1235.67 L1253.51,1235.91 L1256.59,1236.13 L1259.67,1236.36 L1262.75,1236.59 L1265.83,1236.81 L1268.90,1237.03 L1269.37,1237.07 L1271.98,1237.26 L1275.06,1237.48 L1278.14,1237.70 L1281.22,1237.91 L1284.30,1238.13 L1287.38,1238.34 L1289.48,1238.49 L1290.46,1238.56 L1293.53,1238.77 L1296.61,1238.98 L1299.69,1239.19 L1302.77,1239.40 L1305.85,1239.60 L1308.93,1239.81 L1309.99,1239.88 L1312.01,1240.02 L1315.09,1240.22 L1318.16,1240.42 L1321.24,1240.62 L1324.32,1240.82 L1327.40,1241.02 L1330.48,1241.22 L1330.92,1241.25 L1333.56,1241.42 L1336.64,1241.61 L1339.72,1241.81 L1342.79,1242.00 L1345.87,1242.20 L1348.95,1242.39 L1352.03,1242.58 L1352.27,1242.60 L1355.11,1242.77 L1358.19,1242.96 L1361.27,1243.15 L1364.35,1243.34 L1367.42,1243.52 L1370.50,1243.71 L1373.58,1243.89 L1374.05,1243.92 L1376.66,1244.08 L1379.74,1244.26 L1382.82,1244.44 L1385.90,1244.63 L1388.98,1244.81 L1392.05,1244.99 L1395.13,1245.17 L1396.28,1245.23 L1398.21,1245.35 L1401.29,1245.52 L1404.37,1245.70 L1407.45,1245.88 L1410.53,1246.05 L1413.61,1246.23 L1416.68,1246.40 L1418.95,1246.53 L1419.76,1246.58 L1422.84,1246.75 L1425.92,1246.92 L1429.00,1247.10 L1432.08,1247.27 L1435.16,1247.44 L1438.24,1247.61 L1441.31,1247.78 L1442.09,1247.82 L1444.39,1247.95 L1447.47,1248.11 L1450.55,1248.28 L1453.63,1248.45 L1456.71,1248.62 L1459.79,1248.78 L1462.87,1248.95 L1465.69,1249.10 L1465.95,1249.11 L1469.02,1249.28 L1472.10,1249.44 L1475.18,1249.60 L1478.26,1249.77 L1481.34,1249.93 L1484.42,1250.09 L1487.50,1250.25 L1489.77,1250.37 L1490.58,1250.42 L1493.65,1250.58 L1496.73,1250.74 L1499.81,1250.90 L1502.89,1251.06 L1505.97,1251.21 L1509.05,1251.37 L1512.13,1251.53 L1514.34,1251.64 L1515.21,1251.69 L1518.28,1251.85 L1521.36,1252.00 L1524.44,1252.16 L1527.52,1252.32 L1530.60,1252.47 L1533.68,1252.63 L1536.76,1252.78 L1539.40,1252.92 L1539.84,1252.94 L1542.91,1253.09 L1545.99,1253.25 L1549.07,1253.40 L1552.15,1253.55 L1555.23,1253.71 L1558.31,1253.86 L1561.39,1254.01 L1564.47,1254.16 L1564.97,1254.19 L1567.54,1254.31 L1570.62,1254.47 L1573.70,1254.62 L1576.78,1254.77 L1579.86,1254.92 L1582.94,1255.07 L1586.02,1255.22 L1589.10,1255.37 L1591.06,1255.46 L1592.17,1255.52 L1595.25,1255.67 L1598.33,1255.82 L1601.41,1255.96 L1604.49,1256.11 L1607.57,1256.26 L1610.65,1256.41 L1613.73,1256.56 L1616.80,1256.70 L1617.68,1256.75 L1619.88,1256.85 L1622.96,1257.00 L1626.04,1257.15 L1629.12,1257.29 L1632.20,1257.44 L1635.28,1257.58 L1638.36,1257.73 L1641.43,1257.88 L1644.51,1258.02 L1644.84,1258.04 L1647.59,1258.17 L1650.67,1258.31 L1653.75,1258.46 L1656.83,1258.60 L1659.91,1258.75 L1662.99,1258.89 L1666.06,1259.03 L1669.14,1259.18 L1672.22,1259.32 L1672.54,1259.34 L1675.30,1259.46 L1678.38,1259.61 L1681.46,1259.75 L1684.54,1259.89 L1687.62,1260.03 L1690.69,1260.17 L1693.77,1260.31 L1696.85,1260.45 L1699.93,1260.59 L1700.81,1260.63 L1703.01,1260.72 L1706.09,1260.86 L1709.17,1261.00 L1712.25,1261.14 L1715.32,1261.27 L1718.40,1261.41 L1721.48,1261.54 L1724.56,1261.68 L1727.64,1261.81 L1729.65,1261.90 L1730.72,1261.95 L1733.80,1262.08 L1736.88,1262.21 L1739.95,1262.35 L1743.03,1262.48 L1746.11,1262.61 L1749.19,1262.74 L1752.27,1262.88 L1755.35,1263.01 L1758.43,1263.14 L1759.07,1263.16 L1761.51,1263.27 L1764.58,1263.40 L1767.66,1263.53 L1770.74,1263.66 L1773.82,1263.79 L1776.90,1263.92 L1779.98,1264.04 L1783.06,1264.17 L1786.14,1264.30 L1789.09,1264.42 L1789.22,1264.43 L1792.29,1264.56 L1795.37,1264.68 L1798.45,1264.81 L1801.53,1264.94 L1804.61,1265.07 L1807.69,1265.19 L1810.77,1265.32 L1813.85,1265.44 L1816.92,1265.57 L1819.71,1265.68 L1820.00,1265.70 L1823.08,1265.82 L1826.16,1265.95 L1829.24,1266.07 L1832.32,1266.20 L1835.40,1266.32 L1838.48,1266.45 L1841.55,1266.57 L1844.63,1266.69 L1847.71,1266.82 L1850.79,1266.94 L1850.96,1266.95 L1853.87,1267.07 L1856.95,1267.19 L1860.03,1267.31 L1863.11,1267.44 L1866.18,1267.56 L1869.26,1267.68 L1872.34,1267.81 L1875.42,1267.93 L1878.50,1268.05 L1881.58,1268.17 L1882.84,1268.22 L1884.66,1268.30 L1887.74,1268.42 L1890.81,1268.54 L1893.89,1268.66 L1896.97,1268.78 L1900.05,1268.91 L1903.13,1269.03 L1906.21,1269.15 L1909.29,1269.27 L1912.37,1269.39 L1915.36,1269.51 L1915.44,1269.51 L1918.52,1269.64 L1921.60,1269.76 L1924.68,1269.88 L1927.76,1270.00 L1930.84,1270.12 L1933.92,1270.24 L1937.00,1270.36 L1940.07,1270.49 L1943.15,1270.61 L1946.23,1270.73 L1948.54,1270.82 L1949.31,1270.85 L1952.39,1270.97 L1955.47,1271.09 L1958.55,1271.21 L1961.63,1271.33 L1964.70,1271.45 L1967.78,1271.57 L1970.86,1271.70 L1973.94,1271.82 L1977.02,1271.94 L1980.10,1272.06 L1982.40,1272.15 L1983.18,1272.18 L1986.26,1272.30 L1989.33,1272.42 L1992.41,1272.54 L1995.49,1272.66 L1998.57,1272.78 L2001.65,1272.90 L2004.73,1273.02 L2007.81,1273.15 L2010.89,1273.27 L2013.96,1273.39 L2016.93,1273.50 L2017.04,1273.51 L2020.12,1273.63 L2023.20,1273.75 L2026.28,1273.87 L2029.36,1273.99 L2032.44,1274.11 L2035.52,1274.23 L2038.59,1274.36 L2041.67,1274.48 L2044.75,1274.60 L2047.83,1274.72 L2050.91,1274.84 L2052.17,1274.89 L2053.99,1274.96 L2057.07,1275.09 L2060.15,1275.21 L2063.22,1275.33 L2066.30,1275.46 L2069.38,1275.59 L2072.46,1275.72 L2075.54,1275.84 L2078.62,1275.97 L2081.70,1276.10 L2084.78,1276.23 L2087.85,1276.36 L2088.12,1276.38 L2090.93,1276.49 L2094.01,1276.63 L2097.09,1276.76 L2100.17,1276.89 L2103.25,1277.02 L2106.33,1277.15 L2109.41,1277.28 L2112.48,1277.41 L2115.56,1277.54 L2118.64,1277.67 L2121.72,1277.80 L2124.80,1277.93 L2124.80,1277.93" fill="none" stroke="#0000ff" stroke-width="2.6" stroke-linejoin="round"/>
<polygon points="280.62,345.95 284.56,355.41 294.77,356.23 286.99,362.90 289.37,372.87 280.62,367.53 271.88,372.87 274.25,362.90 266.47,356.23 276.69,355.41" fill="#0000ff"/>
<polygon points="357.58,946.13 361.51,955.59 371.73,956.41 363.95,963.08 366.32,973.05 357.58,967.71 348.83,973.05 351.21,963.08 343.43,956.41 353.64,955.59" fill="#0000ff"/>
<polygon points="434.53,1042.58 438.47,1052.04 448.69,1052.86 440.90,1059.53 443.28,1069.50 434.53,1064.15 425.79,1069.50 428.17,1059.53 420.38,1052.86 430.60,1052.04" fill="#0000ff"/>
<polygon points="511.49,1086.97 515.43,1096.43 525.64,1097.25 517.86,1103.92 520.24,1113.89 511.49,1108.55 502.74,1113.89 505.12,1103.92 497.34,1097.25 507.56,1096.43" fill="#0000ff"/>
<polygon points="588.45,1121.33 592.38,1130.79 602.60,1131.61 594.82,1138.28 597.19,1148.25 588.45,1142.91 579.70,1148.25 582.08,1138.28 574.30,1131.61 584.51,1130.79" fill="#0000ff"/>
<polygon points="665.40,1143.50 669.34,1152.96 679.56,1153.78 671.77,1160.45 674.15,1170.42 665.40,1165.07 656.66,1170.42 659.04,1160.45 651.25,1153.78 661.47,1152.96" fill="#0000ff"/>
<polygon points="742.36,1159.99 746.30,1169.46 756.51,1170.28 748.73,1176.94 751.11,1186.91 742.36,1181.57 733.61,1186.91 735.99,1176.94 728.21,1170.28 738.42,1169.46" fill="#0000ff"/>
<polygon points="819.32,1172.97 823.25,1182.43 833.47,1183.25 825.68,1189.92 828.06,1199.89 819.32,1194.54 810.57,1199.89 812.95,1189.92 805.16,1183.25 815.38,1182.43" fill="#0000ff"/>
<polygon points="896.27,1183.77 900.21,1193.24 910.42,1194.05 902.64,1200.72 905.02,1210.69 896.27,1205.35 887.53,1210.69 889.90,1200.72 882.12,1194.05 892.34,1193.24" fill="#0000ff"/>
<polygon points="973.23,1193.55 977.16,1203.02 987.38,1203.83 979.60,1210.50 981.97,1220.47 973.23,1215.13 964.48,1220.47 966.86,1210.50 959.08,1203.83 969.29,1203.02" fill="#0000ff"/>
<polygon points="1050.18,1203.05 1054.12,1212.51 1064.34,1213.33 1056.55,1220.00 1058.93,1229.97 1050.18,1224.62 1041.44,1229.97 1043.82,1220.00 1036.03,1213.33 1046.25,1212.51" fill="#0000ff"/>
<polygon points="1127.14,1211.76 1131.08,1221.23 1141.29,1222.05 1133.51,1228.71 1135.89,1238.68 1127.14,1233.34 1118.40,1238.68 1120.77,1228.71 1112.99,1222.05 1123.21,1221.23" fill="#0000ff"/>
<polygon points="1204.10,1219.04 1208.03,1228.50 1218.25,1229.32 1210.47,1235.99 1212.84,1245.96 1204.10,1240.62 1195.35,1245.96 1197.73,1235.99 1189.95,1229.32 1200.16,1228.50" fill="#0000ff"/>
<polygon points="1281.05,1224.94 1284.99,1234.40 1295.21,1235.22 1287.42,1241.89 1289.80,1251.86 1281.05,1246.52 1272.31,1251.86 1274.69,1241.89 1266.90,1235.22 1277.12,1234.40" fill="#0000ff"/>
<polygon points="1358.01,1229.99 1361.95,1239.45 1372.16,1240.27 1364.38,1246.94 1366.76,1256.91 1358.01,1251.57 1349.26,1256.91 1351.64,1246.94 1343.86,1240.27 1354.07,1239.45" fill="#0000ff"/>
<polygon points="1434.97,1234.47 1438.90,1243.93 1449.12,1244.75 1441.33,1251.42 1443.71,1261.38 1434.97,1256.04 1426.22,1261.38 1428.60,1251.42 1420.81,1244.75 1431.03,1243.93" fill="#0000ff"/>
<polygon points="1511.92,1238.56 1515.86,1248.02 1526.07,1248.84 1518.29,1255.51 1520.67,1265.48 1511.92,1260.14 1503.18,1265.48 1505.55,1255.51 1497.77,1248.84 1507.99,1248.02" fill="#0000ff"/>
<polygon points="1588.88,1242.40 1592.81,1251.86 1603.03,1252.68 1595.25,1259.35 1597.63,1269.32 1588.88,1263.97 1580.13,1269.32 1582.51,1259.35 1574.73,1252.68 1584.94,1251.86" fill="#0000ff"/>
<polygon points="1665.84,1246.06 1669.77,1255.53 1679.99,1256.35 1672.20,1263.01 1674.58,1272.98 1665.84,1267.64 1657.09,1272.98 1659.47,1263.01 1651.68,1256.35 1661.90,1255.53" fill="#0000ff"/>
<polygon points="1742.79,1249.51 1746.73,1258.97 1756.94,1259.79 1749.16,1266.46 1751.54,1276.43 1742.79,1271.09 1734.05,1276.43 1736.42,1266.46 1728.64,1259.79 1738.86,1258.97" fill="#0000ff"/>
<polygon points="1819.75,1252.73 1823.68,1262.19 1833.90,1263.01 1826.12,1269.67 1828.49,1279.64 1819.75,1274.30 1811.00,1279.64 1813.38,1269.67 1805.60,1263.01 1815.81,1262.19" fill="#0000ff"/>
<polygon points="1896.70,1255.81 1900.64,1265.28 1910.86,1266.10 1903.07,1272.76 1905.45,1282.73 1896.70,1277.39 1887.96,1282.73 1890.34,1272.76 1882.55,1266.10 1892.77,1265.28" fill="#0000ff"/>
<polygon points="1973.66,1258.85 1977.60,1268.31 1987.81,1269.13 1980.03,1275.79 1982.41,1285.76 1973.66,1280.42 1964.91,1285.76 1967.29,1275.79 1959.51,1269.13 1969.72,1268.31" fill="#0000ff"/>
<polygon points="2050.62,1261.87 2054.55,1271.33 2064.77,1272.15 2056.99,1278.82 2059.36,1288.79 2050.62,1283.45 2041.87,1288.79 2044.25,1278.82 2036.47,1272.15 2046.68,1271.33" fill="#0000ff"/>
<path d="M280.62,302.79 L280.72,308.28 L280.81,313.77 L280.91,319.25 L281.01,324.72 L281.11,330.19 L281.21,335.64 L281.32,341.09 L281.43,346.53 L281.54,351.96 L281.65,357.39 L281.76,362.80 L281.88,368.20 L282.00,373.60 L282.12,378.98 L282.24,384.36 L282.37,389.72 L282.50,395.08 L282.63,400.42 L282.76,405.75 L282.90,411.08 L283.04,416.39 L283.18,421.69 L283.33,426.97 L283.48,432.25 L283.63,437.51 L283.70,440.01 L283.78,442.76 L283.94,448.00 L284.10,453.22 L284.26,458.44 L284.43,463.64 L284.60,468.82 L284.78,473.99 L284.95,479.15 L285.14,484.30 L285.32,489.43 L285.51,494.55 L285.70,499.65 L285.90,504.74 L286.10,509.81 L286.30,514.87 L286.51,519.91 L286.72,524.94 L286.78,526.25 L286.94,529.95 L287.16,534.95 L287.39,539.94 L287.62,544.90 L287.85,549.85 L288.09,554.79 L288.34,559.71 L288.59,564.61 L288.84,569.50 L289.10,574.37 L289.37,579.22 L289.64,584.06 L289.86,587.90 L289.91,588.88 L290.20,593.68 L290.48,598.47 L290.78,603.24 L291.08,607.99 L291.38,612.72 L291.69,617.44 L292.01,622.14 L292.33,626.82 L292.66,631.49 L292.94,635.25 L293.00,636.14 L293.35,640.76 L293.70,645.38 L294.06,649.97 L294.42,654.54 L294.79,659.10 L295.17,663.64 L295.56,668.16 L295.96,672.66 L296.02,673.31 L296.36,677.15 L296.77,681.61 L297.19,686.06 L297.62,690.49 L298.06,694.90 L298.51,699.29 L298.96,703.66 L299.09,704.90 L299.43,708.01 L299.90,712.35 L300.39,716.66 L300.88,720.96 L301.38,725.24 L301.90,729.49 L302.17,731.74 L302.42,733.73 L302.96,737.95 L303.50,742.16 L304.06,746.34 L304.63,750.50 L305.21,754.64 L305.25,754.97 L305.80,758.77 L306.40,762.87 L307.01,766.96 L307.64,771.03 L308.28,775.07 L308.33,775.37 L308.94,779.10 L309.60,783.11 L310.28,787.10 L310.98,791.07 L311.41,793.49 L311.69,795.02 L312.41,798.95 L313.14,802.86 L313.90,806.76 L314.49,809.75 L314.66,810.63 L315.45,814.48 L316.24,818.32 L317.06,822.13 L317.57,824.46 L317.89,825.93 L318.74,829.70 L319.60,833.46 L320.49,837.20 L320.65,837.87 L321.39,840.91 L322.30,844.61 L323.24,848.29 L323.72,850.15 L324.20,851.95 L325.17,855.59 L326.17,859.21 L326.80,861.47 L327.18,862.81 L328.22,866.40 L329.28,869.96 L329.88,871.96 L330.36,873.50 L331.46,877.03 L332.58,880.54 L332.96,881.71 L333.72,884.02 L334.89,887.49 L336.04,890.81 L336.08,890.94 L337.30,894.37 L338.54,897.78 L339.12,899.34 L339.81,901.17 L341.10,904.54 L342.20,907.35 L342.42,907.90 L343.76,911.23 L345.13,914.55 L345.28,914.89 L346.53,917.84 L347.96,921.12 L348.35,922.02 L349.41,924.38 L350.90,927.62 L351.43,928.77 L352.42,930.85 L353.96,934.05 L354.51,935.17 L355.54,937.23 L357.15,940.40 L357.59,941.25 L358.79,943.55 L360.47,946.71 L360.67,947.08 L362.18,949.86 L363.75,952.71 L363.92,953.02 L365.70,956.17 L366.83,958.13 L367.52,959.33 L369.37,962.48 L369.91,963.37 L371.26,965.62 L372.98,968.44 L373.19,968.77 L375.16,971.90 L376.06,973.33 L377.16,975.03 L379.14,978.05 L379.21,978.15 L381.30,981.27 L382.22,982.62 L383.43,984.37 L385.30,987.04 L385.61,987.47 L387.82,990.55 L388.38,991.31 L390.09,993.63 L391.46,995.45 L392.40,996.69 L394.54,999.46 L394.75,999.74 L397.16,1002.78 L397.61,1003.35 L399.61,1005.80 L400.69,1007.11 L402.11,1008.80 L403.77,1010.76 L404.66,1011.80 L406.85,1014.30 L407.27,1014.77 L409.92,1017.73 L409.93,1017.74 L412.63,1020.67 L413.01,1021.07 L415.40,1023.60 L416.09,1024.31 L418.22,1026.50 L419.17,1027.46 L421.10,1029.39 L422.25,1030.52 L424.04,1032.26 L425.32,1033.49 L427.03,1035.11 L428.40,1036.39 L430.09,1037.94 L431.48,1039.20 L433.21,1040.75 L434.56,1041.94 L436.39,1043.54 L437.64,1044.61 L439.64,1046.31 L440.72,1047.22 L442.95,1049.07 L443.80,1049.77 L446.33,1051.82 L446.88,1052.26 L449.78,1054.55 L449.95,1054.69 L453.03,1057.08 L453.29,1057.28 L456.11,1059.41 L456.88,1059.99 L459.19,1061.70 L460.54,1062.69 L462.27,1063.93 L464.28,1065.37 L465.35,1066.13 L468.09,1068.05 L468.43,1068.28 L471.51,1070.39 L471.98,1070.71 L474.58,1072.46 L475.94,1073.37 L477.66,1074.50 L479.99,1076.01 L480.74,1076.49 L483.82,1078.45 L484.12,1078.64 L486.90,1080.38 L488.33,1081.26 L489.98,1082.27 L492.63,1083.87 L493.06,1084.13 L496.14,1085.96 L497.01,1086.47 L499.21,1087.76 L501.49,1089.07 L502.29,1089.53 L505.37,1091.27 L506.05,1091.65 L508.45,1092.98 L510.71,1094.22 L511.53,1094.67 L514.61,1096.33 L515.46,1096.78 L517.69,1097.96 L520.31,1099.34 L520.77,1099.58 L523.84,1101.17 L525.25,1101.88 L526.92,1102.73 L530.00,1104.27 L530.30,1104.42 L533.08,1105.80 L535.44,1106.95 L536.16,1107.30 L539.24,1108.78 L540.69,1109.47 L542.32,1110.24 L545.40,1111.68 L546.05,1111.98 L548.47,1113.10 L551.52,1114.48 L551.55,1114.50 L554.63,1115.89 L557.09,1116.98 L557.71,1117.25 L560.79,1118.60 L562.78,1119.47 L563.87,1119.94 L566.95,1121.25 L568.59,1121.95 L570.03,1122.55 L573.10,1123.84 L574.51,1124.42 L576.18,1125.11 L579.26,1126.37 L580.55,1126.89 L582.34,1127.61 L585.42,1128.83 L586.72,1129.34 L588.50,1130.04 L591.58,1131.25 L593.01,1131.80 L594.66,1132.44 L597.73,1133.62 L599.42,1134.26 L600.81,1134.79 L603.89,1135.95 L605.97,1136.73 L606.97,1137.10 L610.05,1138.24 L612.65,1139.20 L613.13,1139.37 L616.21,1140.49 L619.29,1141.60 L619.46,1141.67 L622.36,1142.70 L625.44,1143.79 L626.41,1144.13 L628.52,1144.86 L631.60,1145.93 L633.50,1146.58 L634.68,1146.98 L637.76,1148.02 L640.74,1149.02 L640.84,1149.05 L643.92,1150.07 L646.99,1151.08 L648.12,1151.44 L650.07,1152.07 L653.15,1153.05 L655.66,1153.85 L656.23,1154.03 L659.31,1154.99 L662.39,1155.94 L663.34,1156.23 L665.47,1156.88 L668.55,1157.80 L671.18,1158.59 L671.62,1158.72 L674.70,1159.62 L677.78,1160.52 L679.18,1160.92 L680.86,1161.40 L683.94,1162.27 L687.02,1163.13 L687.34,1163.22 L690.10,1163.98 L693.18,1164.82 L695.66,1165.49 L696.25,1165.65 L699.33,1166.47 L702.41,1167.27 L704.16,1167.72 L705.49,1168.07 L708.57,1168.85 L711.65,1169.63 L712.82,1169.92 L714.73,1170.39 L717.81,1171.15 L720.88,1171.89 L721.67,1172.08 L723.96,1172.63 L727.04,1173.35 L730.12,1174.06 L730.69,1174.19 L733.20,1174.77 L736.28,1175.46 L739.36,1176.15 L739.89,1176.27 L742.44,1176.82 L745.51,1177.49 L748.59,1178.14 L749.28,1178.28 L751.67,1178.78 L754.75,1179.41 L757.83,1180.03 L758.86,1180.24 L760.91,1180.65 L763.99,1181.25 L767.07,1181.85 L768.63,1182.15 L770.15,1182.44 L773.22,1183.02 L776.30,1183.59 L778.60,1184.01 L779.38,1184.16 L782.46,1184.72 L785.54,1185.27 L788.62,1185.81 L788.78,1185.84 L791.70,1186.35 L794.78,1186.89 L797.85,1187.42 L799.15,1187.64 L800.93,1187.94 L804.01,1188.46 L807.09,1188.97 L809.74,1189.41 L810.17,1189.48 L813.25,1189.98 L816.33,1190.48 L819.41,1190.98 L820.55,1191.16 L822.48,1191.47 L825.56,1191.96 L828.64,1192.44 L831.57,1192.90 L831.72,1192.92 L834.80,1193.40 L837.88,1193.87 L840.96,1194.34 L842.81,1194.63 L844.04,1194.81 L847.11,1195.28 L850.19,1195.74 L853.27,1196.20 L854.29,1196.35 L856.35,1196.66 L859.43,1197.12 L862.51,1197.57 L865.59,1198.02 L865.99,1198.08 L868.67,1198.47 L871.74,1198.92 L874.82,1199.36 L877.90,1199.81 L877.93,1199.81 L880.98,1200.25 L884.06,1200.69 L887.14,1201.13 L890.12,1201.56 L890.22,1201.57 L893.30,1202.01 L896.37,1202.45 L899.45,1202.88 L902.53,1203.32 L902.55,1203.32 L905.61,1203.75 L908.69,1204.18 L911.77,1204.61 L914.85,1205.05 L915.23,1205.10 L917.93,1205.48 L921.00,1205.91 L924.08,1206.33 L927.16,1206.76 L928.17,1206.90 L930.24,1207.19 L933.32,1207.62 L936.40,1208.05 L939.48,1208.47 L941.37,1208.74 L942.56,1208.90 L945.63,1209.33 L948.71,1209.75 L951.79,1210.18 L954.83,1210.60 L954.87,1210.61 L957.95,1211.03 L961.03,1211.46 L964.11,1211.88 L967.19,1212.31 L968.57,1212.50 L970.26,1212.74 L973.34,1213.16 L976.42,1213.59 L979.50,1214.02 L982.58,1214.45 L982.59,1214.46 L985.66,1214.89 L988.74,1215.33 L991.82,1215.77 L994.89,1216.21 L996.89,1216.50 L997.97,1216.65 L1001.05,1217.10 L1004.13,1217.54 L1007.21,1217.99 L1010.29,1218.43 L1011.48,1218.61 L1013.37,1218.88 L1016.45,1219.33 L1019.52,1219.78 L1022.60,1220.22 L1025.68,1220.67 L1026.37,1220.77 L1028.76,1221.12 L1031.84,1221.57 L1034.92,1222.01 L1038.00,1222.46 L1041.08,1222.90 L1041.56,1222.97 L1044.15,1223.35 L1047.23,1223.79 L1050.31,1224.23 L1053.39,1224.67 L1056.47,1225.11 L1057.05,1225.19 L1059.55,1225.55 L1062.63,1225.98 L1065.71,1226.41 L1068.78,1226.84 L1071.86,1227.27 L1072.86,1227.41 L1074.94,1227.70 L1078.02,1228.13 L1081.10,1228.55 L1084.18,1228.97 L1087.26,1229.39 L1088.99,1229.62 L1090.34,1229.80 L1093.41,1230.21 L1096.49,1230.62 L1099.57,1231.03 L1102.65,1231.44 L1105.45,1231.80 L1105.73,1231.84 L1108.81,1232.24 L1111.89,1232.63 L1114.97,1233.03 L1118.05,1233.41 L1121.12,1233.80 L1122.23,1233.94 L1124.20,1234.18 L1127.28,1234.56 L1130.36,1234.94 L1133.44,1235.31 L1136.52,1235.68 L1139.36,1236.02 L1139.60,1236.05 L1142.68,1236.41 L1145.75,1236.77 L1148.83,1237.13 L1151.91,1237.48 L1154.99,1237.83 L1156.84,1238.04 L1158.07,1238.17 L1161.15,1238.52 L1164.23,1238.85 L1167.31,1239.19 L1170.38,1239.52 L1173.46,1239.84 L1174.67,1239.97 L1176.54,1240.17 L1179.62,1240.49 L1182.70,1240.80 L1185.78,1241.11 L1188.86,1241.42 L1191.94,1241.72 L1192.86,1241.81 L1195.01,1242.02 L1198.09,1242.32 L1201.17,1242.61 L1204.25,1242.90 L1207.33,1243.18 L1210.41,1243.46 L1211.41,1243.55 L1213.49,1243.74 L1216.57,1244.02 L1219.64,1244.29 L1222.72,1244.56 L1225.80,1244.83 L1228.88,1245.09 L1230.35,1245.22 L1231.96,1245.36 L1235.04,1245.62 L1238.12,1245.87 L1241.20,1246.13 L1244.27,1246.38 L1247.35,1246.63 L1249.66,1246.82 L1250.43,1246.88 L1253.51,1247.13 L1256.59,1247.37 L1259.67,1247.61 L1262.75,1247.85 L1265.83,1248.09 L1268.90,1248.33 L1269.37,1248.36 L1271.98,1248.56 L1275.06,1248.80 L1278.14,1249.03 L1281.22,1249.26 L1284.30,1249.48 L1287.38,1249.71 L1289.48,1249.86 L1290.46,1249.93 L1293.53,1250.15 L1296.61,1250.37 L1299.69,1250.59 L1302.77,1250.81 L1305.85,1251.03 L1308.93,1251.24 L1309.99,1251.31 L1312.01,1251.45 L1315.09,1251.66 L1318.16,1251.87 L1321.24,1252.08 L1324.32,1252.29 L1327.40,1252.50 L1330.48,1252.70 L1330.92,1252.73 L1333.56,1252.91 L1336.64,1253.11 L1339.72,1253.31 L1342.79,1253.51 L1345.87,1253.71 L1348.95,1253.91 L1352.03,1254.10 L1352.27,1254.12 L1355.11,1254.30 L1358.19,1254.49 L1361.27,1254.69 L1364.35,1254.88 L1367.42,1255.07 L1370.50,1255.26 L1373.58,1255.45 L1374.05,1255.48 L1376.66,1255.64 L1379.74,1255.83 L1382.82,1256.01 L1385.90,1256.20 L1388.98,1256.38 L1392.05,1256.57 L1395.13,1256.75 L1396.28,1256.82 L1398.21,1256.94 L1401.29,1257.12 L1404.37,1257.30 L1407.45,1257.48 L1410.53,1257.66 L1413.61,1257.84 L1416.68,1258.02 L1418.95,1258.15 L1419.76,1258.20 L1422.84,1258.38 L1425.92,1258.55 L1429.00,1258.73 L1432.08,1258.90 L1435.16,1259.08 L1438.24,1259.25 L1441.31,1259.43 L1442.09,1259.47 L1444.39,1259.60 L1447.47,1259.78 L1450.55,1259.95 L1453.63,1260.12 L1456.71,1260.29 L1459.79,1260.46 L1462.87,1260.63 L1465.69,1260.79 L1465.95,1260.80 L1469.02,1260.97 L1472.10,1261.14 L1475.18,1261.31 L1478.26,1261.48 L1481.34,1261.65 L1484.42,1261.82 L1487.50,1261.99 L1489.77,1262.11 L1490.58,1262.15 L1493.65,1262.32 L1496.73,1262.49 L1499.81,1262.66 L1502.89,1262.82 L1505.97,1262.99 L1509.05,1263.15 L1512.13,1263.32 L1514.34,1263.44 L1515.21,1263.48 L1518.28,1263.65 L1521.36,1263.81 L1524.44,1263.98 L1527.52,1264.14 L1530.60,1264.31 L1533.68,1264.47 L1536.76,1264.64 L1539.40,1264.78 L1539.84,1264.80 L1542.91,1264.96 L1545.99,1265.13 L1549.07,1265.29 L1552.15,1265.45 L1555.23,1265.62 L1558.31,1265.78 L1561.39,1265.94 L1564.47,1266.10 L1564.97,1266.13 L1567.54,1266.27 L1570.62,1266.43 L1573.70,1266.59 L1576.78,1266.75 L1579.86,1266.92 L1582.94,1267.08 L1586.02,1267.24 L1589.10,1267.40 L1591.06,1267.51 L1592.17,1267.56 L1595.25,1267.73 L1598.33,1267.89 L1601.41,1268.05 L1604.49,1268.21 L1607.57,1268.37 L1610.65,1268.53 L1613.73,1268.70 L1616.80,1268.86 L1617.68,1268.90 L1619.88,1269.02 L1622.96,1269.18 L1626.04,1269.34 L1629.12,1269.50 L1632.20,1269.67 L1635.28,1269.83 L1638.36,1269.99 L1641.43,1270.15 L1644.51,1270.31 L1644.84,1270.33 L1647.59,1270.47 L1650.67,1270.64 L1653.75,1270.80 L1656.83,1270.96 L1659.91,1271.12 L1662.99,1271.28 L1666.06,1271.45 L1669.14,1271.61 L1672.22,1271.77 L1672.54,1271.79 L1675.30,1271.94 L1678.38,1272.10 L1681.46,1272.27 L1684.54,1272.44 L1687.62,1272.61 L1690.69,1272.78 L1693.77,1272.95 L1696.85,1273.12 L1699.93,1273.29 L1700.81,1273.34 L1703.01,1273.46 L1706.09,1273.64 L1709.17,1273.81 L1712.25,1273.99 L1715.32,1274.16 L1718.40,1274.34 L1721.48,1274.51 L1724.56,1274.69 L1727.64,1274.87 L1729.65,1274.98 L1730.72,1275.05 L1733.80,1275.22 L1736.88,1275.40 L1739.95,1275.58 L1743.03,1275.76 L1746.11,1275.93 L1749.19,1276.11 L1752.27,1276.29 L1755.35,1276.47 L1758.43,1276.65 L1759.07,1276.69 L1761.51,1276.83 L1764.58,1277.01 L1767.66,1277.18 L1770.74,1277.36 L1773.82,1277.54 L1776.90,1277.72 L1779.98,1277.90 L1783.06,1278.07 L1786.14,1278.25 L1789.09,1278.42 L1789.22,1278.43 L1792.29,1278.60 L1795.37,1278.78 L1798.45,1278.96 L1801.53,1279.13 L1804.61,1279.31 L1807.69,1279.48 L1810.77,1279.66 L1813.85,1279.83 L1816.92,1280.00 L1819.71,1280.16 L1820.00,1280.18 L1823.08,1280.35 L1826.16,1280.52 L1829.24,1280.69 L1832.32,1280.86 L1835.40,1281.03 L1838.48,1281.20 L1841.55,1281.37 L1844.63,1281.53 L1847.71,1281.70 L1850.79,1281.87 L1850.96,1281.87 L1853.87,1282.03 L1856.95,1282.19 L1860.03,1282.36 L1863.11,1282.52 L1866.18,1282.68 L1869.26,1282.84 L1872.34,1283.00 L1875.42,1283.16 L1878.50,1283.32 L1881.58,1283.48 L1882.84,1283.54 L1884.66,1283.63 L1887.74,1283.79 L1890.81,1283.94 L1893.89,1284.10 L1896.97,1284.25 L1900.05,1284.40 L1903.13,1284.55 L1906.21,1284.70 L1909.29,1284.85 L1912.37,1285.00 L1915.36,1285.14 L1915.44,1285.14 L1918.52,1285.29 L1921.60,1285.43 L1924.68,1285.57 L1927.76,1285.71 L1930.84,1285.85 L1933.92,1285.99 L1937.00,1286.13 L1940.07,1286.27 L1943.15,1286.40 L1946.23,1286.54 L1948.54,1286.64 L1949.31,1286.67 L1952.39,1286.80 L1955.47,1286.93 L1958.55,1287.06 L1961.63,1287.19 L1964.70,1287.32 L1967.78,1287.44 L1970.86,1287.57 L1973.94,1287.69 L1977.02,1287.81 L1980.10,1287.93 L1982.40,1288.02 L1983.18,1288.05 L1986.26,1288.17 L1989.33,1288.29 L1992.41,1288.40 L1995.49,1288.52 L1998.57,1288.63 L2001.65,1288.74 L2004.73,1288.85 L2007.81,1288.96 L2010.89,1289.06 L2013.96,1289.17 L2016.93,1289.27 L2017.04,1289.27 L2020.12,1289.38 L2023.20,1289.48 L2026.28,1289.58 L2029.36,1289.68 L2032.44,1289.77 L2035.52,1289.87 L2038.59,1289.96 L2041.67,1290.06 L2044.75,1290.15 L2047.83,1290.24 L2050.91,1290.32 L2052.17,1290.36 L2053.99,1290.41 L2057.07,1290.50 L2060.15,1290.58 L2063.22,1290.66 L2066.30,1290.74 L2069.38,1290.82 L2072.46,1290.89 L2075.54,1290.97 L2078.62,1291.04 L2081.70,1291.12 L2084.78,1291.19 L2087.85,1291.26 L2088.12,1291.26 L2090.93,1291.33 L2094.01,1291.40 L2097.09,1291.46 L2100.17,1291.53 L2103.25,1291.60 L2106.33,1291.66 L2109.41,1291.73 L2112.48,1291.79 L2115.56,1291.86 L2118.64,1291.92 L2121.72,1291.98 L2124.80,1292.04 L2124.80,1292.04" fill="none" stroke="#660033" stroke-width="2.6" stroke-linejoin="round"/>
<polygon points="266.94,302.79 289.74,289.59 289.74,315.99" fill="#660033"/>
<polygon points="343.90,941.23 366.70,928.03 366.70,954.43" fill="#660033"/>
<polygon points="420.85,1041.92 443.65,1028.72 443.65,1055.12" fill="#660033"/>
<polygon points="497.81,1094.65 520.61,1081.45 520.61,1107.85" fill="#660033"/>
<polygon points="574.77,1130.02 597.57,1116.82 597.57,1143.22" fill="#660033"/>
<polygon points="651.72,1156.86 674.52,1143.66 674.52,1170.06" fill="#660033"/>
<polygon points="728.68,1176.81 751.48,1163.61 751.48,1190.01" fill="#660033"/>
<polygon points="805.64,1190.96 828.44,1177.76 828.44,1204.16" fill="#660033"/>
<polygon points="882.59,1202.43 905.39,1189.23 905.39,1215.63" fill="#660033"/>
<polygon points="959.55,1213.15 982.35,1199.95 982.35,1226.35" fill="#660033"/>
<polygon points="1036.50,1224.21 1059.30,1211.01 1059.30,1237.41" fill="#660033"/>
<polygon points="1113.46,1234.55 1136.26,1221.35 1136.26,1247.75" fill="#660033"/>
<polygon points="1190.42,1242.88 1213.22,1229.68 1213.22,1256.08" fill="#660033"/>
<polygon points="1267.37,1249.24 1290.17,1236.04 1290.17,1262.44" fill="#660033"/>
<polygon points="1344.33,1254.48 1367.13,1241.28 1367.13,1267.68" fill="#660033"/>
<polygon points="1421.29,1259.07 1444.09,1245.87 1444.09,1272.27" fill="#660033"/>
<polygon points="1498.24,1263.31 1521.04,1250.11 1521.04,1276.51" fill="#660033"/>
<polygon points="1575.20,1267.39 1598.00,1254.19 1598.00,1280.59" fill="#660033"/>
<polygon points="1652.16,1271.43 1674.96,1258.23 1674.96,1284.63" fill="#660033"/>
<polygon points="1729.11,1275.74 1751.91,1262.54 1751.91,1288.94" fill="#660033"/>
<polygon points="1806.07,1280.16 1828.87,1266.96 1828.87,1293.36" fill="#660033"/>
<polygon points="1883.02,1284.24 1905.82,1271.04 1905.82,1297.44" fill="#660033"/>
<polygon points="1959.98,1287.68 1982.78,1274.48 1982.78,1300.88" fill="#660033"/>
<polygon points="2036.94,1290.32 2059.74,1277.12 2059.74,1303.52" fill="#660033"/>
<path d="M280.62,372.52 L280.72,377.77 L280.81,383.02 L280.91,388.26 L281.01,393.50 L281.11,398.72 L281.21,403.94 L281.32,409.15 L281.43,414.35 L281.54,419.54 L281.65,424.72 L281.76,429.89 L281.88,435.06 L282.00,440.21 L282.12,445.35 L282.24,450.48 L282.37,455.60 L282.50,460.72 L282.63,465.82 L282.76,470.90 L282.90,475.98 L283.04,481.05 L283.18,486.10 L283.33,491.14 L283.48,496.17 L283.63,501.19 L283.70,503.57 L283.78,506.19 L283.94,511.19 L284.10,516.16 L284.26,521.13 L284.43,526.08 L284.60,531.02 L284.78,535.95 L284.95,540.86 L285.14,545.76 L285.32,550.64 L285.51,555.51 L285.70,560.37 L285.90,565.21 L286.10,570.04 L286.30,574.85 L286.51,579.65 L286.72,584.43 L286.78,585.67 L286.94,589.20 L287.16,593.95 L287.39,598.68 L287.62,603.40 L287.85,608.11 L288.09,612.80 L288.34,617.47 L288.59,622.13 L288.84,626.77 L289.10,631.39 L289.37,636.00 L289.64,640.59 L289.86,644.24 L289.91,645.17 L290.20,649.73 L290.48,654.27 L290.78,658.79 L291.08,663.30 L291.38,667.79 L291.69,672.27 L292.01,676.73 L292.33,681.16 L292.66,685.59 L292.94,689.15 L293.00,689.99 L293.35,694.38 L293.70,698.75 L294.06,703.10 L294.42,707.44 L294.79,711.75 L295.17,716.05 L295.56,720.33 L295.96,724.60 L296.02,725.21 L296.36,728.84 L296.77,733.07 L297.19,737.28 L297.62,741.47 L298.06,745.64 L298.51,749.79 L298.96,753.93 L299.09,755.10 L299.43,758.05 L299.90,762.15 L300.39,766.23 L300.88,770.29 L301.38,774.33 L301.90,778.36 L302.17,780.48 L302.42,782.37 L302.96,786.35 L303.50,790.32 L304.06,794.27 L304.63,798.21 L305.21,802.12 L305.25,802.43 L305.80,806.02 L306.40,809.89 L307.01,813.75 L307.64,817.59 L308.28,821.41 L308.33,821.69 L308.94,825.21 L309.60,828.99 L310.28,832.76 L310.98,836.50 L311.41,838.79 L311.69,840.23 L312.41,843.94 L313.14,847.63 L313.90,851.30 L314.49,854.12 L314.66,854.95 L315.45,858.58 L316.24,862.20 L317.06,865.79 L317.57,867.99 L317.89,869.37 L318.74,872.92 L319.60,876.46 L320.49,879.98 L320.65,880.62 L321.39,883.49 L322.30,886.97 L323.24,890.43 L323.72,892.19 L324.20,893.88 L325.17,897.31 L326.17,900.72 L326.80,902.84 L327.18,904.11 L328.22,907.48 L329.28,910.83 L329.88,912.71 L330.36,914.16 L331.46,917.48 L332.58,920.78 L332.96,921.88 L333.72,924.06 L334.89,927.32 L336.04,930.44 L336.08,930.56 L337.30,933.79 L338.54,936.99 L339.12,938.46 L339.81,940.18 L341.10,943.35 L342.20,945.98 L342.42,946.50 L343.76,949.63 L345.13,952.75 L345.28,953.07 L346.53,955.85 L347.96,958.92 L348.35,959.77 L349.41,961.99 L350.90,965.03 L351.43,966.10 L352.42,968.05 L353.96,971.06 L354.51,972.11 L355.54,974.05 L357.15,977.02 L357.59,977.82 L358.79,979.98 L360.47,982.94 L360.67,983.29 L362.18,985.90 L363.75,988.57 L363.92,988.86 L365.70,991.82 L366.83,993.66 L367.52,994.78 L369.37,997.73 L369.91,998.57 L371.26,1000.68 L372.98,1003.31 L373.19,1003.62 L375.16,1006.56 L376.06,1007.89 L377.16,1009.49 L379.14,1012.32 L379.21,1012.41 L381.30,1015.33 L382.22,1016.59 L383.43,1018.24 L385.30,1020.73 L385.61,1021.13 L387.82,1024.02 L388.38,1024.73 L390.09,1026.90 L391.46,1028.61 L392.40,1029.76 L394.54,1032.36 L394.75,1032.61 L397.16,1035.45 L397.61,1035.99 L399.61,1038.28 L400.69,1039.51 L402.11,1041.09 L403.77,1042.92 L404.66,1043.89 L406.85,1046.23 L407.27,1046.67 L409.92,1049.44 L409.93,1049.44 L412.63,1052.19 L413.01,1052.56 L415.40,1054.92 L416.09,1055.59 L418.22,1057.63 L419.17,1058.53 L421.10,1060.33 L422.25,1061.38 L424.04,1063.01 L425.32,1064.16 L427.03,1065.67 L428.40,1066.86 L430.09,1068.31 L431.48,1069.49 L433.21,1070.93 L434.56,1072.05 L436.39,1073.54 L437.64,1074.54 L439.64,1076.13 L440.72,1076.98 L442.95,1078.72 L443.80,1079.37 L446.33,1081.29 L446.88,1081.70 L449.78,1083.86 L449.95,1083.99 L453.03,1086.23 L453.29,1086.41 L456.11,1088.42 L456.88,1088.96 L459.19,1090.56 L460.54,1091.49 L462.27,1092.66 L464.28,1094.01 L465.35,1094.72 L468.09,1096.52 L468.43,1096.74 L471.51,1098.71 L471.98,1099.01 L474.58,1100.65 L475.94,1101.49 L477.66,1102.55 L479.99,1103.96 L480.74,1104.41 L483.82,1106.24 L484.12,1106.41 L486.90,1108.03 L488.33,1108.85 L489.98,1109.78 L492.63,1111.27 L493.06,1111.51 L496.14,1113.20 L497.01,1113.68 L499.21,1114.86 L501.49,1116.07 L502.29,1116.49 L505.37,1118.09 L506.05,1118.44 L508.45,1119.66 L510.71,1120.80 L511.53,1121.21 L514.61,1122.72 L515.46,1123.14 L517.69,1124.21 L520.31,1125.46 L520.77,1125.68 L523.84,1127.12 L525.25,1127.77 L526.92,1128.54 L530.00,1129.93 L530.30,1130.07 L533.08,1131.31 L535.44,1132.35 L536.16,1132.66 L539.24,1133.99 L540.69,1134.62 L542.32,1135.30 L545.40,1136.60 L546.05,1136.87 L548.47,1137.87 L551.52,1139.12 L551.55,1139.13 L554.63,1140.37 L557.09,1141.35 L557.71,1141.60 L560.79,1142.80 L562.78,1143.58 L563.87,1143.99 L566.95,1145.17 L568.59,1145.79 L570.03,1146.33 L573.10,1147.48 L574.51,1148.00 L576.18,1148.61 L579.26,1149.73 L580.55,1150.20 L582.34,1150.84 L585.42,1151.93 L586.72,1152.39 L588.50,1153.01 L591.58,1154.08 L593.01,1154.58 L594.66,1155.14 L597.73,1156.19 L599.42,1156.76 L600.81,1157.23 L603.89,1158.25 L605.97,1158.94 L606.97,1159.27 L610.05,1160.27 L612.65,1161.11 L613.13,1161.26 L616.21,1162.25 L619.29,1163.22 L619.46,1163.27 L622.36,1164.18 L625.44,1165.13 L626.41,1165.43 L628.52,1166.07 L631.60,1167.00 L633.50,1167.57 L634.68,1167.93 L637.76,1168.84 L640.74,1169.71 L640.84,1169.74 L643.92,1170.63 L646.99,1171.51 L648.12,1171.83 L650.07,1172.38 L653.15,1173.24 L655.66,1173.93 L656.23,1174.09 L659.31,1174.93 L662.39,1175.77 L663.34,1176.02 L665.47,1176.59 L668.55,1177.40 L671.18,1178.09 L671.62,1178.21 L674.70,1179.01 L677.78,1179.79 L679.18,1180.15 L680.86,1180.57 L683.94,1181.34 L687.02,1182.10 L687.34,1182.18 L690.10,1182.86 L693.18,1183.60 L695.66,1184.20 L696.25,1184.34 L699.33,1185.06 L702.41,1185.78 L704.16,1186.19 L705.49,1186.50 L708.57,1187.20 L711.65,1187.89 L712.82,1188.16 L714.73,1188.58 L717.81,1189.26 L720.88,1189.93 L721.67,1190.10 L723.96,1190.60 L727.04,1191.26 L730.12,1191.91 L730.69,1192.03 L733.20,1192.55 L736.28,1193.19 L739.36,1193.81 L739.89,1193.92 L742.44,1194.43 L745.51,1195.05 L748.59,1195.65 L749.28,1195.78 L751.67,1196.25 L754.75,1196.84 L757.83,1197.42 L758.86,1197.61 L760.91,1197.99 L763.99,1198.56 L767.07,1199.13 L768.63,1199.41 L770.15,1199.68 L773.22,1200.23 L776.30,1200.77 L778.60,1201.18 L779.38,1201.31 L782.46,1201.85 L785.54,1202.37 L788.62,1202.90 L788.78,1202.92 L791.70,1203.41 L794.78,1203.93 L797.85,1204.43 L799.15,1204.65 L800.93,1204.94 L804.01,1205.44 L807.09,1205.93 L809.74,1206.35 L810.17,1206.42 L813.25,1206.91 L816.33,1207.39 L819.41,1207.87 L820.55,1208.04 L822.48,1208.34 L825.56,1208.81 L828.64,1209.28 L831.57,1209.72 L831.72,1209.75 L834.80,1210.21 L837.88,1210.67 L840.96,1211.12 L842.81,1211.40 L844.04,1211.58 L847.11,1212.03 L850.19,1212.47 L853.27,1212.92 L854.29,1213.06 L856.35,1213.36 L859.43,1213.80 L862.51,1214.23 L865.59,1214.67 L865.99,1214.72 L868.67,1215.10 L871.74,1215.53 L874.82,1215.96 L877.90,1216.38 L877.93,1216.39 L880.98,1216.81 L884.06,1217.23 L887.14,1217.65 L890.12,1218.05 L890.22,1218.06 L893.30,1218.48 L896.37,1218.89 L899.45,1219.31 L902.53,1219.72 L902.55,1219.72 L905.61,1220.13 L908.69,1220.53 L911.77,1220.94 L914.85,1221.35 L915.23,1221.40 L917.93,1221.75 L921.00,1222.15 L924.08,1222.55 L927.16,1222.95 L928.17,1223.08 L930.24,1223.35 L933.32,1223.74 L936.40,1224.14 L939.48,1224.53 L941.37,1224.78 L942.56,1224.93 L945.63,1225.32 L948.71,1225.71 L951.79,1226.10 L954.83,1226.49 L954.87,1226.49 L957.95,1226.88 L961.03,1227.27 L964.11,1227.65 L967.19,1228.04 L968.57,1228.21 L970.26,1228.42 L973.34,1228.81 L976.42,1229.19 L979.50,1229.57 L982.58,1229.96 L982.59,1229.96 L985.66,1230.34 L988.74,1230.73 L991.82,1231.12 L994.89,1231.50 L996.89,1231.75 L997.97,1231.89 L1001.05,1232.27 L1004.13,1232.66 L1007.21,1233.05 L1010.29,1233.43 L1011.48,1233.58 L1013.37,1233.82 L1016.45,1234.20 L1019.52,1234.58 L1022.60,1234.97 L1025.68,1235.35 L1026.37,1235.43 L1028.76,1235.73 L1031.84,1236.11 L1034.92,1236.49 L1038.00,1236.86 L1041.08,1237.24 L1041.56,1237.30 L1044.15,1237.62 L1047.23,1237.99 L1050.31,1238.36 L1053.39,1238.73 L1056.47,1239.10 L1057.05,1239.17 L1059.55,1239.47 L1062.63,1239.84 L1065.71,1240.20 L1068.78,1240.56 L1071.86,1240.92 L1072.86,1241.04 L1074.94,1241.28 L1078.02,1241.64 L1081.10,1241.99 L1084.18,1242.35 L1087.26,1242.70 L1088.99,1242.90 L1090.34,1243.05 L1093.41,1243.40 L1096.49,1243.74 L1099.57,1244.08 L1102.65,1244.42 L1105.45,1244.73 L1105.73,1244.76 L1108.81,1245.10 L1111.89,1245.43 L1114.97,1245.76 L1118.05,1246.09 L1121.12,1246.42 L1122.23,1246.54 L1124.20,1246.74 L1127.28,1247.07 L1130.36,1247.39 L1133.44,1247.70 L1136.52,1248.02 L1139.36,1248.31 L1139.60,1248.33 L1142.68,1248.64 L1145.75,1248.95 L1148.83,1249.25 L1151.91,1249.55 L1154.99,1249.85 L1156.84,1250.03 L1158.07,1250.15 L1161.15,1250.45 L1164.23,1250.74 L1167.31,1251.03 L1170.38,1251.31 L1173.46,1251.60 L1174.67,1251.71 L1176.54,1251.88 L1179.62,1252.16 L1182.70,1252.43 L1185.78,1252.71 L1188.86,1252.98 L1191.94,1253.25 L1192.86,1253.33 L1195.01,1253.51 L1198.09,1253.77 L1201.17,1254.03 L1204.25,1254.29 L1207.33,1254.55 L1210.41,1254.80 L1211.41,1254.88 L1213.49,1255.05 L1216.57,1255.30 L1219.64,1255.54 L1222.72,1255.79 L1225.80,1256.03 L1228.88,1256.27 L1230.35,1256.38 L1231.96,1256.51 L1235.04,1256.74 L1238.12,1256.98 L1241.20,1257.21 L1244.27,1257.44 L1247.35,1257.67 L1249.66,1257.84 L1250.43,1257.90 L1253.51,1258.12 L1256.59,1258.34 L1259.67,1258.57 L1262.75,1258.79 L1265.83,1259.01 L1268.90,1259.22 L1269.37,1259.26 L1271.98,1259.44 L1275.06,1259.65 L1278.14,1259.86 L1281.22,1260.08 L1284.30,1260.29 L1287.38,1260.49 L1289.48,1260.64 L1290.46,1260.70 L1293.53,1260.91 L1296.61,1261.11 L1299.69,1261.31 L1302.77,1261.52 L1305.85,1261.72 L1308.93,1261.92 L1309.99,1261.98 L1312.01,1262.11 L1315.09,1262.31 L1318.16,1262.51 L1321.24,1262.70 L1324.32,1262.90 L1327.40,1263.09 L1330.48,1263.28 L1330.92,1263.31 L1333.56,1263.47 L1336.64,1263.66 L1339.72,1263.85 L1342.79,1264.04 L1345.87,1264.22 L1348.95,1264.41 L1352.03,1264.59 L1352.27,1264.61 L1355.11,1264.78 L1358.19,1264.96 L1361.27,1265.14 L1364.35,1265.32 L1367.42,1265.50 L1370.50,1265.68 L1373.58,1265.86 L1374.05,1265.89 L1376.66,1266.04 L1379.74,1266.22 L1382.82,1266.39 L1385.90,1266.57 L1388.98,1266.74 L1392.05,1266.92 L1395.13,1267.09 L1396.28,1267.15 L1398.21,1267.26 L1401.29,1267.43 L1404.37,1267.61 L1407.45,1267.78 L1410.53,1267.95 L1413.61,1268.12 L1416.68,1268.29 L1418.95,1268.41 L1419.76,1268.45 L1422.84,1268.62 L1425.92,1268.79 L1429.00,1268.96 L1432.08,1269.12 L1435.16,1269.29 L1438.24,1269.45 L1441.31,1269.62 L1442.09,1269.66 L1444.39,1269.78 L1447.47,1269.94 L1450.55,1270.11 L1453.63,1270.27 L1456.71,1270.43 L1459.79,1270.59 L1462.87,1270.75 L1465.69,1270.90 L1465.95,1270.92 L1469.02,1271.08 L1472.10,1271.24 L1475.18,1271.40 L1478.26,1271.55 L1481.34,1271.71 L1484.42,1271.87 L1487.50,1272.03 L1489.77,1272.15 L1490.58,1272.19 L1493.65,1272.34 L1496.73,1272.50 L1499.81,1272.66 L1502.89,1272.81 L1505.97,1272.97 L1509.05,1273.13 L1512.13,1273.28 L1514.34,1273.39 L1515.21,1273.44 L1518.28,1273.59 L1521.36,1273.75 L1524.44,1273.90 L1527.52,1274.06 L1530.60,1274.21 L1533.68,1274.36 L1536.76,1274.52 L1539.40,1274.65 L1539.84,1274.67 L1542.91,1274.82 L1545.99,1274.97 L1549.07,1275.13 L1552.15,1275.28 L1555.23,1275.43 L1558.31,1275.58 L1561.39,1275.73 L1564.47,1275.89 L1564.97,1275.91 L1567.54,1276.04 L1570.62,1276.19 L1573.70,1276.34 L1576.78,1276.49 L1579.86,1276.64 L1582.94,1276.79 L1586.02,1276.94 L1589.10,1277.09 L1591.06,1277.19 L1592.17,1277.24 L1595.25,1277.39 L1598.33,1277.54 L1601.41,1277.69 L1604.49,1277.84 L1607.57,1277.99 L1610.65,1278.14 L1613.73,1278.28 L1616.80,1278.43 L1617.68,1278.48 L1619.88,1278.58 L1622.96,1278.73 L1626.04,1278.88 L1629.12,1279.03 L1632.20,1279.18 L1635.28,1279.32 L1638.36,1279.47 L1641.43,1279.62 L1644.51,1279.77 L1644.84,1279.78 L1647.59,1279.92 L1650.67,1280.06 L1653.75,1280.21 L1656.83,1280.36 L1659.91,1280.51 L1662.99,1280.65 L1666.06,1280.80 L1669.14,1280.95 L1672.22,1281.10 L1672.54,1281.11 L1675.30,1281.25 L1678.38,1281.40 L1681.46,1281.54 L1684.54,1281.69 L1687.62,1281.84 L1690.69,1281.99 L1693.77,1282.15 L1696.85,1282.30 L1699.93,1282.45 L1700.81,1282.49 L1703.01,1282.60 L1706.09,1282.75 L1709.17,1282.90 L1712.25,1283.05 L1715.32,1283.21 L1718.40,1283.36 L1721.48,1283.51 L1724.56,1283.66 L1727.64,1283.82 L1729.65,1283.92 L1730.72,1283.97 L1733.80,1284.12 L1736.88,1284.27 L1739.95,1284.43 L1743.03,1284.58 L1746.11,1284.73 L1749.19,1284.88 L1752.27,1285.04 L1755.35,1285.19 L1758.43,1285.34 L1759.07,1285.37 L1761.51,1285.49 L1764.58,1285.64 L1767.66,1285.79 L1770.74,1285.95 L1773.82,1286.10 L1776.90,1286.25 L1779.98,1286.40 L1783.06,1286.55 L1786.14,1286.70 L1789.09,1286.84 L1789.22,1286.85 L1792.29,1287.00 L1795.37,1287.15 L1798.45,1287.30 L1801.53,1287.45 L1804.61,1287.60 L1807.69,1287.74 L1810.77,1287.89 L1813.85,1288.04 L1816.92,1288.19 L1819.71,1288.32 L1820.00,1288.33 L1823.08,1288.48 L1826.16,1288.63 L1829.24,1288.77 L1832.32,1288.92 L1835.40,1289.06 L1838.48,1289.21 L1841.55,1289.35 L1844.63,1289.49 L1847.71,1289.64 L1850.79,1289.78 L1850.96,1289.79 L1853.87,1289.92 L1856.95,1290.06 L1860.03,1290.20 L1863.11,1290.34 L1866.18,1290.48 L1869.26,1290.62 L1872.34,1290.76 L1875.42,1290.90 L1878.50,1291.03 L1881.58,1291.17 L1882.84,1291.23 L1884.66,1291.31 L1887.74,1291.44 L1890.81,1291.58 L1893.89,1291.71 L1896.97,1291.85 L1900.05,1291.98 L1903.13,1292.11 L1906.21,1292.25 L1909.29,1292.38 L1912.37,1292.51 L1915.36,1292.63 L1915.44,1292.64 L1918.52,1292.77 L1921.60,1292.90 L1924.68,1293.02 L1927.76,1293.15 L1930.84,1293.28 L1933.92,1293.40 L1937.00,1293.53 L1940.07,1293.65 L1943.15,1293.78 L1946.23,1293.90 L1948.54,1293.99 L1949.31,1294.02 L1952.39,1294.14 L1955.47,1294.27 L1958.55,1294.39 L1961.63,1294.51 L1964.70,1294.62 L1967.78,1294.74 L1970.86,1294.86 L1973.94,1294.98 L1977.02,1295.09 L1980.10,1295.21 L1982.40,1295.29 L1983.18,1295.32 L1986.26,1295.43 L1989.33,1295.55 L1992.41,1295.66 L1995.49,1295.77 L1998.57,1295.88 L2001.65,1295.99 L2004.73,1296.10 L2007.81,1296.21 L2010.89,1296.31 L2013.96,1296.42 L2016.93,1296.52 L2017.04,1296.53 L2020.12,1296.63 L2023.20,1296.74 L2026.28,1296.84 L2029.36,1296.94 L2032.44,1297.04 L2035.52,1297.14 L2038.59,1297.24 L2041.67,1297.34 L2044.75,1297.44 L2047.83,1297.54 L2050.91,1297.63 L2052.17,1297.67 L2053.99,1297.73 L2057.07,1297.82 L2060.15,1297.92 L2063.22,1298.01 L2066.30,1298.10 L2069.38,1298.19 L2072.46,1298.28 L2075.54,1298.37 L2078.62,1298.46 L2081.70,1298.54 L2084.78,1298.63 L2087.85,1298.71 L2088.12,1298.72 L2090.93,1298.80 L2094.01,1298.88 L2097.09,1298.97 L2100.17,1299.05 L2103.25,1299.13 L2106.33,1299.21 L2109.41,1299.29 L2112.48,1299.38 L2115.56,1299.46 L2118.64,1299.54 L2121.72,1299.62 L2124.80,1299.70 L2124.80,1299.70" fill="none" stroke="#808000" stroke-width="2.6" stroke-linejoin="round"/>
<polygon points="280.62,360.04 294.32,369.99 289.09,386.09 272.16,386.09 266.93,369.99" fill="#808000"/>
<polygon points="357.58,965.32 371.27,975.27 366.04,991.37 349.11,991.37 343.88,975.27" fill="#808000"/>
<polygon points="434.53,1059.55 448.23,1069.50 443.00,1085.60 426.07,1085.60 420.84,1069.50" fill="#808000"/>
<polygon points="511.49,1108.71 525.19,1118.66 519.96,1134.76 503.03,1134.76 497.80,1118.66" fill="#808000"/>
<polygon points="588.45,1140.52 602.14,1150.47 596.91,1166.57 579.98,1166.57 574.75,1150.47" fill="#808000"/>
<polygon points="665.40,1164.09 679.10,1174.04 673.87,1190.14 656.94,1190.14 651.71,1174.04" fill="#808000"/>
<polygon points="742.36,1181.94 756.06,1191.89 750.82,1207.99 733.90,1207.99 728.66,1191.89" fill="#808000"/>
<polygon points="819.32,1195.37 833.01,1205.32 827.78,1221.42 810.85,1221.42 805.62,1205.32" fill="#808000"/>
<polygon points="896.27,1206.40 909.97,1216.35 904.74,1232.45 887.81,1232.45 882.58,1216.35" fill="#808000"/>
<polygon points="973.23,1216.31 986.92,1226.26 981.69,1242.36 964.76,1242.36 959.53,1226.26" fill="#808000"/>
<polygon points="1050.18,1225.87 1063.88,1235.82 1058.65,1251.92 1041.72,1251.92 1036.49,1235.82" fill="#808000"/>
<polygon points="1127.14,1234.57 1140.84,1244.52 1135.61,1260.62 1118.68,1260.62 1113.45,1244.52" fill="#808000"/>
<polygon points="1204.10,1241.80 1217.79,1251.75 1212.56,1267.85 1195.63,1267.85 1190.40,1251.75" fill="#808000"/>
<polygon points="1281.05,1247.58 1294.75,1257.53 1289.52,1273.63 1272.59,1273.63 1267.36,1257.53" fill="#808000"/>
<polygon points="1358.01,1252.47 1371.71,1262.42 1366.47,1278.52 1349.55,1278.52 1344.31,1262.42" fill="#808000"/>
<polygon points="1434.97,1256.80 1448.66,1266.75 1443.43,1282.85 1426.50,1282.85 1421.27,1266.75" fill="#808000"/>
<polygon points="1511.92,1260.79 1525.62,1270.74 1520.39,1286.84 1503.46,1286.84 1498.23,1270.74" fill="#808000"/>
<polygon points="1588.88,1264.60 1602.57,1274.55 1597.34,1290.65 1580.41,1290.65 1575.18,1274.55" fill="#808000"/>
<polygon points="1665.84,1268.31 1679.53,1278.26 1674.30,1294.36 1657.37,1294.36 1652.14,1278.26" fill="#808000"/>
<polygon points="1742.79,1272.09 1756.49,1282.04 1751.26,1298.14 1734.33,1298.14 1729.10,1282.04" fill="#808000"/>
<polygon points="1819.75,1275.84 1833.44,1285.79 1828.21,1301.89 1811.28,1301.89 1806.05,1285.79" fill="#808000"/>
<polygon points="1896.70,1279.36 1910.40,1289.31 1905.17,1305.41 1888.24,1305.41 1883.01,1289.31" fill="#808000"/>
<polygon points="1973.66,1282.49 1987.36,1292.44 1982.12,1308.54 1965.20,1308.54 1959.97,1292.44" fill="#808000"/>
<polygon points="2050.62,1285.15 2064.31,1295.10 2059.08,1311.20 2042.15,1311.20 2036.92,1295.10" fill="#808000"/>
<text transform="matrix(0.28571 0 0 0.24000 209.51 1428.12)" font-weight="bold" fill="#000">0</text>
<text transform="matrix(0.26408 0 0 0.24000 158.69 1087.99)" font-weight="bold" fill="#000">200</text>
<text transform="matrix(0.25952 0 0 0.24000 160.02 747.87)" font-weight="bold" fill="#000">400</text>
<text transform="matrix(0.26316 0 0 0.24000 158.96 407.75)" font-weight="bold" fill="#000">600</text>
<text transform="matrix(0.26316 0 0 0.24000 158.96 67.62)" font-weight="bold" fill="#000">800</text>
<text transform="matrix(0.30238 0 0 0.28889 261.38 1497.42)" font-weight="bold" fill="#000">0</text>
<text transform="matrix(0.27027 0 0 0.28889 711.81 1497.42)" font-weight="bold" fill="#000">60</text>
<text transform="matrix(0.28261 0 0 0.28889 1157.38 1497.42)" font-weight="bold" fill="#000">120</text>
<text transform="matrix(0.28986 0 0 0.28889 1618.46 1497.42)" font-weight="bold" fill="#000">180</text>
<text transform="matrix(0.27817 0 0 0.28889 2079.77 1497.42)" font-weight="bold" fill="#000">240</text>
<text transform="matrix(0.30116 0 0 0.32061 1093.90 1581.00)" font-weight="bold" fill="#000">Time (s)</text>
<text transform="matrix(0.41569 0 0 0.42802 1052.06 1678.10)" font-weight="normal" fill="#000">(</text>
<text transform="matrix(0.42088 0 0 0.46667 1079.97 1678.67)" font-weight="bold" fill="#000">a</text>
<text transform="matrix(0.40577 0 0 0.42802 1122.27 1678.10)" font-weight="normal" fill="#000">)</text>
<text transform="matrix(0 -0.28280 0.28258 0 110.80 1104.83)" font-weight="bold" fill="#000">Creep</text>
<text transform="matrix(0 -0.27566 0.28258 0 110.80 946.05)" font-weight="bold" fill="#000">stiffness</text>
<text transform="matrix(0 -0.27804 0.28258 0 110.80 743.29)" font-weight="bold" fill="#000">modulus</text>
<text transform="matrix(0 -0.27324 0.28258 0 110.80 510.36)" font-weight="bold" fill="#000">(MPa)</text>
<rect x="405.50" y="60.50" width="643.50" height="518.00" fill="#fff" stroke="#000" stroke-width="2.5" />
<line x1="414.00" y1="108.00" x2="567.00" y2="108.00" stroke="#000" stroke-width="3" />
<rect x="479.50" y="96.50" width="23.00" height="23.00" fill="#000000" stroke="none" stroke-width="0" />
<text transform="matrix(0.34443 0 0 0.34924 586.81 131.60)" font-weight="normal" fill="#000">Asphalt</text>
<line x1="414.00" y1="194.00" x2="567.00" y2="194.00" stroke="#ff6060" stroke-width="4.5" />
<circle cx="491.00" cy="194.00" r="11.50" fill="#ff0000"/>
<text transform="matrix(0.34436 0 0 0.35682 584.40 215.30)" font-weight="normal" fill="#000">20% KF</text>
<line x1="414.00" y1="277.00" x2="567.00" y2="277.00" stroke="#30a030" stroke-width="3.5" />
<polygon points="491.00,261.71 505.56,287.19 476.44,287.19" fill="#008000"/>
<text transform="matrix(0.34990 0 0 0.35455 584.35 301.60)" font-weight="normal" fill="#000">20% T</text>
<line x1="414.00" y1="363.00" x2="567.00" y2="363.00" stroke="#0000ff" stroke-width="3" />
<polygon points="491.00,350.58 494.77,359.65 504.56,360.43 497.10,366.82 499.38,376.38 491.00,371.26 482.62,376.38 484.90,366.82 477.44,360.43 487.23,359.65" fill="#0000ff"/>
<text transform="matrix(0.34598 0 0 0.35379 584.39 386.50)" font-weight="normal" fill="#000">20% GTCM-0.5</text>
<line x1="414.00" y1="450.00" x2="567.00" y2="450.00" stroke="#660033" stroke-width="3" />
<polygon points="477.89,450.00 499.74,437.35 499.74,462.65" fill="#660033"/>
<text transform="matrix(0.34791 0 0 0.34924 584.37 468.60)" font-weight="normal" fill="#000">20% GTCM-1.0</text>
<line x1="414.00" y1="532.00" x2="567.00" y2="532.00" stroke="#a0a040" stroke-width="3.5" />
<polygon points="491.00,520.04 504.12,529.58 499.11,545.00 482.89,545.00 477.88,529.58" fill="#808000"/>
<text transform="matrix(0.34583 0 0 0.34697 584.39 555.20)" font-weight="normal" fill="#000">20% GTCM-1.5</text>
<ellipse cx="745" cy="1192.4" rx="22" ry="91.4" fill="none" stroke="#000" stroke-width="7" stroke-dasharray="7.2 8.6"/>
<line x1="759.00" y1="1097.50" x2="1127.00" y2="952.50" stroke="#000" stroke-width="3.6" />
<polygon points="1162.80,937.00 1119.60,936.40 1122.50,950.50 1132.00,968.80" fill="#000"/>
<rect x="1338.50" y="903.03" width="117.00" height="170.77" fill="#fff" stroke="none" stroke-width="0" />
<rect x="1338.50" y="903.03" width="117.00" height="170.77" fill="url(#dotsA)" stroke="none" stroke-width="0" />
<line x1="1338.50" y1="902.03" x2="1338.50" y2="1073.80" stroke="#808080" stroke-width="4.5" />
<line x1="1455.50" y1="902.03" x2="1455.50" y2="1073.80" stroke="#808080" stroke-width="4.5" />
<line x1="1338.50" y1="903.03" x2="1455.50" y2="903.03" stroke="#000" stroke-width="3" />
<rect x="1455.50" y="363.01" width="116.50" height="710.79" fill="#fff" stroke="none" stroke-width="0" />
<rect x="1455.50" y="363.01" width="116.50" height="710.79" fill="url(#brickA)" stroke="none" stroke-width="0" />
<line x1="1455.50" y1="362.01" x2="1455.50" y2="1073.80" stroke="#ff6060" stroke-width="3.5" />
<line x1="1572.00" y1="362.01" x2="1572.00" y2="1073.80" stroke="#ff6060" stroke-width="3.5" />
<line x1="1455.50" y1="363.01" x2="1572.00" y2="363.01" stroke="#ff3030" stroke-width="3" />
<rect x="1572.00" y="424.64" width="115.50" height="649.16" fill="#fff" stroke="none" stroke-width="0" />
<rect x="1572.00" y="424.64" width="115.50" height="649.16" fill="url(#hlA)" stroke="none" stroke-width="0" />
<line x1="1572.00" y1="423.64" x2="1572.00" y2="1073.80" stroke="#8080ff" stroke-width="5" />
<line x1="1687.50" y1="423.64" x2="1687.50" y2="1073.80" stroke="#8080ff" stroke-width="5" />
<line x1="1572.00" y1="424.64" x2="1687.50" y2="424.64" stroke="#2020ff" stroke-width="3" />
<rect x="1687.50" y="530.10" width="114.50" height="543.70" fill="#fff" stroke="none" stroke-width="0" />
<rect x="1687.50" y="530.10" width="114.50" height="543.70" fill="url(#bsA)" stroke="none" stroke-width="0" />
<line x1="1687.50" y1="529.10" x2="1687.50" y2="1073.80" stroke="#70c070" stroke-width="5" />
<line x1="1802.00" y1="529.10" x2="1802.00" y2="1073.80" stroke="#70c070" stroke-width="5" />
<line x1="1687.50" y1="530.10" x2="1802.00" y2="530.10" stroke="#30a030" stroke-width="3" />
<rect x="1802.00" y="559.32" width="116.00" height="514.48" fill="#fff" stroke="none" stroke-width="0" />
<rect x="1802.00" y="559.32" width="116.00" height="514.48" fill="url(#vlA)" stroke="none" stroke-width="0" />
<line x1="1802.00" y1="558.32" x2="1802.00" y2="1073.80" stroke="#c080c0" stroke-width="4" />
<line x1="1918.00" y1="558.32" x2="1918.00" y2="1073.80" stroke="#c080c0" stroke-width="4" />
<line x1="1802.00" y1="559.32" x2="1918.00" y2="559.32" stroke="#800080" stroke-width="3" />
<rect x="1918.00" y="690.45" width="116.00" height="383.35" fill="#fff" stroke="none" stroke-width="0" />
<rect x="1918.00" y="690.45" width="116.00" height="383.35" fill="url(#fsA)" stroke="none" stroke-width="0" />
<line x1="1918.00" y1="689.45" x2="1918.00" y2="1073.80" stroke="#c07070" stroke-width="4" />
<line x1="2034.00" y1="689.45" x2="2034.00" y2="1073.80" stroke="#c07070" stroke-width="4" />
<line x1="1918.00" y1="690.45" x2="2034.00" y2="690.45" stroke="#c07070" stroke-width="3" />
<line x1="1251.80" y1="564.00" x2="2124.80" y2="564.00" stroke="#404040" stroke-width="9" stroke-dasharray="42.4 33.3"/>
<line x1="1252.50" y1="56.30" x2="1252.50" y2="1073.80" stroke="#222" stroke-width="3" />
<line x1="1252.50" y1="1073.80" x2="2124.80" y2="1073.80" stroke="#606060" stroke-width="5" />
<line x1="1251.00" y1="57.30" x2="2126.30" y2="57.30" stroke="#000" stroke-width="4" />
<line x1="1232.50" y1="1073.80" x2="1271.50" y2="1073.80" stroke="#333" stroke-width="4" />
<line x1="1232.50" y1="819.67" x2="1271.50" y2="819.67" stroke="#333" stroke-width="4" />
<line x1="1232.50" y1="565.55" x2="1271.50" y2="565.55" stroke="#333" stroke-width="4" />
<line x1="1232.50" y1="311.42" x2="1271.50" y2="311.42" stroke="#333" stroke-width="4" />
<line x1="1232.50" y1="57.30" x2="1271.50" y2="57.30" stroke="#333" stroke-width="4" />
<line x1="1244.50" y1="946.74" x2="1260.50" y2="946.74" stroke="#333" stroke-width="3.5" />
<line x1="1244.50" y1="692.61" x2="1260.50" y2="692.61" stroke="#333" stroke-width="3.5" />
<line x1="1244.50" y1="438.49" x2="1260.50" y2="438.49" stroke="#333" stroke-width="3.5" />
<line x1="1244.50" y1="184.36" x2="1260.50" y2="184.36" stroke="#333" stroke-width="3.5" />
<line x1="1687.40" y1="1073.80" x2="1687.40" y2="1083.00" stroke="#555" stroke-width="4" />
<text transform="matrix(0.25580 0 0 0.23481 1141.51 1084.83)" font-weight="bold" fill="#000">100</text>
<text transform="matrix(0.25580 0 0 0.23481 1141.51 830.71)" font-weight="bold" fill="#000">120</text>
<text transform="matrix(0.25580 0 0 0.23481 1141.51 576.58)" font-weight="bold" fill="#000">140</text>
<text transform="matrix(0.25580 0 0 0.23481 1141.51 322.46)" font-weight="bold" fill="#000">160</text>
<text transform="matrix(0.25580 0 0 0.23481 1141.51 68.33)" font-weight="bold" fill="#000">180</text>
<text transform="matrix(0.24649 0 0 0.23333 1661.97 1136.53)" font-weight="bold" fill="#000">60</text>
<rect x="1709.00" y="57.00" width="415.80" height="362.50" fill="#fff" stroke="none" stroke-width="0" />
<line x1="1709.00" y1="57.00" x2="1709.00" y2="419.50" stroke="#000" stroke-width="2.5" />
<line x1="1709.00" y1="419.50" x2="2124.80" y2="419.50" stroke="#666" stroke-width="3" />
<rect x="1714.50" y="65.60" width="99.00" height="48.70" fill="#fff" stroke="none" stroke-width="0" />
<rect x="1714.50" y="65.60" width="99.00" height="48.70" fill="url(#dotsAs)" stroke="none" stroke-width="0" />
<rect x="1714.50" y="65.60" width="99.00" height="48.70" fill="none" stroke="#222" stroke-width="3" />
<text transform="matrix(0.22827 0 0 0.22879 1823.04 101.60)" font-weight="normal" fill="#000">Asphalt</text>
<rect x="1714.50" y="123.40" width="99.00" height="50.00" fill="#fff" stroke="none" stroke-width="0" />
<rect x="1714.50" y="123.40" width="99.00" height="50.00" fill="url(#brickA)" stroke="none" stroke-width="0" />
<rect x="1714.50" y="123.40" width="99.00" height="50.00" fill="none" stroke="#ff2020" stroke-width="3" />
<text transform="matrix(0.22485 0 0 0.22803 1821.48 163.90)" font-weight="normal" fill="#000">20% KF</text>
<rect x="1714.50" y="184.00" width="99.00" height="49.00" fill="#fff" stroke="none" stroke-width="0" />
<rect x="1714.50" y="184.00" width="99.00" height="49.00" fill="url(#hlAs)" stroke="none" stroke-width="0" />
<rect x="1714.50" y="184.00" width="99.00" height="49.00" fill="none" stroke="#1010ff" stroke-width="3" />
<text transform="matrix(0.22467 0 0 0.21970 1821.48 222.00)" font-weight="normal" fill="#000">20% T</text>
<rect x="1714.50" y="245.00" width="99.00" height="48.00" fill="#fff" stroke="none" stroke-width="0" />
<rect x="1714.50" y="245.00" width="99.00" height="48.00" fill="url(#bsA)" stroke="none" stroke-width="0" />
<rect x="1714.50" y="245.00" width="99.00" height="48.00" fill="none" stroke="#109010" stroke-width="3" />
<text transform="matrix(0.22566 0 0 0.22045 1821.47 280.90)" font-weight="normal" fill="#000">20% GTCM-0.5</text>
<rect x="1714.50" y="304.50" width="99.00" height="48.50" fill="#fff" stroke="none" stroke-width="0" />
<rect x="1714.50" y="304.50" width="99.00" height="48.50" fill="url(#vlAs)" stroke="none" stroke-width="0" />
<rect x="1714.50" y="304.50" width="99.00" height="48.50" fill="none" stroke="#800080" stroke-width="3" />
<text transform="matrix(0.22689 0 0 0.22803 1821.46 343.20)" font-weight="normal" fill="#000">20% GTCM-1.0</text>
<rect x="1714.50" y="366.00" width="99.00" height="49.00" fill="#fff" stroke="none" stroke-width="0" />
<rect x="1714.50" y="366.00" width="99.00" height="49.00" fill="url(#fsAs)" stroke="none" stroke-width="0" />
<rect x="1714.50" y="366.00" width="99.00" height="49.00" fill="none" stroke="#800000" stroke-width="3" />
<text transform="matrix(0.22566 0 0 0.21667 1821.47 402.00)" font-weight="normal" fill="#000">20% GTCM-1.5</text>
<line x1="251.00" y1="54.50" x2="2126.30" y2="54.50" stroke="#000" stroke-width="3" />
<line x1="245.40" y1="1723.50" x2="245.40" y2="3094.00" stroke="#000" stroke-width="4" />
<line x1="2107.00" y1="1723.50" x2="2107.00" y2="3094.00" stroke="#111" stroke-width="3.5" />
<line x1="243.40" y1="1723.50" x2="2108.50" y2="1723.50" stroke="#000" stroke-width="4" />
<line x1="243.40" y1="3092.00" x2="2108.50" y2="3092.00" stroke="#000" stroke-width="4.5" />
<line x1="245.40" y1="2749.88" x2="262.40" y2="2749.88" stroke="#000" stroke-width="3.5" />
<line x1="245.40" y1="2407.75" x2="262.40" y2="2407.75" stroke="#000" stroke-width="3.5" />
<line x1="245.40" y1="2065.62" x2="262.40" y2="2065.62" stroke="#000" stroke-width="3.5" />
<line x1="245.40" y1="2920.94" x2="253.40" y2="2920.94" stroke="#000" stroke-width="3.5" />
<line x1="245.40" y1="2578.81" x2="253.40" y2="2578.81" stroke="#000" stroke-width="3.5" />
<line x1="245.40" y1="2236.69" x2="253.40" y2="2236.69" stroke="#000" stroke-width="3.5" />
<line x1="245.40" y1="1894.56" x2="253.40" y2="1894.56" stroke="#000" stroke-width="3.5" />
<line x1="710.80" y1="3092.00" x2="710.80" y2="3074.00" stroke="#000" stroke-width="3.5" />
<line x1="1176.20" y1="3092.00" x2="1176.20" y2="3074.00" stroke="#000" stroke-width="3.5" />
<line x1="1641.60" y1="3092.00" x2="1641.60" y2="3074.00" stroke="#000" stroke-width="3.5" />
<line x1="478.10" y1="3092.00" x2="478.10" y2="3083.00" stroke="#000" stroke-width="3.5" />
<line x1="943.50" y1="3092.00" x2="943.50" y2="3083.00" stroke="#000" stroke-width="3.5" />
<line x1="1408.90" y1="3092.00" x2="1408.90" y2="3083.00" stroke="#000" stroke-width="3.5" />
<line x1="1874.30" y1="3092.00" x2="1874.30" y2="3083.00" stroke="#000" stroke-width="3.5" />
<path d="M250.05,2070.59 L250.15,2075.70 L250.24,2080.82 L250.34,2085.93 L250.44,2091.04 L250.54,2096.15 L250.65,2101.26 L250.75,2106.36 L250.86,2111.46 L250.97,2116.56 L251.09,2121.65 L251.20,2126.74 L251.32,2131.83 L251.44,2136.91 L251.56,2141.98 L251.69,2147.05 L251.81,2152.12 L251.94,2157.17 L252.08,2162.22 L252.21,2167.27 L252.35,2172.31 L252.49,2177.33 L252.63,2182.36 L252.78,2187.37 L252.93,2192.38 L253.08,2197.37 L253.15,2199.75 L253.24,2202.36 L253.39,2207.34 L253.56,2212.31 L253.72,2217.27 L253.89,2222.22 L254.06,2227.16 L254.24,2232.09 L254.42,2237.01 L254.60,2241.92 L254.78,2246.82 L254.97,2251.70 L255.17,2256.58 L255.37,2261.44 L255.57,2266.29 L255.77,2271.13 L255.98,2275.95 L256.20,2280.77 L256.25,2282.02 L256.42,2285.57 L256.64,2290.35 L256.87,2295.13 L257.10,2299.89 L257.34,2304.63 L257.58,2309.37 L257.82,2314.08 L258.08,2318.79 L258.33,2323.48 L258.59,2328.15 L258.86,2332.81 L259.13,2337.46 L259.35,2341.15 L259.41,2342.09 L259.69,2346.70 L259.98,2351.30 L260.28,2355.88 L260.58,2360.45 L260.89,2365.00 L261.20,2369.54 L261.52,2374.06 L261.85,2378.56 L262.18,2383.05 L262.45,2386.67 L262.52,2387.52 L262.87,2391.97 L263.22,2396.41 L263.58,2400.83 L263.95,2405.23 L264.32,2409.61 L264.71,2413.98 L265.10,2418.33 L265.50,2422.66 L265.55,2423.29 L265.90,2426.98 L266.32,2431.27 L266.74,2435.55 L267.17,2439.81 L267.61,2444.05 L268.06,2448.28 L268.52,2452.48 L268.65,2453.68 L268.99,2456.67 L269.47,2460.84 L269.95,2464.99 L270.45,2469.13 L270.96,2473.24 L271.48,2477.33 L271.75,2479.50 L272.00,2481.41 L272.54,2485.47 L273.09,2489.51 L273.65,2493.53 L274.22,2497.53 L274.81,2501.51 L274.85,2501.83 L275.40,2505.47 L276.01,2509.41 L276.63,2513.34 L277.26,2517.24 L277.91,2521.13 L277.95,2521.42 L278.56,2525.00 L279.24,2528.84 L279.92,2532.67 L280.62,2536.48 L281.05,2538.80 L281.33,2540.27 L282.06,2544.04 L282.80,2547.79 L283.56,2551.52 L284.15,2554.39 L284.33,2555.23 L285.12,2558.92 L285.92,2562.59 L286.74,2566.24 L287.25,2568.48 L287.58,2569.88 L288.43,2573.49 L289.30,2577.08 L290.19,2580.66 L290.35,2581.30 L291.10,2584.21 L292.02,2587.75 L292.97,2591.26 L293.46,2593.04 L293.93,2594.76 L294.91,2598.23 L295.92,2601.69 L296.56,2603.85 L296.94,2605.12 L297.98,2608.54 L299.05,2611.94 L299.66,2613.85 L300.13,2615.32 L301.24,2618.68 L302.37,2622.02 L302.76,2623.14 L303.52,2625.34 L304.70,2628.64 L305.86,2631.80 L305.90,2631.92 L307.12,2635.18 L308.37,2638.42 L308.96,2639.90 L309.65,2641.64 L310.95,2644.85 L312.06,2647.51 L312.28,2648.03 L313.63,2651.19 L315.01,2654.34 L315.16,2654.67 L316.42,2657.47 L317.86,2660.57 L318.26,2661.42 L319.32,2663.66 L320.82,2666.73 L321.36,2667.81 L322.35,2669.78 L323.90,2672.81 L324.46,2673.87 L325.49,2675.82 L327.11,2678.82 L327.56,2679.62 L328.77,2681.80 L330.45,2684.77 L330.66,2685.13 L332.18,2687.75 L333.76,2690.43 L333.93,2690.72 L335.72,2693.69 L336.86,2695.54 L337.55,2696.66 L339.42,2699.63 L339.96,2700.47 L341.32,2702.59 L343.06,2705.23 L343.26,2705.54 L345.24,2708.49 L346.16,2709.84 L347.26,2711.44 L349.26,2714.28 L349.33,2714.38 L351.43,2717.32 L352.36,2718.59 L353.57,2720.24 L355.46,2722.76 L355.76,2723.16 L358.00,2726.08 L358.56,2726.79 L360.28,2728.98 L361.66,2730.71 L362.60,2731.88 L364.76,2734.50 L364.97,2734.76 L367.39,2737.64 L367.86,2738.19 L369.86,2740.51 L370.96,2741.76 L372.38,2743.37 L374.06,2745.24 L374.95,2746.22 L377.16,2748.61 L377.58,2749.06 L380.25,2751.89 L380.26,2751.90 L382.98,2754.71 L383.36,2755.09 L385.76,2757.51 L386.46,2758.20 L388.61,2760.31 L389.56,2761.23 L391.50,2763.09 L392.66,2764.18 L394.46,2765.86 L395.76,2767.05 L397.48,2768.62 L398.86,2769.85 L400.56,2771.36 L401.96,2772.59 L403.70,2774.09 L405.06,2775.25 L406.90,2776.81 L408.16,2777.87 L410.17,2779.56 L411.26,2780.47 L413.51,2782.32 L414.36,2783.02 L416.91,2785.10 L417.46,2785.55 L420.38,2787.89 L420.56,2788.03 L423.66,2790.47 L423.92,2790.68 L426.76,2792.87 L427.53,2793.47 L429.86,2795.23 L431.22,2796.25 L432.96,2797.53 L434.98,2799.01 L436.06,2799.79 L438.82,2801.76 L439.16,2802.00 L442.26,2804.17 L442.73,2804.49 L445.36,2806.28 L446.73,2807.20 L448.46,2808.34 L450.80,2809.87 L451.56,2810.35 L454.66,2812.32 L454.96,2812.51 L457.76,2814.23 L459.20,2815.11 L460.86,2816.10 L463.53,2817.67 L463.96,2817.92 L467.06,2819.68 L467.94,2820.18 L470.16,2821.41 L472.45,2822.65 L473.26,2823.08 L476.36,2824.71 L477.04,2825.06 L479.46,2826.29 L481.73,2827.42 L482.56,2827.82 L485.66,2829.31 L486.52,2829.72 L488.76,2830.76 L491.40,2831.96 L491.86,2832.16 L494.96,2833.53 L496.38,2834.15 L498.06,2834.87 L501.16,2836.17 L501.46,2836.30 L504.26,2837.45 L506.64,2838.41 L507.36,2838.70 L510.46,2839.93 L511.93,2840.50 L513.56,2841.13 L516.66,2842.31 L517.32,2842.56 L519.76,2843.48 L522.82,2844.61 L522.86,2844.63 L525.96,2845.76 L528.44,2846.66 L529.06,2846.88 L532.16,2847.99 L534.17,2848.70 L535.26,2849.08 L538.36,2850.17 L540.01,2850.74 L541.46,2851.24 L544.56,2852.31 L545.98,2852.80 L547.66,2853.37 L550.76,2854.43 L552.06,2854.87 L553.86,2855.47 L556.96,2856.52 L558.27,2856.96 L560.06,2857.56 L563.16,2858.59 L564.60,2859.07 L566.26,2859.61 L569.36,2860.62 L571.06,2861.17 L572.46,2861.62 L575.56,2862.61 L577.65,2863.27 L578.66,2863.59 L581.76,2864.55 L584.38,2865.36 L584.86,2865.51 L587.96,2866.46 L591.06,2867.40 L591.24,2867.45 L594.16,2868.33 L597.26,2869.25 L598.24,2869.54 L600.36,2870.16 L603.46,2871.06 L605.38,2871.62 L606.56,2871.96 L609.66,2872.84 L612.67,2873.69 L612.76,2873.72 L615.86,2874.59 L618.96,2875.45 L620.10,2875.77 L622.06,2876.31 L625.16,2877.15 L627.68,2877.84 L628.26,2877.99 L631.36,2878.83 L634.46,2879.65 L635.42,2879.90 L637.56,2880.47 L640.66,2881.28 L643.32,2881.97 L643.76,2882.08 L646.86,2882.88 L649.96,2883.67 L651.37,2884.03 L653.06,2884.46 L656.16,2885.23 L659.26,2886.01 L659.59,2886.09 L662.36,2886.77 L665.46,2887.53 L667.97,2888.14 L668.56,2888.29 L671.66,2889.03 L674.76,2889.78 L676.52,2890.19 L677.86,2890.51 L680.96,2891.24 L684.06,2891.97 L685.25,2892.25 L687.16,2892.69 L690.26,2893.41 L693.36,2894.12 L694.15,2894.29 L696.47,2894.82 L699.57,2895.52 L702.67,2896.21 L703.23,2896.34 L705.77,2896.90 L708.87,2897.59 L711.97,2898.27 L712.50,2898.39 L715.07,2898.95 L718.17,2899.62 L721.27,2900.29 L721.96,2900.44 L724.37,2900.96 L727.47,2901.63 L730.57,2902.29 L731.60,2902.51 L733.67,2902.95 L736.77,2903.60 L739.87,2904.26 L741.44,2904.59 L742.97,2904.91 L746.07,2905.55 L749.17,2906.19 L751.48,2906.67 L752.27,2906.83 L755.37,2907.46 L758.47,2908.09 L761.57,2908.72 L761.73,2908.75 L764.67,2909.34 L767.77,2909.96 L770.87,2910.58 L772.18,2910.84 L773.97,2911.19 L777.07,2911.80 L780.17,2912.40 L782.84,2912.92 L783.27,2913.00 L786.37,2913.59 L789.47,2914.18 L792.57,2914.77 L793.72,2914.99 L795.67,2915.35 L798.77,2915.93 L801.87,2916.51 L804.81,2917.05 L804.97,2917.08 L808.07,2917.64 L811.17,2918.21 L814.27,2918.76 L816.14,2919.10 L817.37,2919.32 L820.47,2919.87 L823.57,2920.41 L826.67,2920.95 L827.69,2921.13 L829.77,2921.49 L832.87,2922.03 L835.97,2922.55 L839.07,2923.08 L839.48,2923.15 L842.17,2923.60 L845.27,2924.12 L848.37,2924.63 L851.47,2925.14 L851.50,2925.15 L854.57,2925.64 L857.67,2926.15 L860.77,2926.64 L863.77,2927.12 L863.87,2927.14 L866.97,2927.62 L870.07,2928.11 L873.17,2928.59 L876.27,2929.07 L876.28,2929.07 L879.37,2929.54 L882.47,2930.01 L885.57,2930.47 L888.67,2930.94 L889.05,2930.99 L891.77,2931.39 L894.87,2931.85 L897.97,2932.30 L901.07,2932.74 L902.08,2932.89 L904.17,2933.19 L907.27,2933.62 L910.37,2934.06 L913.47,2934.49 L915.37,2934.75 L916.57,2934.92 L919.67,2935.34 L922.77,2935.76 L925.87,2936.18 L928.93,2936.59 L928.97,2936.59 L932.07,2937.00 L935.17,2937.41 L938.27,2937.81 L941.37,2938.21 L942.77,2938.39 L944.47,2938.60 L947.57,2939.00 L950.67,2939.39 L953.77,2939.77 L956.87,2940.15 L956.88,2940.15 L959.97,2940.53 L963.07,2940.91 L966.17,2941.28 L969.27,2941.65 L971.28,2941.89 L972.37,2942.02 L975.47,2942.38 L978.57,2942.75 L981.67,2943.11 L984.77,2943.47 L985.98,2943.61 L987.87,2943.82 L990.97,2944.18 L994.07,2944.53 L997.17,2944.88 L1000.27,2945.23 L1000.97,2945.31 L1003.37,2945.58 L1006.47,2945.93 L1009.57,2946.27 L1012.67,2946.62 L1015.77,2946.96 L1016.26,2947.01 L1018.87,2947.30 L1021.97,2947.64 L1025.07,2947.98 L1028.17,2948.32 L1031.27,2948.65 L1031.86,2948.72 L1034.37,2948.99 L1037.47,2949.32 L1040.57,2949.65 L1043.67,2949.97 L1046.77,2950.30 L1047.78,2950.41 L1049.87,2950.62 L1052.97,2950.95 L1056.07,2951.26 L1059.17,2951.58 L1062.27,2951.90 L1064.02,2952.08 L1065.37,2952.21 L1068.47,2952.52 L1071.57,2952.83 L1074.67,2953.14 L1077.77,2953.45 L1080.59,2953.73 L1080.87,2953.76 L1083.97,2954.06 L1087.07,2954.36 L1090.17,2954.66 L1093.27,2954.96 L1096.37,2955.25 L1097.49,2955.36 L1099.48,2955.55 L1102.58,2955.84 L1105.68,2956.13 L1108.78,2956.42 L1111.88,2956.71 L1114.74,2956.98 L1114.98,2957.00 L1118.08,2957.28 L1121.18,2957.57 L1124.28,2957.85 L1127.38,2958.13 L1130.48,2958.41 L1132.34,2958.58 L1133.58,2958.69 L1136.68,2958.96 L1139.78,2959.24 L1142.88,2959.51 L1145.98,2959.78 L1149.08,2960.05 L1150.29,2960.16 L1152.18,2960.32 L1155.28,2960.59 L1158.38,2960.86 L1161.48,2961.12 L1164.58,2961.39 L1167.68,2961.65 L1168.60,2961.73 L1170.78,2961.91 L1173.88,2962.17 L1176.98,2962.43 L1180.08,2962.69 L1183.18,2962.94 L1186.28,2963.20 L1187.29,2963.28 L1189.38,2963.45 L1192.48,2963.70 L1195.58,2963.96 L1198.68,2964.21 L1201.78,2964.45 L1204.88,2964.70 L1206.35,2964.82 L1207.98,2964.95 L1211.08,2965.19 L1214.18,2965.44 L1217.28,2965.68 L1220.38,2965.92 L1223.48,2966.16 L1225.80,2966.34 L1226.58,2966.40 L1229.68,2966.64 L1232.78,2966.88 L1235.88,2967.12 L1238.98,2967.35 L1242.08,2967.59 L1245.18,2967.82 L1245.65,2967.86 L1248.28,2968.05 L1251.38,2968.28 L1254.48,2968.51 L1257.58,2968.74 L1260.68,2968.97 L1263.78,2969.20 L1265.89,2969.35 L1266.88,2969.43 L1269.98,2969.65 L1273.08,2969.88 L1276.18,2970.10 L1279.28,2970.32 L1282.38,2970.54 L1285.48,2970.76 L1286.55,2970.84 L1288.58,2970.98 L1291.68,2971.20 L1294.78,2971.42 L1297.88,2971.64 L1300.98,2971.85 L1304.08,2972.07 L1307.18,2972.28 L1307.62,2972.31 L1310.28,2972.49 L1313.38,2972.71 L1316.48,2972.92 L1319.58,2973.13 L1322.68,2973.34 L1325.78,2973.55 L1328.88,2973.76 L1329.12,2973.77 L1331.98,2973.96 L1335.08,2974.17 L1338.18,2974.38 L1341.28,2974.58 L1344.38,2974.79 L1347.48,2974.99 L1350.58,2975.19 L1351.06,2975.22 L1353.68,2975.39 L1356.78,2975.59 L1359.88,2975.79 L1362.98,2975.99 L1366.08,2976.19 L1369.18,2976.39 L1372.28,2976.59 L1373.44,2976.66 L1375.38,2976.78 L1378.48,2976.98 L1381.58,2977.18 L1384.68,2977.37 L1387.78,2977.56 L1390.88,2977.76 L1393.98,2977.95 L1396.27,2978.09 L1397.08,2978.14 L1400.18,2978.33 L1403.28,2978.52 L1406.38,2978.71 L1409.48,2978.90 L1412.58,2979.09 L1415.68,2979.27 L1418.78,2979.46 L1419.56,2979.51 L1421.88,2979.65 L1424.98,2979.83 L1428.08,2980.02 L1431.18,2980.20 L1434.28,2980.38 L1437.38,2980.57 L1440.48,2980.75 L1443.33,2980.91 L1443.58,2980.93 L1446.68,2981.11 L1449.78,2981.29 L1452.88,2981.47 L1455.98,2981.65 L1459.08,2981.83 L1462.18,2982.00 L1465.28,2982.18 L1467.57,2982.31 L1468.38,2982.36 L1471.48,2982.53 L1474.58,2982.71 L1477.68,2982.88 L1480.78,2983.06 L1483.88,2983.23 L1486.98,2983.40 L1490.08,2983.58 L1492.31,2983.70 L1493.18,2983.75 L1496.28,2983.92 L1499.38,2984.09 L1502.49,2984.26 L1505.59,2984.43 L1508.69,2984.60 L1511.79,2984.77 L1514.89,2984.93 L1517.55,2985.08 L1517.99,2985.10 L1521.09,2985.27 L1524.19,2985.43 L1527.29,2985.60 L1530.39,2985.77 L1533.49,2985.93 L1536.59,2986.09 L1539.69,2986.26 L1542.79,2986.42 L1543.30,2986.45 L1545.89,2986.58 L1548.99,2986.75 L1552.09,2986.91 L1555.19,2987.07 L1558.29,2987.23 L1561.39,2987.39 L1564.49,2987.55 L1567.59,2987.71 L1569.57,2987.81 L1570.69,2987.87 L1573.79,2988.02 L1576.89,2988.18 L1579.99,2988.34 L1583.09,2988.49 L1586.19,2988.65 L1589.29,2988.81 L1592.39,2988.96 L1595.49,2989.12 L1596.37,2989.16 L1598.59,2989.27 L1601.69,2989.42 L1604.79,2989.58 L1607.89,2989.73 L1610.99,2989.88 L1614.09,2990.04 L1617.19,2990.19 L1620.29,2990.34 L1623.39,2990.49 L1623.71,2990.50 L1626.49,2990.64 L1629.59,2990.79 L1632.69,2990.94 L1635.79,2991.09 L1638.89,2991.24 L1641.99,2991.38 L1645.09,2991.53 L1648.19,2991.68 L1651.29,2991.83 L1651.61,2991.84 L1654.39,2991.97 L1657.49,2992.12 L1660.59,2992.27 L1663.69,2992.42 L1666.79,2992.57 L1669.89,2992.72 L1672.99,2992.87 L1676.09,2993.02 L1679.19,2993.17 L1680.07,2993.21 L1682.29,2993.32 L1685.39,2993.47 L1688.49,2993.61 L1691.59,2993.76 L1694.69,2993.91 L1697.79,2994.06 L1700.89,2994.21 L1703.99,2994.36 L1707.09,2994.51 L1709.11,2994.61 L1710.19,2994.66 L1713.29,2994.81 L1716.39,2994.96 L1719.49,2995.11 L1722.59,2995.26 L1725.69,2995.40 L1728.79,2995.55 L1731.89,2995.70 L1734.99,2995.85 L1738.09,2995.99 L1738.74,2996.02 L1741.19,2996.14 L1744.29,2996.29 L1747.39,2996.43 L1750.49,2996.58 L1753.59,2996.72 L1756.69,2996.87 L1759.79,2997.01 L1762.89,2997.16 L1765.99,2997.30 L1768.96,2997.44 L1769.09,2997.44 L1772.19,2997.58 L1775.29,2997.73 L1778.39,2997.87 L1781.49,2998.01 L1784.59,2998.15 L1787.69,2998.29 L1790.79,2998.43 L1793.89,2998.57 L1796.99,2998.70 L1799.80,2998.83 L1800.09,2998.84 L1803.19,2998.98 L1806.29,2999.11 L1809.39,2999.25 L1812.49,2999.38 L1815.59,2999.52 L1818.69,2999.65 L1821.79,2999.78 L1824.89,2999.91 L1827.99,3000.04 L1831.09,3000.18 L1831.26,3000.18 L1834.19,3000.30 L1837.29,3000.43 L1840.39,3000.56 L1843.49,3000.69 L1846.59,3000.82 L1849.69,3000.94 L1852.79,3001.07 L1855.89,3001.19 L1858.99,3001.31 L1862.09,3001.44 L1863.36,3001.49 L1865.19,3001.56 L1868.29,3001.68 L1871.39,3001.80 L1874.49,3001.92 L1877.59,3002.04 L1880.69,3002.15 L1883.79,3002.27 L1886.89,3002.38 L1889.99,3002.50 L1893.09,3002.61 L1896.11,3002.72 L1896.19,3002.73 L1899.29,3002.84 L1902.39,3002.95 L1905.50,3003.06 L1908.60,3003.17 L1911.70,3003.28 L1914.80,3003.38 L1917.90,3003.49 L1921.00,3003.60 L1924.10,3003.70 L1927.20,3003.80 L1929.52,3003.88 L1930.30,3003.91 L1933.40,3004.01 L1936.50,3004.11 L1939.60,3004.21 L1942.70,3004.31 L1945.80,3004.40 L1948.90,3004.50 L1952.00,3004.60 L1955.10,3004.69 L1958.20,3004.79 L1961.30,3004.88 L1963.61,3004.94 L1964.40,3004.97 L1967.50,3005.05 L1970.60,3005.14 L1973.70,3005.22 L1976.80,3005.31 L1979.90,3005.39 L1983.00,3005.47 L1986.10,3005.55 L1989.20,3005.63 L1992.30,3005.70 L1995.40,3005.78 L1998.39,3005.86 L1998.50,3005.86 L2001.60,3005.94 L2004.70,3006.01 L2007.80,3006.09 L2010.90,3006.17 L2014.00,3006.25 L2017.10,3006.33 L2020.20,3006.41 L2023.30,3006.49 L2026.40,3006.58 L2029.50,3006.66 L2032.60,3006.75 L2033.87,3006.78 L2035.70,3006.83 L2038.80,3006.92 L2041.90,3007.01 L2045.00,3007.10 L2048.10,3007.19 L2051.20,3007.29 L2054.30,3007.38 L2057.40,3007.47 L2060.50,3007.57 L2063.60,3007.66 L2066.70,3007.75 L2069.80,3007.85 L2070.07,3007.86 L2072.90,3007.95 L2076.00,3008.04 L2079.10,3008.14 L2082.20,3008.24 L2085.30,3008.34 L2088.40,3008.43 L2091.50,3008.53 L2094.60,3008.63 L2097.70,3008.73 L2100.80,3008.83 L2103.90,3008.93 L2107.00,3009.03 L2107.00,3009.03" fill="none" stroke="#000000" stroke-width="2.4" stroke-linejoin="round"/>
<rect x="238.67" y="2059.59" width="22.00" height="22.00" fill="#000000" stroke="none" stroke-width="0" />
<rect x="316.23" y="2668.04" width="22.00" height="22.00" fill="#000000" stroke="none" stroke-width="0" />
<rect x="393.80" y="2764.03" width="22.00" height="22.00" fill="#000000" stroke="none" stroke-width="0" />
<rect x="471.37" y="2816.73" width="22.00" height="22.00" fill="#000000" stroke="none" stroke-width="0" />
<rect x="548.93" y="2846.51" width="22.00" height="22.00" fill="#000000" stroke="none" stroke-width="0" />
<rect x="626.50" y="2869.45" width="22.00" height="22.00" fill="#000000" stroke="none" stroke-width="0" />
<rect x="704.07" y="2887.95" width="22.00" height="22.00" fill="#000000" stroke="none" stroke-width="0" />
<rect x="781.63" y="2903.78" width="22.00" height="22.00" fill="#000000" stroke="none" stroke-width="0" />
<rect x="859.20" y="2917.13" width="22.00" height="22.00" fill="#000000" stroke="none" stroke-width="0" />
<rect x="936.77" y="2928.02" width="22.00" height="22.00" fill="#000000" stroke="none" stroke-width="0" />
<rect x="1014.33" y="2937.01" width="22.00" height="22.00" fill="#000000" stroke="none" stroke-width="0" />
<rect x="1091.90" y="2944.87" width="22.00" height="22.00" fill="#000000" stroke="none" stroke-width="0" />
<rect x="1169.47" y="2951.72" width="22.00" height="22.00" fill="#000000" stroke="none" stroke-width="0" />
<rect x="1247.03" y="2957.78" width="22.00" height="22.00" fill="#000000" stroke="none" stroke-width="0" />
<rect x="1324.60" y="2963.21" width="22.00" height="22.00" fill="#000000" stroke="none" stroke-width="0" />
<rect x="1402.17" y="2968.12" width="22.00" height="22.00" fill="#000000" stroke="none" stroke-width="0" />
<rect x="1479.73" y="2972.61" width="22.00" height="22.00" fill="#000000" stroke="none" stroke-width="0" />
<rect x="1557.30" y="2976.74" width="22.00" height="22.00" fill="#000000" stroke="none" stroke-width="0" />
<rect x="1634.87" y="2980.57" width="22.00" height="22.00" fill="#000000" stroke="none" stroke-width="0" />
<rect x="1712.43" y="2984.30" width="22.00" height="22.00" fill="#000000" stroke="none" stroke-width="0" />
<rect x="1790.00" y="2987.88" width="22.00" height="22.00" fill="#000000" stroke="none" stroke-width="0" />
<rect x="1867.57" y="2991.07" width="22.00" height="22.00" fill="#000000" stroke="none" stroke-width="0" />
<rect x="1945.13" y="2993.72" width="22.00" height="22.00" fill="#000000" stroke="none" stroke-width="0" />
<rect x="2022.70" y="2995.78" width="22.00" height="22.00" fill="#000000" stroke="none" stroke-width="0" />
<path d="M250.05,1897.13 L250.15,1903.26 L250.24,1909.38 L250.34,1915.48 L250.44,1921.57 L250.54,1927.65 L250.65,1933.71 L250.75,1939.76 L250.86,1945.79 L250.97,1951.81 L251.09,1957.81 L251.20,1963.80 L251.32,1969.77 L251.44,1975.73 L251.56,1981.67 L251.69,1987.60 L251.81,1993.51 L251.94,1999.40 L252.08,2005.28 L252.21,2011.13 L252.35,2016.98 L252.49,2022.80 L252.63,2028.61 L252.78,2034.40 L252.93,2040.18 L253.08,2045.94 L253.15,2048.67 L253.24,2051.68 L253.39,2057.40 L253.56,2063.10 L253.72,2068.79 L253.89,2074.45 L254.06,2080.10 L254.24,2085.73 L254.42,2091.35 L254.60,2096.94 L254.78,2102.52 L254.97,2108.07 L255.17,2113.61 L255.37,2119.13 L255.57,2124.63 L255.77,2130.11 L255.98,2135.57 L256.20,2141.01 L256.25,2142.42 L256.42,2146.43 L256.64,2151.84 L256.87,2157.22 L257.10,2162.58 L257.34,2167.92 L257.58,2173.25 L257.82,2178.55 L258.08,2183.83 L258.33,2189.10 L258.59,2194.34 L258.86,2199.56 L259.13,2204.76 L259.35,2208.90 L259.41,2209.95 L259.69,2215.11 L259.98,2220.25 L260.28,2225.37 L260.58,2230.47 L260.89,2235.54 L261.20,2240.60 L261.52,2245.64 L261.85,2250.66 L262.18,2255.65 L262.45,2259.68 L262.52,2260.62 L262.87,2265.58 L263.22,2270.51 L263.58,2275.42 L263.95,2280.31 L264.32,2285.18 L264.71,2290.03 L265.10,2294.86 L265.50,2299.66 L265.55,2300.35 L265.90,2304.44 L266.32,2309.21 L266.74,2313.95 L267.17,2318.67 L267.61,2323.37 L268.06,2328.05 L268.52,2332.70 L268.65,2334.02 L268.99,2337.34 L269.47,2341.95 L269.95,2346.54 L270.45,2351.11 L270.96,2355.66 L271.48,2360.19 L271.75,2362.58 L272.00,2364.70 L272.54,2369.18 L273.09,2373.65 L273.65,2378.09 L274.22,2382.51 L274.81,2386.91 L274.85,2387.26 L275.40,2391.29 L276.01,2395.64 L276.63,2399.98 L277.26,2404.29 L277.91,2408.59 L277.95,2408.90 L278.56,2412.86 L279.24,2417.11 L279.92,2421.33 L280.62,2425.54 L281.05,2428.11 L281.33,2429.73 L282.06,2433.89 L282.80,2438.04 L283.56,2442.16 L284.15,2445.33 L284.33,2446.26 L285.12,2450.34 L285.92,2454.40 L286.74,2458.44 L287.25,2460.90 L287.58,2462.45 L288.43,2466.45 L289.30,2470.42 L290.19,2474.38 L290.35,2475.08 L291.10,2478.31 L292.02,2482.22 L292.97,2486.11 L293.46,2488.08 L293.93,2489.98 L294.91,2493.83 L295.92,2497.66 L296.56,2500.05 L296.94,2501.47 L297.98,2505.25 L299.05,2509.02 L299.66,2511.13 L300.13,2512.77 L301.24,2516.49 L302.37,2520.20 L302.76,2521.44 L303.52,2523.88 L304.70,2527.54 L305.86,2531.05 L305.90,2531.19 L307.12,2534.81 L308.37,2538.41 L308.96,2540.06 L309.65,2542.00 L310.95,2545.56 L312.06,2548.52 L312.28,2549.10 L313.63,2552.62 L315.01,2556.12 L315.16,2556.49 L316.42,2559.61 L317.86,2563.07 L318.26,2564.02 L319.32,2566.51 L320.82,2569.93 L321.36,2571.14 L322.35,2573.34 L323.90,2576.72 L324.46,2577.90 L325.49,2580.08 L327.11,2583.43 L327.56,2584.33 L328.77,2586.76 L330.45,2590.08 L330.66,2590.47 L332.18,2593.39 L333.76,2596.38 L333.93,2596.70 L335.72,2600.01 L336.86,2602.06 L337.55,2603.30 L339.42,2606.59 L339.96,2607.53 L341.32,2609.87 L343.06,2612.80 L343.26,2613.14 L345.24,2616.41 L346.16,2617.89 L347.26,2619.66 L349.26,2622.80 L349.33,2622.91 L351.43,2626.14 L352.36,2627.55 L353.57,2629.37 L355.46,2632.14 L355.76,2632.58 L358.00,2635.79 L358.56,2636.58 L360.28,2638.98 L361.66,2640.87 L362.60,2642.16 L364.76,2645.04 L364.97,2645.33 L367.39,2648.48 L367.86,2649.08 L369.86,2651.63 L370.96,2653.00 L372.38,2654.76 L374.06,2656.80 L374.95,2657.88 L377.16,2660.49 L377.58,2660.98 L380.25,2664.07 L380.26,2664.08 L382.98,2667.15 L383.36,2667.57 L385.76,2670.21 L386.46,2670.96 L388.61,2673.26 L389.56,2674.26 L391.50,2676.29 L392.66,2677.48 L394.46,2679.31 L395.76,2680.61 L397.48,2682.32 L398.86,2683.66 L400.56,2685.30 L401.96,2686.64 L403.70,2688.28 L405.06,2689.54 L406.90,2691.24 L408.16,2692.38 L410.17,2694.20 L411.26,2695.18 L413.51,2697.17 L414.36,2697.92 L416.91,2700.14 L417.46,2700.61 L420.38,2703.11 L420.56,2703.26 L423.66,2705.85 L423.92,2706.07 L426.76,2708.39 L427.53,2709.02 L429.86,2710.89 L431.22,2711.97 L432.96,2713.33 L434.98,2714.90 L436.06,2715.72 L438.82,2717.81 L439.16,2718.07 L442.26,2720.36 L442.73,2720.71 L445.36,2722.61 L446.73,2723.59 L448.46,2724.81 L450.80,2726.45 L451.56,2726.97 L454.66,2729.08 L454.96,2729.28 L457.76,2731.14 L459.20,2732.08 L460.86,2733.16 L463.53,2734.86 L463.96,2735.13 L467.06,2737.06 L467.94,2737.60 L470.16,2738.95 L472.45,2740.31 L473.26,2740.79 L476.36,2742.60 L477.04,2742.99 L479.46,2744.36 L481.73,2745.63 L482.56,2746.09 L485.66,2747.78 L486.52,2748.24 L488.76,2749.43 L491.40,2750.81 L491.86,2751.05 L494.96,2752.63 L496.38,2753.34 L498.06,2754.19 L501.16,2755.71 L501.46,2755.85 L504.26,2757.21 L506.64,2758.34 L507.36,2758.68 L510.46,2760.13 L511.93,2760.80 L513.56,2761.55 L516.66,2762.95 L517.32,2763.25 L519.76,2764.33 L522.82,2765.67 L522.86,2765.69 L525.96,2767.03 L528.44,2768.09 L529.06,2768.35 L532.16,2769.66 L534.17,2770.49 L535.26,2770.94 L538.36,2772.22 L540.01,2772.89 L541.46,2773.47 L544.56,2774.72 L545.98,2775.28 L547.66,2775.95 L550.76,2777.16 L552.06,2777.67 L553.86,2778.37 L556.96,2779.56 L558.27,2780.06 L560.06,2780.74 L563.16,2781.91 L564.60,2782.44 L566.26,2783.06 L569.36,2784.19 L571.06,2784.81 L572.46,2785.31 L575.56,2786.42 L577.65,2787.16 L578.66,2787.51 L581.76,2788.59 L584.38,2789.49 L584.86,2789.66 L587.96,2790.71 L591.06,2791.75 L591.24,2791.81 L594.16,2792.78 L597.26,2793.79 L598.24,2794.11 L600.36,2794.80 L603.46,2795.79 L605.38,2796.40 L606.56,2796.78 L609.66,2797.75 L612.67,2798.68 L612.76,2798.71 L615.86,2799.67 L618.96,2800.61 L620.10,2800.96 L622.06,2801.55 L625.16,2802.48 L627.68,2803.22 L628.26,2803.39 L631.36,2804.30 L634.46,2805.20 L635.42,2805.48 L637.56,2806.10 L640.66,2806.98 L643.32,2807.74 L643.76,2807.86 L646.86,2808.73 L649.96,2809.60 L651.37,2809.99 L653.06,2810.45 L656.16,2811.30 L659.26,2812.15 L659.59,2812.23 L662.36,2812.98 L665.46,2813.81 L667.97,2814.48 L668.56,2814.64 L671.66,2815.45 L674.76,2816.27 L676.52,2816.72 L677.86,2817.07 L680.96,2817.87 L684.06,2818.67 L685.25,2818.97 L687.16,2819.46 L690.26,2820.24 L693.36,2821.02 L694.15,2821.22 L696.47,2821.80 L699.57,2822.57 L702.67,2823.33 L703.23,2823.47 L705.77,2824.09 L708.87,2824.84 L711.97,2825.60 L712.50,2825.72 L715.07,2826.34 L718.17,2827.08 L721.27,2827.82 L721.96,2827.99 L724.37,2828.56 L727.47,2829.29 L730.57,2830.01 L731.60,2830.26 L733.67,2830.74 L736.77,2831.46 L739.87,2832.17 L741.44,2832.53 L742.97,2832.88 L746.07,2833.59 L749.17,2834.29 L751.48,2834.81 L752.27,2834.98 L755.37,2835.68 L758.47,2836.37 L761.57,2837.05 L761.73,2837.09 L764.67,2837.73 L767.77,2838.41 L770.87,2839.08 L772.18,2839.36 L773.97,2839.75 L777.07,2840.41 L780.17,2841.07 L782.84,2841.64 L783.27,2841.73 L786.37,2842.38 L789.47,2843.02 L792.57,2843.67 L793.72,2843.90 L795.67,2844.30 L798.77,2844.94 L801.87,2845.57 L804.81,2846.16 L804.97,2846.19 L808.07,2846.82 L811.17,2847.43 L814.27,2848.05 L816.14,2848.41 L817.37,2848.65 L820.47,2849.26 L823.57,2849.86 L826.67,2850.46 L827.69,2850.65 L829.77,2851.05 L832.87,2851.64 L835.97,2852.22 L839.07,2852.80 L839.48,2852.88 L842.17,2853.38 L845.27,2853.95 L848.37,2854.52 L851.47,2855.08 L851.50,2855.09 L854.57,2855.64 L857.67,2856.20 L860.77,2856.75 L863.77,2857.28 L863.87,2857.30 L866.97,2857.85 L870.07,2858.39 L873.17,2858.93 L876.27,2859.46 L876.28,2859.46 L879.37,2859.99 L882.47,2860.52 L885.57,2861.04 L888.67,2861.56 L889.05,2861.62 L891.77,2862.07 L894.87,2862.58 L897.97,2863.09 L901.07,2863.59 L902.08,2863.76 L904.17,2864.09 L907.27,2864.59 L910.37,2865.08 L913.47,2865.57 L915.37,2865.87 L916.57,2866.06 L919.67,2866.54 L922.77,2867.02 L925.87,2867.50 L928.93,2867.96 L928.97,2867.97 L932.07,2868.44 L935.17,2868.90 L938.27,2869.37 L941.37,2869.82 L942.77,2870.03 L944.47,2870.28 L947.57,2870.73 L950.67,2871.18 L953.77,2871.63 L956.87,2872.08 L956.88,2872.08 L959.97,2872.52 L963.07,2872.97 L966.17,2873.41 L969.27,2873.85 L971.28,2874.14 L972.37,2874.29 L975.47,2874.73 L978.57,2875.16 L981.67,2875.59 L984.77,2876.02 L985.98,2876.18 L987.87,2876.44 L990.97,2876.87 L994.07,2877.29 L997.17,2877.70 L1000.27,2878.11 L1000.97,2878.20 L1003.37,2878.52 L1006.47,2878.93 L1009.57,2879.33 L1012.67,2879.72 L1015.77,2880.11 L1016.26,2880.18 L1018.87,2880.50 L1021.97,2880.89 L1025.07,2881.27 L1028.17,2881.64 L1031.27,2882.01 L1031.86,2882.09 L1034.37,2882.38 L1037.47,2882.75 L1040.57,2883.11 L1043.67,2883.47 L1046.77,2883.83 L1047.78,2883.95 L1049.87,2884.19 L1052.97,2884.54 L1056.07,2884.89 L1059.17,2885.23 L1062.27,2885.58 L1064.02,2885.77 L1065.37,2885.92 L1068.47,2886.26 L1071.57,2886.59 L1074.67,2886.93 L1077.77,2887.26 L1080.59,2887.55 L1080.87,2887.59 L1083.97,2887.91 L1087.07,2888.23 L1090.17,2888.56 L1093.27,2888.88 L1096.37,2889.19 L1097.49,2889.31 L1099.48,2889.51 L1102.58,2889.82 L1105.68,2890.13 L1108.78,2890.44 L1111.88,2890.74 L1114.74,2891.03 L1114.98,2891.05 L1118.08,2891.35 L1121.18,2891.65 L1124.28,2891.95 L1127.38,2892.24 L1130.48,2892.54 L1132.34,2892.71 L1133.58,2892.83 L1136.68,2893.12 L1139.78,2893.41 L1142.88,2893.70 L1145.98,2893.98 L1149.08,2894.27 L1150.29,2894.38 L1152.18,2894.55 L1155.28,2894.83 L1158.38,2895.11 L1161.48,2895.39 L1164.58,2895.66 L1167.68,2895.93 L1168.60,2896.02 L1170.78,2896.21 L1173.88,2896.48 L1176.98,2896.75 L1180.08,2897.02 L1183.18,2897.28 L1186.28,2897.55 L1187.29,2897.63 L1189.38,2897.81 L1192.48,2898.07 L1195.58,2898.33 L1198.68,2898.59 L1201.78,2898.85 L1204.88,2899.11 L1206.35,2899.23 L1207.98,2899.36 L1211.08,2899.62 L1214.18,2899.87 L1217.28,2900.12 L1220.38,2900.37 L1223.48,2900.62 L1225.80,2900.81 L1226.58,2900.87 L1229.68,2901.12 L1232.78,2901.36 L1235.88,2901.61 L1238.98,2901.85 L1242.08,2902.09 L1245.18,2902.33 L1245.65,2902.37 L1248.28,2902.57 L1251.38,2902.81 L1254.48,2903.05 L1257.58,2903.29 L1260.68,2903.52 L1263.78,2903.76 L1265.89,2903.92 L1266.88,2903.99 L1269.98,2904.23 L1273.08,2904.46 L1276.18,2904.69 L1279.28,2904.92 L1282.38,2905.15 L1285.48,2905.38 L1286.55,2905.46 L1288.58,2905.61 L1291.68,2905.83 L1294.78,2906.06 L1297.88,2906.28 L1300.98,2906.51 L1304.08,2906.73 L1307.18,2906.95 L1307.62,2906.98 L1310.28,2907.17 L1313.38,2907.39 L1316.48,2907.61 L1319.58,2907.83 L1322.68,2908.05 L1325.78,2908.27 L1328.88,2908.49 L1329.12,2908.50 L1331.98,2908.70 L1335.08,2908.92 L1338.18,2909.13 L1341.28,2909.35 L1344.38,2909.56 L1347.48,2909.77 L1350.58,2909.98 L1351.06,2910.02 L1353.68,2910.19 L1356.78,2910.41 L1359.88,2910.61 L1362.98,2910.82 L1366.08,2911.03 L1369.18,2911.24 L1372.28,2911.45 L1373.44,2911.52 L1375.38,2911.65 L1378.48,2911.86 L1381.58,2912.07 L1384.68,2912.27 L1387.78,2912.47 L1390.88,2912.68 L1393.98,2912.88 L1396.27,2913.03 L1397.08,2913.08 L1400.18,2913.28 L1403.28,2913.49 L1406.38,2913.69 L1409.48,2913.89 L1412.58,2914.09 L1415.68,2914.29 L1418.78,2914.48 L1419.56,2914.53 L1421.88,2914.68 L1424.98,2914.88 L1428.08,2915.08 L1431.18,2915.27 L1434.28,2915.47 L1437.38,2915.66 L1440.48,2915.86 L1443.33,2916.04 L1443.58,2916.05 L1446.68,2916.25 L1449.78,2916.44 L1452.88,2916.64 L1455.98,2916.83 L1459.08,2917.02 L1462.18,2917.21 L1465.28,2917.40 L1467.57,2917.54 L1468.38,2917.59 L1471.48,2917.78 L1474.58,2917.97 L1477.68,2918.16 L1480.78,2918.35 L1483.88,2918.54 L1486.98,2918.73 L1490.08,2918.92 L1492.31,2919.05 L1493.18,2919.11 L1496.28,2919.29 L1499.38,2919.48 L1502.49,2919.67 L1505.59,2919.85 L1508.69,2920.04 L1511.79,2920.22 L1514.89,2920.41 L1517.55,2920.57 L1517.99,2920.59 L1521.09,2920.78 L1524.19,2920.96 L1527.29,2921.14 L1530.39,2921.33 L1533.49,2921.51 L1536.59,2921.69 L1539.69,2921.88 L1542.79,2922.06 L1543.30,2922.09 L1545.89,2922.24 L1548.99,2922.42 L1552.09,2922.60 L1555.19,2922.78 L1558.29,2922.96 L1561.39,2923.14 L1564.49,2923.32 L1567.59,2923.50 L1569.57,2923.61 L1570.69,2923.68 L1573.79,2923.86 L1576.89,2924.04 L1579.99,2924.21 L1583.09,2924.39 L1586.19,2924.57 L1589.29,2924.75 L1592.39,2924.92 L1595.49,2925.10 L1596.37,2925.15 L1598.59,2925.27 L1601.69,2925.45 L1604.79,2925.63 L1607.89,2925.80 L1610.99,2925.98 L1614.09,2926.15 L1617.19,2926.33 L1620.29,2926.50 L1623.39,2926.67 L1623.71,2926.69 L1626.49,2926.85 L1629.59,2927.02 L1632.69,2927.20 L1635.79,2927.37 L1638.89,2927.54 L1641.99,2927.71 L1645.09,2927.89 L1648.19,2928.06 L1651.29,2928.23 L1651.61,2928.25 L1654.39,2928.41 L1657.49,2928.58 L1660.59,2928.76 L1663.69,2928.94 L1666.79,2929.12 L1669.89,2929.30 L1672.99,2929.49 L1676.09,2929.67 L1679.19,2929.85 L1680.07,2929.91 L1682.29,2930.04 L1685.39,2930.23 L1688.49,2930.41 L1691.59,2930.60 L1694.69,2930.79 L1697.79,2930.98 L1700.89,2931.17 L1703.99,2931.36 L1707.09,2931.54 L1709.11,2931.67 L1710.19,2931.73 L1713.29,2931.92 L1716.39,2932.11 L1719.49,2932.31 L1722.59,2932.50 L1725.69,2932.69 L1728.79,2932.88 L1731.89,2933.07 L1734.99,2933.26 L1738.09,2933.45 L1738.74,2933.49 L1741.19,2933.64 L1744.29,2933.83 L1747.39,2934.01 L1750.49,2934.20 L1753.59,2934.39 L1756.69,2934.58 L1759.79,2934.76 L1762.89,2934.95 L1765.99,2935.14 L1768.96,2935.31 L1769.09,2935.32 L1772.19,2935.51 L1775.29,2935.69 L1778.39,2935.87 L1781.49,2936.05 L1784.59,2936.24 L1787.69,2936.42 L1790.79,2936.60 L1793.89,2936.77 L1796.99,2936.95 L1799.80,2937.11 L1800.09,2937.13 L1803.19,2937.30 L1806.29,2937.48 L1809.39,2937.65 L1812.49,2937.82 L1815.59,2937.99 L1818.69,2938.16 L1821.79,2938.33 L1824.89,2938.49 L1827.99,2938.66 L1831.09,2938.82 L1831.26,2938.83 L1834.19,2938.99 L1837.29,2939.15 L1840.39,2939.31 L1843.49,2939.46 L1846.59,2939.62 L1849.69,2939.78 L1852.79,2939.93 L1855.89,2940.08 L1858.99,2940.23 L1862.09,2940.38 L1863.36,2940.44 L1865.19,2940.53 L1868.29,2940.67 L1871.39,2940.82 L1874.49,2940.96 L1877.59,2941.10 L1880.69,2941.24 L1883.79,2941.37 L1886.89,2941.51 L1889.99,2941.64 L1893.09,2941.77 L1896.11,2941.90 L1896.19,2941.90 L1899.29,2942.03 L1902.39,2942.15 L1905.50,2942.27 L1908.60,2942.40 L1911.70,2942.52 L1914.80,2942.63 L1917.90,2942.75 L1921.00,2942.86 L1924.10,2942.97 L1927.20,2943.08 L1929.52,2943.16 L1930.30,2943.19 L1933.40,2943.29 L1936.50,2943.40 L1939.60,2943.50 L1942.70,2943.60 L1945.80,2943.69 L1948.90,2943.79 L1952.00,2943.88 L1955.10,2943.97 L1958.20,2944.06 L1961.30,2944.14 L1963.61,2944.21 L1964.40,2944.23 L1967.50,2944.32 L1970.60,2944.40 L1973.70,2944.49 L1976.80,2944.57 L1979.90,2944.65 L1983.00,2944.73 L1986.10,2944.81 L1989.20,2944.89 L1992.30,2944.97 L1995.40,2945.04 L1998.39,2945.11 L1998.50,2945.11 L2001.60,2945.18 L2004.70,2945.25 L2007.80,2945.31 L2010.90,2945.37 L2014.00,2945.43 L2017.10,2945.49 L2020.20,2945.54 L2023.30,2945.59 L2026.40,2945.64 L2029.50,2945.68 L2032.60,2945.72 L2033.87,2945.73 L2035.70,2945.75 L2038.80,2945.78 L2041.90,2945.82 L2045.00,2945.85 L2048.10,2945.88 L2051.20,2945.91 L2054.30,2945.94 L2057.40,2945.97 L2060.50,2946.00 L2063.60,2946.03 L2066.70,2946.06 L2069.80,2946.08 L2070.07,2946.08 L2072.90,2946.11 L2076.00,2946.13 L2079.10,2946.15 L2082.20,2946.17 L2085.30,2946.19 L2088.40,2946.20 L2091.50,2946.22 L2094.60,2946.23 L2097.70,2946.24 L2100.80,2946.25 L2103.90,2946.25 L2107.00,2946.25 L2107.00,2946.25" fill="none" stroke="#ff2020" stroke-width="2.4" stroke-linejoin="round"/>
<circle cx="249.67" cy="1897.13" r="11.50" fill="#ff0000"/>
<circle cx="327.23" cy="2583.67" r="11.50" fill="#ff0000"/>
<circle cx="404.80" cy="2689.30" r="11.50" fill="#ff0000"/>
<circle cx="482.37" cy="2745.98" r="11.50" fill="#ff0000"/>
<circle cx="559.93" cy="2780.69" r="11.50" fill="#ff0000"/>
<circle cx="637.50" cy="2806.08" r="11.50" fill="#ff0000"/>
<circle cx="715.07" cy="2826.34" r="11.50" fill="#ff0000"/>
<circle cx="792.63" cy="2843.68" r="11.50" fill="#ff0000"/>
<circle cx="870.20" cy="2858.41" r="11.50" fill="#ff0000"/>
<circle cx="947.77" cy="2870.76" r="11.50" fill="#ff0000"/>
<circle cx="1025.33" cy="2881.30" r="11.50" fill="#ff0000"/>
<circle cx="1102.90" cy="2889.85" r="11.50" fill="#ff0000"/>
<circle cx="1180.47" cy="2897.05" r="11.50" fill="#ff0000"/>
<circle cx="1258.03" cy="2903.32" r="11.50" fill="#ff0000"/>
<circle cx="1335.60" cy="2908.95" r="11.50" fill="#ff0000"/>
<circle cx="1413.17" cy="2914.12" r="11.50" fill="#ff0000"/>
<circle cx="1490.73" cy="2918.96" r="11.50" fill="#ff0000"/>
<circle cx="1568.30" cy="2923.54" r="11.50" fill="#ff0000"/>
<circle cx="1645.87" cy="2927.93" r="11.50" fill="#ff0000"/>
<circle cx="1723.43" cy="2932.55" r="11.50" fill="#ff0000"/>
<circle cx="1801.00" cy="2937.18" r="11.50" fill="#ff0000"/>
<circle cx="1878.57" cy="2941.14" r="11.50" fill="#ff0000"/>
<circle cx="1956.13" cy="2944.00" r="11.50" fill="#ff0000"/>
<circle cx="2033.70" cy="2945.73" r="11.50" fill="#ff0000"/>
<path d="M250.05,2104.97 L250.15,2109.71 L250.24,2114.45 L250.34,2119.19 L250.44,2123.93 L250.54,2128.67 L250.65,2133.40 L250.75,2138.14 L250.86,2142.87 L250.97,2147.60 L251.09,2152.33 L251.20,2157.06 L251.32,2161.78 L251.44,2166.50 L251.56,2171.22 L251.69,2175.93 L251.81,2180.64 L251.94,2185.34 L252.08,2190.04 L252.21,2194.74 L252.35,2199.42 L252.49,2204.11 L252.63,2208.78 L252.78,2213.45 L252.93,2218.12 L253.08,2222.77 L253.15,2224.99 L253.24,2227.42 L253.39,2232.07 L253.56,2236.70 L253.72,2241.33 L253.89,2245.95 L254.06,2250.56 L254.24,2255.16 L254.42,2259.76 L254.60,2264.34 L254.78,2268.92 L254.97,2273.48 L255.17,2278.04 L255.37,2282.58 L255.57,2287.12 L255.77,2291.65 L255.98,2296.16 L256.20,2300.67 L256.25,2301.84 L256.42,2305.16 L256.64,2309.64 L256.87,2314.12 L257.10,2318.58 L257.34,2323.02 L257.58,2327.46 L257.82,2331.88 L258.08,2336.30 L258.33,2340.70 L258.59,2345.08 L258.86,2349.46 L259.13,2353.82 L259.35,2357.29 L259.41,2358.17 L259.69,2362.50 L259.98,2366.82 L260.28,2371.13 L260.58,2375.42 L260.89,2379.70 L261.20,2383.97 L261.52,2388.22 L261.85,2392.46 L262.18,2396.68 L262.45,2400.09 L262.52,2400.89 L262.87,2405.09 L263.22,2409.27 L263.58,2413.43 L263.95,2417.58 L264.32,2421.71 L264.71,2425.83 L265.10,2429.94 L265.50,2434.02 L265.55,2434.61 L265.90,2438.10 L266.32,2442.15 L266.74,2446.20 L267.17,2450.22 L267.61,2454.23 L268.06,2458.22 L268.52,2462.20 L268.65,2463.33 L268.99,2466.16 L269.47,2470.10 L269.95,2474.03 L270.45,2477.94 L270.96,2481.84 L271.48,2485.72 L271.75,2487.76 L272.00,2489.58 L272.54,2493.42 L273.09,2497.25 L273.65,2501.06 L274.22,2504.85 L274.81,2508.63 L274.85,2508.93 L275.40,2512.39 L276.01,2516.13 L276.63,2519.86 L277.26,2523.57 L277.91,2527.26 L277.95,2527.53 L278.56,2530.93 L279.24,2534.59 L279.92,2538.23 L280.62,2541.85 L281.05,2544.06 L281.33,2545.45 L282.06,2549.04 L282.80,2552.61 L283.56,2556.16 L284.15,2558.89 L284.33,2559.69 L285.12,2563.21 L285.92,2566.71 L286.74,2570.19 L287.25,2572.32 L287.58,2573.65 L288.43,2577.10 L289.30,2580.52 L290.19,2583.93 L290.35,2584.55 L291.10,2587.33 L292.02,2590.70 L292.97,2594.06 L293.46,2595.76 L293.93,2597.40 L294.91,2600.72 L295.92,2604.02 L296.56,2606.09 L296.94,2607.31 L297.98,2610.58 L299.05,2613.83 L299.66,2615.65 L300.13,2617.06 L301.24,2620.27 L302.37,2623.47 L302.76,2624.54 L303.52,2626.65 L304.70,2629.81 L305.86,2632.84 L305.90,2632.95 L307.12,2636.08 L308.37,2639.19 L308.96,2640.61 L309.65,2642.28 L310.95,2645.35 L312.06,2647.91 L312.28,2648.41 L313.63,2651.45 L315.01,2654.47 L315.16,2654.78 L316.42,2657.47 L317.86,2660.45 L318.26,2661.27 L319.32,2663.42 L320.82,2666.37 L321.36,2667.41 L322.35,2669.30 L323.90,2672.22 L324.46,2673.24 L325.49,2675.12 L327.11,2678.00 L327.56,2678.77 L328.77,2680.87 L330.45,2683.75 L330.66,2684.09 L332.18,2686.64 L333.76,2689.25 L333.93,2689.54 L335.72,2692.45 L336.86,2694.26 L337.55,2695.36 L339.42,2698.28 L339.96,2699.11 L341.32,2701.20 L343.06,2703.81 L343.26,2704.11 L345.24,2707.03 L346.16,2708.35 L347.26,2709.94 L349.26,2712.75 L349.33,2712.85 L351.43,2715.75 L352.36,2717.01 L353.57,2718.64 L355.46,2721.12 L355.76,2721.52 L358.00,2724.39 L358.56,2725.10 L360.28,2727.25 L361.66,2728.94 L362.60,2730.09 L364.76,2732.66 L364.97,2732.92 L367.39,2735.73 L367.86,2736.26 L369.86,2738.52 L370.96,2739.74 L372.38,2741.30 L374.06,2743.10 L374.95,2744.05 L377.16,2746.36 L377.58,2746.79 L380.25,2749.50 L380.26,2749.50 L382.98,2752.19 L383.36,2752.55 L385.76,2754.85 L386.46,2755.50 L388.61,2757.49 L389.56,2758.35 L391.50,2760.10 L392.66,2761.12 L394.46,2762.69 L395.76,2763.79 L397.48,2765.24 L398.86,2766.39 L400.56,2767.77 L401.96,2768.90 L403.70,2770.27 L405.06,2771.33 L406.90,2772.74 L408.16,2773.70 L410.17,2775.21 L411.26,2776.02 L413.51,2777.67 L414.36,2778.28 L416.91,2780.11 L417.46,2780.50 L420.38,2782.55 L420.56,2782.67 L423.66,2784.79 L423.92,2784.97 L426.76,2786.87 L427.53,2787.38 L429.86,2788.89 L431.22,2789.77 L432.96,2790.87 L434.98,2792.14 L436.06,2792.81 L438.82,2794.49 L439.16,2794.69 L442.26,2796.54 L442.73,2796.82 L445.36,2798.34 L446.73,2799.12 L448.46,2800.09 L450.80,2801.39 L451.56,2801.81 L454.66,2803.48 L454.96,2803.64 L457.76,2805.12 L459.20,2805.86 L460.86,2806.71 L463.53,2808.05 L463.96,2808.27 L467.06,2809.79 L467.94,2810.21 L470.16,2811.27 L472.45,2812.34 L473.26,2812.71 L476.36,2814.12 L477.04,2814.43 L479.46,2815.50 L481.73,2816.48 L482.56,2816.84 L485.66,2818.14 L486.52,2818.49 L488.76,2819.39 L491.40,2820.43 L491.86,2820.61 L494.96,2821.79 L496.38,2822.32 L498.06,2822.94 L501.16,2824.06 L501.46,2824.16 L504.26,2825.15 L506.64,2825.98 L507.36,2826.23 L510.46,2827.28 L511.93,2827.77 L513.56,2828.32 L516.66,2829.34 L517.32,2829.55 L519.76,2830.35 L522.82,2831.33 L522.86,2831.34 L525.96,2832.33 L528.44,2833.12 L529.06,2833.31 L532.16,2834.29 L534.17,2834.92 L535.26,2835.26 L538.36,2836.23 L540.01,2836.75 L541.46,2837.20 L544.56,2838.16 L545.98,2838.61 L547.66,2839.13 L550.76,2840.10 L552.06,2840.51 L553.86,2841.07 L556.96,2842.04 L558.27,2842.46 L560.06,2843.02 L563.16,2844.00 L564.60,2844.46 L566.26,2844.99 L569.36,2845.97 L571.06,2846.51 L572.46,2846.96 L575.56,2847.94 L577.65,2848.60 L578.66,2848.92 L581.76,2849.91 L584.38,2850.73 L584.86,2850.88 L587.96,2851.86 L591.06,2852.83 L591.24,2852.89 L594.16,2853.80 L597.26,2854.76 L598.24,2855.07 L600.36,2855.72 L603.46,2856.67 L605.38,2857.26 L606.56,2857.62 L609.66,2858.56 L612.67,2859.47 L612.76,2859.50 L615.86,2860.42 L618.96,2861.34 L620.10,2861.68 L622.06,2862.26 L625.16,2863.16 L627.68,2863.89 L628.26,2864.06 L631.36,2864.95 L634.46,2865.83 L635.42,2866.10 L637.56,2866.70 L640.66,2867.57 L643.32,2868.30 L643.76,2868.42 L646.86,2869.27 L649.96,2870.11 L651.37,2870.48 L653.06,2870.94 L656.16,2871.76 L659.26,2872.57 L659.59,2872.65 L662.36,2873.37 L665.46,2874.16 L667.97,2874.79 L668.56,2874.94 L671.66,2875.72 L674.76,2876.48 L676.52,2876.91 L677.86,2877.24 L680.96,2877.98 L684.06,2878.72 L685.25,2879.00 L687.16,2879.44 L690.26,2880.16 L693.36,2880.87 L694.15,2881.05 L696.47,2881.57 L699.57,2882.25 L702.67,2882.93 L703.23,2883.06 L705.77,2883.60 L708.87,2884.26 L711.97,2884.92 L712.50,2885.03 L715.07,2885.56 L718.17,2886.20 L721.27,2886.83 L721.96,2886.97 L724.37,2887.45 L727.47,2888.06 L730.57,2888.67 L731.60,2888.88 L733.67,2889.28 L736.77,2889.87 L739.87,2890.47 L741.44,2890.76 L742.97,2891.05 L746.07,2891.63 L749.17,2892.20 L751.48,2892.63 L752.27,2892.77 L755.37,2893.34 L758.47,2893.89 L761.57,2894.45 L761.73,2894.47 L764.67,2894.99 L767.77,2895.54 L770.87,2896.08 L772.18,2896.30 L773.97,2896.61 L777.07,2897.14 L780.17,2897.66 L782.84,2898.11 L783.27,2898.18 L786.37,2898.70 L789.47,2899.21 L792.57,2899.72 L793.72,2899.91 L795.67,2900.22 L798.77,2900.72 L801.87,2901.22 L804.81,2901.69 L804.97,2901.71 L808.07,2902.20 L811.17,2902.69 L814.27,2903.17 L816.14,2903.46 L817.37,2903.65 L820.47,2904.12 L823.57,2904.59 L826.67,2905.06 L827.69,2905.22 L829.77,2905.53 L832.87,2905.99 L835.97,2906.45 L839.07,2906.91 L839.48,2906.97 L842.17,2907.36 L845.27,2907.81 L848.37,2908.26 L851.47,2908.70 L851.50,2908.71 L854.57,2909.15 L857.67,2909.59 L860.77,2910.02 L863.77,2910.44 L863.87,2910.46 L866.97,2910.89 L870.07,2911.32 L873.17,2911.75 L876.27,2912.17 L876.28,2912.17 L879.37,2912.59 L882.47,2913.01 L885.57,2913.43 L888.67,2913.85 L889.05,2913.90 L891.77,2914.26 L894.87,2914.67 L897.97,2915.08 L901.07,2915.49 L902.08,2915.62 L904.17,2915.90 L907.27,2916.30 L910.37,2916.70 L913.47,2917.10 L915.37,2917.35 L916.57,2917.50 L919.67,2917.90 L922.77,2918.29 L925.87,2918.68 L928.93,2919.07 L928.97,2919.07 L932.07,2919.46 L935.17,2919.85 L938.27,2920.23 L941.37,2920.62 L942.77,2920.79 L944.47,2921.00 L947.57,2921.38 L950.67,2921.76 L953.77,2922.14 L956.87,2922.52 L956.88,2922.52 L959.97,2922.90 L963.07,2923.28 L966.17,2923.66 L969.27,2924.04 L971.28,2924.29 L972.37,2924.42 L975.47,2924.80 L978.57,2925.17 L981.67,2925.55 L984.77,2925.92 L985.98,2926.06 L987.87,2926.29 L990.97,2926.66 L994.07,2927.03 L997.17,2927.39 L1000.27,2927.75 L1000.97,2927.83 L1003.37,2928.11 L1006.47,2928.47 L1009.57,2928.82 L1012.67,2929.17 L1015.77,2929.51 L1016.26,2929.57 L1018.87,2929.86 L1021.97,2930.20 L1025.07,2930.53 L1028.17,2930.86 L1031.27,2931.19 L1031.86,2931.26 L1034.37,2931.52 L1037.47,2931.85 L1040.57,2932.17 L1043.67,2932.49 L1046.77,2932.81 L1047.78,2932.91 L1049.87,2933.13 L1052.97,2933.44 L1056.07,2933.75 L1059.17,2934.06 L1062.27,2934.37 L1064.02,2934.54 L1065.37,2934.68 L1068.47,2934.98 L1071.57,2935.28 L1074.67,2935.59 L1077.77,2935.88 L1080.59,2936.15 L1080.87,2936.18 L1083.97,2936.48 L1087.07,2936.77 L1090.17,2937.06 L1093.27,2937.35 L1096.37,2937.64 L1097.49,2937.74 L1099.48,2937.92 L1102.58,2938.21 L1105.68,2938.49 L1108.78,2938.77 L1111.88,2939.05 L1114.74,2939.31 L1114.98,2939.33 L1118.08,2939.60 L1121.18,2939.88 L1124.28,2940.15 L1127.38,2940.42 L1130.48,2940.69 L1132.34,2940.85 L1133.58,2940.96 L1136.68,2941.22 L1139.78,2941.49 L1142.88,2941.75 L1145.98,2942.01 L1149.08,2942.27 L1150.29,2942.37 L1152.18,2942.53 L1155.28,2942.79 L1158.38,2943.05 L1161.48,2943.30 L1164.58,2943.55 L1167.68,2943.81 L1168.60,2943.88 L1170.78,2944.06 L1173.88,2944.31 L1176.98,2944.55 L1180.08,2944.80 L1183.18,2945.04 L1186.28,2945.29 L1187.29,2945.37 L1189.38,2945.53 L1192.48,2945.77 L1195.58,2946.01 L1198.68,2946.25 L1201.78,2946.49 L1204.88,2946.73 L1206.35,2946.84 L1207.98,2946.96 L1211.08,2947.20 L1214.18,2947.43 L1217.28,2947.66 L1220.38,2947.89 L1223.48,2948.12 L1225.80,2948.29 L1226.58,2948.35 L1229.68,2948.58 L1232.78,2948.80 L1235.88,2949.03 L1238.98,2949.25 L1242.08,2949.47 L1245.18,2949.70 L1245.65,2949.73 L1248.28,2949.92 L1251.38,2950.14 L1254.48,2950.36 L1257.58,2950.57 L1260.68,2950.79 L1263.78,2951.01 L1265.89,2951.15 L1266.88,2951.22 L1269.98,2951.43 L1273.08,2951.65 L1276.18,2951.86 L1279.28,2952.07 L1282.38,2952.28 L1285.48,2952.49 L1286.55,2952.56 L1288.58,2952.70 L1291.68,2952.90 L1294.78,2953.11 L1297.88,2953.31 L1300.98,2953.52 L1304.08,2953.72 L1307.18,2953.93 L1307.62,2953.95 L1310.28,2954.13 L1313.38,2954.33 L1316.48,2954.53 L1319.58,2954.73 L1322.68,2954.93 L1325.78,2955.12 L1328.88,2955.32 L1329.12,2955.33 L1331.98,2955.52 L1335.08,2955.71 L1338.18,2955.90 L1341.28,2956.10 L1344.38,2956.29 L1347.48,2956.48 L1350.58,2956.67 L1351.06,2956.70 L1353.68,2956.86 L1356.78,2957.05 L1359.88,2957.24 L1362.98,2957.43 L1366.08,2957.62 L1369.18,2957.80 L1372.28,2957.99 L1373.44,2958.06 L1375.38,2958.17 L1378.48,2958.36 L1381.58,2958.54 L1384.68,2958.73 L1387.78,2958.91 L1390.88,2959.09 L1393.98,2959.27 L1396.27,2959.40 L1397.08,2959.45 L1400.18,2959.63 L1403.28,2959.81 L1406.38,2959.99 L1409.48,2960.16 L1412.58,2960.34 L1415.68,2960.52 L1418.78,2960.69 L1419.56,2960.74 L1421.88,2960.87 L1424.98,2961.04 L1428.08,2961.22 L1431.18,2961.39 L1434.28,2961.56 L1437.38,2961.73 L1440.48,2961.90 L1443.33,2962.06 L1443.58,2962.07 L1446.68,2962.24 L1449.78,2962.41 L1452.88,2962.58 L1455.98,2962.75 L1459.08,2962.92 L1462.18,2963.08 L1465.28,2963.25 L1467.57,2963.37 L1468.38,2963.42 L1471.48,2963.58 L1474.58,2963.75 L1477.68,2963.91 L1480.78,2964.07 L1483.88,2964.24 L1486.98,2964.40 L1490.08,2964.56 L1492.31,2964.68 L1493.18,2964.72 L1496.28,2964.88 L1499.38,2965.04 L1502.49,2965.20 L1505.59,2965.36 L1508.69,2965.52 L1511.79,2965.68 L1514.89,2965.84 L1517.55,2965.97 L1517.99,2965.99 L1521.09,2966.15 L1524.19,2966.31 L1527.29,2966.46 L1530.39,2966.62 L1533.49,2966.77 L1536.59,2966.92 L1539.69,2967.08 L1542.79,2967.23 L1543.30,2967.26 L1545.89,2967.38 L1548.99,2967.54 L1552.09,2967.69 L1555.19,2967.84 L1558.29,2967.99 L1561.39,2968.14 L1564.49,2968.29 L1567.59,2968.44 L1569.57,2968.53 L1570.69,2968.59 L1573.79,2968.74 L1576.89,2968.88 L1579.99,2969.03 L1583.09,2969.18 L1586.19,2969.33 L1589.29,2969.47 L1592.39,2969.62 L1595.49,2969.76 L1596.37,2969.80 L1598.59,2969.91 L1601.69,2970.05 L1604.79,2970.20 L1607.89,2970.34 L1610.99,2970.48 L1614.09,2970.63 L1617.19,2970.77 L1620.29,2970.91 L1623.39,2971.05 L1623.71,2971.07 L1626.49,2971.19 L1629.59,2971.33 L1632.69,2971.48 L1635.79,2971.62 L1638.89,2971.76 L1641.99,2971.89 L1645.09,2972.03 L1648.19,2972.17 L1651.29,2972.31 L1651.61,2972.32 L1654.39,2972.45 L1657.49,2972.58 L1660.59,2972.72 L1663.69,2972.86 L1666.79,2972.99 L1669.89,2973.13 L1672.99,2973.27 L1676.09,2973.40 L1679.19,2973.54 L1680.07,2973.57 L1682.29,2973.67 L1685.39,2973.80 L1688.49,2973.94 L1691.59,2974.07 L1694.69,2974.20 L1697.79,2974.34 L1700.89,2974.47 L1703.99,2974.60 L1707.09,2974.73 L1709.11,2974.82 L1710.19,2974.86 L1713.29,2974.99 L1716.39,2975.12 L1719.49,2975.25 L1722.59,2975.38 L1725.69,2975.51 L1728.79,2975.64 L1731.89,2975.77 L1734.99,2975.90 L1738.09,2976.03 L1738.74,2976.05 L1741.19,2976.15 L1744.29,2976.28 L1747.39,2976.41 L1750.49,2976.53 L1753.59,2976.66 L1756.69,2976.78 L1759.79,2976.91 L1762.89,2977.04 L1765.99,2977.16 L1768.96,2977.28 L1769.09,2977.28 L1772.19,2977.41 L1775.29,2977.53 L1778.39,2977.66 L1781.49,2977.78 L1784.59,2977.90 L1787.69,2978.02 L1790.79,2978.15 L1793.89,2978.27 L1796.99,2978.39 L1799.80,2978.50 L1800.09,2978.51 L1803.19,2978.63 L1806.29,2978.75 L1809.39,2978.87 L1812.49,2978.99 L1815.59,2979.11 L1818.69,2979.23 L1821.79,2979.35 L1824.89,2979.47 L1827.99,2979.58 L1831.09,2979.70 L1831.26,2979.71 L1834.19,2979.82 L1837.29,2979.94 L1840.39,2980.05 L1843.49,2980.17 L1846.59,2980.28 L1849.69,2980.40 L1852.79,2980.52 L1855.89,2980.63 L1858.99,2980.75 L1862.09,2980.86 L1863.36,2980.91 L1865.19,2980.97 L1868.29,2981.09 L1871.39,2981.20 L1874.49,2981.32 L1877.59,2981.43 L1880.69,2981.54 L1883.79,2981.65 L1886.89,2981.77 L1889.99,2981.88 L1893.09,2981.99 L1896.11,2982.10 L1896.19,2982.10 L1899.29,2982.21 L1902.39,2982.32 L1905.50,2982.43 L1908.60,2982.54 L1911.70,2982.65 L1914.80,2982.76 L1917.90,2982.87 L1921.00,2982.98 L1924.10,2983.09 L1927.20,2983.20 L1929.52,2983.28 L1930.30,2983.30 L1933.40,2983.41 L1936.50,2983.52 L1939.60,2983.63 L1942.70,2983.73 L1945.80,2983.84 L1948.90,2983.94 L1952.00,2984.05 L1955.10,2984.16 L1958.20,2984.26 L1961.30,2984.37 L1963.61,2984.44 L1964.40,2984.47 L1967.50,2984.57 L1970.60,2984.67 L1973.70,2984.77 L1976.80,2984.87 L1979.90,2984.96 L1983.00,2985.06 L1986.10,2985.16 L1989.20,2985.25 L1992.30,2985.35 L1995.40,2985.45 L1998.39,2985.54 L1998.50,2985.55 L2001.60,2985.65 L2004.70,2985.75 L2007.80,2985.85 L2010.90,2985.95 L2014.00,2986.05 L2017.10,2986.16 L2020.20,2986.26 L2023.30,2986.37 L2026.40,2986.48 L2029.50,2986.60 L2032.60,2986.71 L2033.87,2986.76 L2035.70,2986.83 L2038.80,2986.95 L2041.90,2987.07 L2045.00,2987.20 L2048.10,2987.32 L2051.20,2987.45 L2054.30,2987.58 L2057.40,2987.71 L2060.50,2987.85 L2063.60,2987.99 L2066.70,2988.12 L2069.80,2988.26 L2070.07,2988.28 L2072.90,2988.41 L2076.00,2988.55 L2079.10,2988.69 L2082.20,2988.84 L2085.30,2988.99 L2088.40,2989.13 L2091.50,2989.28 L2094.60,2989.43 L2097.70,2989.59 L2100.80,2989.74 L2103.90,2989.89 L2107.00,2990.05 L2107.00,2990.05" fill="none" stroke="#a020d0" stroke-width="2.4" stroke-linejoin="round"/>
<polygon points="249.67,2090.71 263.93,2104.97 249.67,2119.23 235.41,2104.97" fill="#9900cc"/>
<polygon points="327.23,2663.95 341.49,2678.21 327.23,2692.47 312.97,2678.21" fill="#9900cc"/>
<polygon points="404.80,2756.87 419.06,2771.13 404.80,2785.39 390.54,2771.13" fill="#9900cc"/>
<polygon points="482.37,2802.50 496.63,2816.76 482.37,2831.02 468.11,2816.76" fill="#9900cc"/>
<polygon points="559.93,2828.72 574.19,2842.98 559.93,2857.24 545.67,2842.98" fill="#9900cc"/>
<polygon points="637.50,2852.42 651.76,2866.68 637.50,2880.94 623.24,2866.68" fill="#9900cc"/>
<polygon points="715.07,2871.30 729.33,2885.56 715.07,2899.82 700.81,2885.56" fill="#9900cc"/>
<polygon points="792.63,2885.47 806.89,2899.73 792.63,2913.99 778.37,2899.73" fill="#9900cc"/>
<polygon points="870.20,2897.08 884.46,2911.34 870.20,2925.60 855.94,2911.34" fill="#9900cc"/>
<polygon points="947.77,2907.14 962.03,2921.40 947.77,2935.66 933.51,2921.40" fill="#9900cc"/>
<polygon points="1025.33,2916.30 1039.59,2930.56 1025.33,2944.82 1011.07,2930.56" fill="#9900cc"/>
<polygon points="1102.90,2923.98 1117.16,2938.24 1102.90,2952.50 1088.64,2938.24" fill="#9900cc"/>
<polygon points="1180.47,2930.57 1194.73,2944.83 1180.47,2959.09 1166.21,2944.83" fill="#9900cc"/>
<polygon points="1258.03,2936.35 1272.29,2950.61 1258.03,2964.87 1243.77,2950.61" fill="#9900cc"/>
<polygon points="1335.60,2941.48 1349.86,2955.74 1335.60,2970.00 1321.34,2955.74" fill="#9900cc"/>
<polygon points="1413.17,2946.11 1427.43,2960.37 1413.17,2974.63 1398.91,2960.37" fill="#9900cc"/>
<polygon points="1490.73,2950.33 1504.99,2964.59 1490.73,2978.85 1476.47,2964.59" fill="#9900cc"/>
<polygon points="1568.30,2954.21 1582.56,2968.47 1568.30,2982.73 1554.04,2968.47" fill="#9900cc"/>
<polygon points="1645.87,2957.81 1660.13,2972.07 1645.87,2986.33 1631.61,2972.07" fill="#9900cc"/>
<polygon points="1723.43,2961.16 1737.69,2975.42 1723.43,2989.68 1709.17,2975.42" fill="#9900cc"/>
<polygon points="1801.00,2964.28 1815.26,2978.54 1801.00,2992.80 1786.74,2978.54" fill="#9900cc"/>
<polygon points="1878.57,2967.20 1892.83,2981.46 1878.57,2995.72 1864.31,2981.46" fill="#9900cc"/>
<polygon points="1956.13,2969.93 1970.39,2984.19 1956.13,2998.45 1941.87,2984.19" fill="#9900cc"/>
<polygon points="2033.70,2972.49 2047.96,2986.75 2033.70,3001.01 2019.44,2986.75" fill="#9900cc"/>
<path d="M250.05,1973.25 L250.15,1978.78 L250.24,1984.29 L250.34,1989.81 L250.44,1995.31 L250.54,2000.81 L250.65,2006.30 L250.75,2011.79 L250.86,2017.26 L250.97,2022.73 L251.09,2028.19 L251.20,2033.64 L251.32,2039.09 L251.44,2044.52 L251.56,2049.95 L251.69,2055.36 L251.81,2060.77 L251.94,2066.16 L252.08,2071.55 L252.21,2076.93 L252.35,2082.29 L252.49,2087.64 L252.63,2092.99 L252.78,2098.32 L252.93,2103.64 L253.08,2108.95 L253.15,2111.47 L253.24,2114.24 L253.39,2119.53 L253.56,2124.80 L253.72,2130.06 L253.89,2135.30 L254.06,2140.54 L254.24,2145.76 L254.42,2150.97 L254.60,2156.16 L254.78,2161.34 L254.97,2166.50 L255.17,2171.66 L255.37,2176.79 L255.57,2181.92 L255.77,2187.02 L255.98,2192.12 L256.20,2197.20 L256.25,2198.52 L256.42,2202.26 L256.64,2207.31 L256.87,2212.34 L257.10,2217.36 L257.34,2222.36 L257.58,2227.35 L257.82,2232.32 L258.08,2237.27 L258.33,2242.21 L258.59,2247.13 L258.86,2252.04 L259.13,2256.92 L259.35,2260.81 L259.41,2261.80 L259.69,2266.65 L259.98,2271.49 L260.28,2276.31 L260.58,2281.11 L260.89,2285.90 L261.20,2290.67 L261.52,2295.42 L261.85,2300.15 L262.18,2304.87 L262.45,2308.67 L262.52,2309.57 L262.87,2314.25 L263.22,2318.91 L263.58,2323.55 L263.95,2328.18 L264.32,2332.79 L264.71,2337.38 L265.10,2341.95 L265.50,2346.50 L265.55,2347.16 L265.90,2351.03 L266.32,2355.55 L266.74,2360.04 L267.17,2364.52 L267.61,2368.98 L268.06,2373.42 L268.52,2377.84 L268.65,2379.10 L268.99,2382.25 L269.47,2386.63 L269.95,2390.99 L270.45,2395.34 L270.96,2399.66 L271.48,2403.97 L271.75,2406.25 L272.00,2408.26 L272.54,2412.53 L273.09,2416.78 L273.65,2421.01 L274.22,2425.22 L274.81,2429.41 L274.85,2429.74 L275.40,2433.58 L276.01,2437.73 L276.63,2441.86 L277.26,2445.97 L277.91,2450.07 L277.95,2450.37 L278.56,2454.14 L279.24,2458.19 L279.92,2462.23 L280.62,2466.24 L281.05,2468.69 L281.33,2470.24 L282.06,2474.21 L282.80,2478.17 L283.56,2482.10 L284.15,2485.13 L284.33,2486.02 L285.12,2489.92 L285.92,2493.79 L286.74,2497.65 L287.25,2500.01 L287.58,2501.49 L288.43,2505.30 L289.30,2509.10 L290.19,2512.88 L290.35,2513.56 L291.10,2516.64 L292.02,2520.38 L292.97,2524.10 L293.46,2525.98 L293.93,2527.80 L294.91,2531.48 L295.92,2535.14 L296.56,2537.42 L296.94,2538.78 L297.98,2542.40 L299.05,2546.00 L299.66,2548.02 L300.13,2549.58 L301.24,2553.15 L302.37,2556.69 L302.76,2557.88 L303.52,2560.21 L304.70,2563.72 L305.86,2567.08 L305.90,2567.20 L307.12,2570.67 L308.37,2574.12 L308.96,2575.69 L309.65,2577.54 L310.95,2580.95 L312.06,2583.78 L312.28,2584.34 L313.63,2587.71 L315.01,2591.06 L315.16,2591.41 L316.42,2594.39 L317.86,2597.70 L318.26,2598.61 L319.32,2600.99 L320.82,2604.27 L321.36,2605.42 L322.35,2607.52 L323.90,2610.76 L324.46,2611.89 L325.49,2613.97 L327.11,2617.17 L327.56,2618.03 L328.77,2620.36 L330.45,2623.54 L330.66,2623.91 L332.18,2626.72 L333.76,2629.58 L333.93,2629.90 L335.72,2633.07 L336.86,2635.04 L337.55,2636.24 L339.42,2639.41 L339.96,2640.31 L341.32,2642.57 L343.06,2645.40 L343.26,2645.73 L345.24,2648.88 L346.16,2650.31 L347.26,2652.03 L349.26,2655.06 L349.33,2655.17 L351.43,2658.30 L352.36,2659.66 L353.57,2661.42 L355.46,2664.10 L355.76,2664.53 L358.00,2667.64 L358.56,2668.41 L360.28,2670.74 L361.66,2672.57 L362.60,2673.82 L364.76,2676.62 L364.97,2676.90 L367.39,2679.96 L367.86,2680.54 L369.86,2683.01 L370.96,2684.34 L372.38,2686.05 L374.06,2688.03 L374.95,2689.08 L377.16,2691.62 L377.58,2692.09 L380.25,2695.10 L380.26,2695.10 L382.98,2698.09 L383.36,2698.49 L385.76,2701.06 L386.46,2701.79 L388.61,2704.02 L389.56,2705.00 L391.50,2706.97 L392.66,2708.12 L394.46,2709.90 L395.76,2711.16 L397.48,2712.81 L398.86,2714.12 L400.56,2715.71 L401.96,2717.01 L403.70,2718.60 L405.06,2719.82 L406.90,2721.47 L408.16,2722.58 L410.17,2724.34 L411.26,2725.29 L413.51,2727.23 L414.36,2727.95 L416.91,2730.11 L417.46,2730.57 L420.38,2732.99 L420.56,2733.14 L423.66,2735.66 L423.92,2735.87 L426.76,2738.13 L427.53,2738.74 L429.86,2740.56 L431.22,2741.61 L432.96,2742.93 L434.98,2744.46 L436.06,2745.26 L438.82,2747.29 L439.16,2747.54 L442.26,2749.77 L442.73,2750.11 L445.36,2751.96 L446.73,2752.91 L448.46,2754.10 L450.80,2755.69 L451.56,2756.20 L454.66,2758.25 L454.96,2758.45 L457.76,2760.26 L459.20,2761.18 L460.86,2762.22 L463.53,2763.88 L463.96,2764.15 L467.06,2766.03 L467.94,2766.55 L470.16,2767.86 L472.45,2769.20 L473.26,2769.66 L476.36,2771.42 L477.04,2771.80 L479.46,2773.14 L481.73,2774.38 L482.56,2774.82 L485.66,2776.47 L486.52,2776.91 L488.76,2778.08 L491.40,2779.42 L491.86,2779.65 L494.96,2781.20 L496.38,2781.90 L498.06,2782.72 L501.16,2784.21 L501.46,2784.35 L504.26,2785.67 L506.64,2786.78 L507.36,2787.11 L510.46,2788.53 L511.93,2789.19 L513.56,2789.92 L516.66,2791.29 L517.32,2791.58 L519.76,2792.64 L522.82,2793.95 L522.86,2793.97 L525.96,2795.28 L528.44,2796.31 L529.06,2796.57 L532.16,2797.84 L534.17,2798.66 L535.26,2799.10 L538.36,2800.34 L540.01,2800.99 L541.46,2801.56 L544.56,2802.78 L545.98,2803.32 L547.66,2803.97 L550.76,2805.15 L552.06,2805.65 L553.86,2806.32 L556.96,2807.48 L558.27,2807.96 L560.06,2808.63 L563.16,2809.76 L564.60,2810.28 L566.26,2810.87 L569.36,2811.97 L571.06,2812.57 L572.46,2813.06 L575.56,2814.13 L577.65,2814.85 L578.66,2815.19 L581.76,2816.24 L584.38,2817.11 L584.86,2817.27 L587.96,2818.29 L591.06,2819.30 L591.24,2819.36 L594.16,2820.29 L597.26,2821.28 L598.24,2821.59 L600.36,2822.25 L603.46,2823.22 L605.38,2823.81 L606.56,2824.17 L609.66,2825.11 L612.67,2826.01 L612.76,2826.04 L615.86,2826.96 L618.96,2827.88 L620.10,2828.21 L622.06,2828.78 L625.16,2829.67 L627.68,2830.40 L628.26,2830.56 L631.36,2831.44 L634.46,2832.31 L635.42,2832.57 L637.56,2833.17 L640.66,2834.02 L643.32,2834.74 L643.76,2834.86 L646.86,2835.70 L649.96,2836.53 L651.37,2836.90 L653.06,2837.35 L656.16,2838.16 L659.26,2838.97 L659.59,2839.05 L662.36,2839.77 L665.46,2840.56 L667.97,2841.20 L668.56,2841.35 L671.66,2842.13 L674.76,2842.91 L676.52,2843.34 L677.86,2843.68 L680.96,2844.44 L684.06,2845.19 L685.25,2845.48 L687.16,2845.94 L690.26,2846.69 L693.36,2847.43 L694.15,2847.62 L696.47,2848.16 L699.57,2848.89 L702.67,2849.61 L703.23,2849.75 L705.77,2850.33 L708.87,2851.04 L711.97,2851.75 L712.50,2851.87 L715.07,2852.45 L718.17,2853.15 L721.27,2853.84 L721.96,2854.00 L724.37,2854.53 L727.47,2855.21 L730.57,2855.89 L731.60,2856.11 L733.67,2856.56 L736.77,2857.22 L739.87,2857.88 L741.44,2858.22 L742.97,2858.54 L746.07,2859.19 L749.17,2859.84 L751.48,2860.32 L752.27,2860.48 L755.37,2861.12 L758.47,2861.75 L761.57,2862.38 L761.73,2862.41 L764.67,2863.00 L767.77,2863.62 L770.87,2864.23 L772.18,2864.49 L773.97,2864.84 L777.07,2865.45 L780.17,2866.05 L782.84,2866.57 L783.27,2866.65 L786.37,2867.25 L789.47,2867.84 L792.57,2868.42 L793.72,2868.64 L795.67,2869.00 L798.77,2869.58 L801.87,2870.16 L804.81,2870.70 L804.97,2870.73 L808.07,2871.29 L811.17,2871.86 L814.27,2872.41 L816.14,2872.75 L817.37,2872.97 L820.47,2873.52 L823.57,2874.07 L826.67,2874.62 L827.69,2874.79 L829.77,2875.16 L832.87,2875.69 L835.97,2876.23 L839.07,2876.76 L839.48,2876.83 L842.17,2877.29 L845.27,2877.81 L848.37,2878.33 L851.47,2878.85 L851.50,2878.86 L854.57,2879.37 L857.67,2879.88 L860.77,2880.39 L863.77,2880.88 L863.87,2880.89 L866.97,2881.40 L870.07,2881.90 L873.17,2882.39 L876.27,2882.89 L876.28,2882.89 L879.37,2883.38 L882.47,2883.86 L885.57,2884.35 L888.67,2884.83 L889.05,2884.89 L891.77,2885.31 L894.87,2885.79 L897.97,2886.26 L901.07,2886.73 L902.08,2886.88 L904.17,2887.20 L907.27,2887.67 L910.37,2888.13 L913.47,2888.59 L915.37,2888.87 L916.57,2889.05 L919.67,2889.50 L922.77,2889.95 L925.87,2890.40 L928.93,2890.85 L928.97,2890.85 L932.07,2891.30 L935.17,2891.74 L938.27,2892.18 L941.37,2892.62 L942.77,2892.81 L944.47,2893.05 L947.57,2893.49 L950.67,2893.92 L953.77,2894.35 L956.87,2894.78 L956.88,2894.78 L959.97,2895.21 L963.07,2895.64 L966.17,2896.07 L969.27,2896.50 L971.28,2896.78 L972.37,2896.93 L975.47,2897.35 L978.57,2897.78 L981.67,2898.20 L984.77,2898.62 L985.98,2898.78 L987.87,2899.04 L990.97,2899.45 L994.07,2899.87 L997.17,2900.28 L1000.27,2900.69 L1000.97,2900.78 L1003.37,2901.09 L1006.47,2901.50 L1009.57,2901.90 L1012.67,2902.29 L1015.77,2902.69 L1016.26,2902.75 L1018.87,2903.08 L1021.97,2903.46 L1025.07,2903.85 L1028.17,2904.23 L1031.27,2904.60 L1031.86,2904.68 L1034.37,2904.98 L1037.47,2905.35 L1040.57,2905.72 L1043.67,2906.09 L1046.77,2906.46 L1047.78,2906.58 L1049.87,2906.82 L1052.97,2907.19 L1056.07,2907.55 L1059.17,2907.91 L1062.27,2908.26 L1064.02,2908.46 L1065.37,2908.62 L1068.47,2908.97 L1071.57,2909.32 L1074.67,2909.67 L1077.77,2910.01 L1080.59,2910.32 L1080.87,2910.36 L1083.97,2910.70 L1087.07,2911.04 L1090.17,2911.38 L1093.27,2911.71 L1096.37,2912.05 L1097.49,2912.17 L1099.48,2912.38 L1102.58,2912.71 L1105.68,2913.04 L1108.78,2913.37 L1111.88,2913.69 L1114.74,2913.99 L1114.98,2914.02 L1118.08,2914.34 L1121.18,2914.66 L1124.28,2914.98 L1127.38,2915.29 L1130.48,2915.61 L1132.34,2915.80 L1133.58,2915.92 L1136.68,2916.24 L1139.78,2916.55 L1142.88,2916.85 L1145.98,2917.16 L1149.08,2917.47 L1150.29,2917.58 L1152.18,2917.77 L1155.28,2918.07 L1158.38,2918.37 L1161.48,2918.67 L1164.58,2918.97 L1167.68,2919.26 L1168.60,2919.35 L1170.78,2919.56 L1173.88,2919.85 L1176.98,2920.14 L1180.08,2920.43 L1183.18,2920.72 L1186.28,2921.01 L1187.29,2921.10 L1189.38,2921.29 L1192.48,2921.58 L1195.58,2921.86 L1198.68,2922.14 L1201.78,2922.42 L1204.88,2922.70 L1206.35,2922.83 L1207.98,2922.98 L1211.08,2923.25 L1214.18,2923.52 L1217.28,2923.80 L1220.38,2924.07 L1223.48,2924.34 L1225.80,2924.54 L1226.58,2924.61 L1229.68,2924.88 L1232.78,2925.14 L1235.88,2925.41 L1238.98,2925.67 L1242.08,2925.93 L1245.18,2926.20 L1245.65,2926.23 L1248.28,2926.46 L1251.38,2926.71 L1254.48,2926.97 L1257.58,2927.23 L1260.68,2927.48 L1263.78,2927.74 L1265.89,2927.91 L1266.88,2927.99 L1269.98,2928.24 L1273.08,2928.49 L1276.18,2928.74 L1279.28,2928.99 L1282.38,2929.24 L1285.48,2929.48 L1286.55,2929.57 L1288.58,2929.73 L1291.68,2929.97 L1294.78,2930.21 L1297.88,2930.45 L1300.98,2930.69 L1304.08,2930.93 L1307.18,2931.17 L1307.62,2931.20 L1310.28,2931.41 L1313.38,2931.64 L1316.48,2931.88 L1319.58,2932.11 L1322.68,2932.35 L1325.78,2932.58 L1328.88,2932.81 L1329.12,2932.83 L1331.98,2933.04 L1335.08,2933.27 L1338.18,2933.49 L1341.28,2933.72 L1344.38,2933.95 L1347.48,2934.17 L1350.58,2934.39 L1351.06,2934.43 L1353.68,2934.62 L1356.78,2934.84 L1359.88,2935.06 L1362.98,2935.28 L1366.08,2935.50 L1369.18,2935.72 L1372.28,2935.93 L1373.44,2936.01 L1375.38,2936.15 L1378.48,2936.37 L1381.58,2936.58 L1384.68,2936.79 L1387.78,2937.01 L1390.88,2937.22 L1393.98,2937.43 L1396.27,2937.58 L1397.08,2937.64 L1400.18,2937.85 L1403.28,2938.05 L1406.38,2938.26 L1409.48,2938.47 L1412.58,2938.67 L1415.68,2938.88 L1418.78,2939.08 L1419.56,2939.13 L1421.88,2939.29 L1424.98,2939.49 L1428.08,2939.69 L1431.18,2939.89 L1434.28,2940.09 L1437.38,2940.29 L1440.48,2940.49 L1443.33,2940.67 L1443.58,2940.68 L1446.68,2940.88 L1449.78,2941.08 L1452.88,2941.27 L1455.98,2941.46 L1459.08,2941.66 L1462.18,2941.85 L1465.28,2942.04 L1467.57,2942.18 L1468.38,2942.23 L1471.48,2942.42 L1474.58,2942.61 L1477.68,2942.80 L1480.78,2942.99 L1483.88,2943.18 L1486.98,2943.36 L1490.08,2943.55 L1492.31,2943.68 L1493.18,2943.74 L1496.28,2943.92 L1499.38,2944.10 L1502.49,2944.29 L1505.59,2944.47 L1508.69,2944.65 L1511.79,2944.83 L1514.89,2945.01 L1517.55,2945.17 L1517.99,2945.19 L1521.09,2945.37 L1524.19,2945.55 L1527.29,2945.73 L1530.39,2945.90 L1533.49,2946.08 L1536.59,2946.26 L1539.69,2946.43 L1542.79,2946.60 L1543.30,2946.63 L1545.89,2946.78 L1548.99,2946.95 L1552.09,2947.12 L1555.19,2947.30 L1558.29,2947.47 L1561.39,2947.64 L1564.49,2947.81 L1567.59,2947.98 L1569.57,2948.08 L1570.69,2948.14 L1573.79,2948.31 L1576.89,2948.48 L1579.99,2948.65 L1583.09,2948.81 L1586.19,2948.98 L1589.29,2949.14 L1592.39,2949.31 L1595.49,2949.47 L1596.37,2949.52 L1598.59,2949.63 L1601.69,2949.80 L1604.79,2949.96 L1607.89,2950.12 L1610.99,2950.28 L1614.09,2950.44 L1617.19,2950.60 L1620.29,2950.76 L1623.39,2950.92 L1623.71,2950.94 L1626.49,2951.08 L1629.59,2951.23 L1632.69,2951.39 L1635.79,2951.55 L1638.89,2951.70 L1641.99,2951.86 L1645.09,2952.01 L1648.19,2952.17 L1651.29,2952.32 L1651.61,2952.34 L1654.39,2952.47 L1657.49,2952.63 L1660.59,2952.78 L1663.69,2952.93 L1666.79,2953.08 L1669.89,2953.23 L1672.99,2953.38 L1676.09,2953.53 L1679.19,2953.68 L1680.07,2953.72 L1682.29,2953.83 L1685.39,2953.97 L1688.49,2954.12 L1691.59,2954.27 L1694.69,2954.41 L1697.79,2954.56 L1700.89,2954.70 L1703.99,2954.85 L1707.09,2954.99 L1709.11,2955.09 L1710.19,2955.14 L1713.29,2955.28 L1716.39,2955.42 L1719.49,2955.56 L1722.59,2955.70 L1725.69,2955.85 L1728.79,2955.99 L1731.89,2956.13 L1734.99,2956.27 L1738.09,2956.40 L1738.74,2956.43 L1741.19,2956.54 L1744.29,2956.68 L1747.39,2956.82 L1750.49,2956.96 L1753.59,2957.09 L1756.69,2957.23 L1759.79,2957.37 L1762.89,2957.50 L1765.99,2957.64 L1768.96,2957.77 L1769.09,2957.77 L1772.19,2957.91 L1775.29,2958.04 L1778.39,2958.17 L1781.49,2958.31 L1784.59,2958.44 L1787.69,2958.57 L1790.79,2958.70 L1793.89,2958.83 L1796.99,2958.96 L1799.80,2959.08 L1800.09,2959.09 L1803.19,2959.22 L1806.29,2959.35 L1809.39,2959.48 L1812.49,2959.61 L1815.59,2959.74 L1818.69,2959.87 L1821.79,2960.00 L1824.89,2960.12 L1827.99,2960.25 L1831.09,2960.38 L1831.26,2960.39 L1834.19,2960.50 L1837.29,2960.63 L1840.39,2960.76 L1843.49,2960.88 L1846.59,2961.01 L1849.69,2961.13 L1852.79,2961.25 L1855.89,2961.38 L1858.99,2961.50 L1862.09,2961.62 L1863.36,2961.67 L1865.19,2961.75 L1868.29,2961.87 L1871.39,2961.99 L1874.49,2962.11 L1877.59,2962.23 L1880.69,2962.36 L1883.79,2962.48 L1886.89,2962.60 L1889.99,2962.72 L1893.09,2962.84 L1896.11,2962.95 L1896.19,2962.96 L1899.29,2963.07 L1902.39,2963.19 L1905.50,2963.31 L1908.60,2963.43 L1911.70,2963.55 L1914.80,2963.66 L1917.90,2963.78 L1921.00,2963.90 L1924.10,2964.01 L1927.20,2964.13 L1929.52,2964.22 L1930.30,2964.25 L1933.40,2964.36 L1936.50,2964.48 L1939.60,2964.59 L1942.70,2964.71 L1945.80,2964.82 L1948.90,2964.94 L1952.00,2965.05 L1955.10,2965.16 L1958.20,2965.28 L1961.30,2965.39 L1963.61,2965.47 L1964.40,2965.50 L1967.50,2965.61 L1970.60,2965.73 L1973.70,2965.84 L1976.80,2965.95 L1979.90,2966.06 L1983.00,2966.17 L1986.10,2966.28 L1989.20,2966.39 L1992.30,2966.50 L1995.40,2966.61 L1998.39,2966.71 L1998.50,2966.72 L2001.60,2966.83 L2004.70,2966.94 L2007.80,2967.04 L2010.90,2967.15 L2014.00,2967.26 L2017.10,2967.37 L2020.20,2967.48 L2023.30,2967.58 L2026.40,2967.69 L2029.50,2967.80 L2032.60,2967.90 L2033.87,2967.95 L2035.70,2968.01 L2038.80,2968.11 L2041.90,2968.22 L2045.00,2968.32 L2048.10,2968.43 L2051.20,2968.53 L2054.30,2968.64 L2057.40,2968.74 L2060.50,2968.85 L2063.60,2968.95 L2066.70,2969.05 L2069.80,2969.16 L2070.07,2969.17 L2072.90,2969.26 L2076.00,2969.36 L2079.10,2969.46 L2082.20,2969.57 L2085.30,2969.67 L2088.40,2969.77 L2091.50,2969.87 L2094.60,2969.97 L2097.70,2970.07 L2100.80,2970.17 L2103.90,2970.27 L2107.00,2970.37 L2107.00,2970.37" fill="none" stroke="#660033" stroke-width="2.4" stroke-linejoin="round"/>
<polygon points="235.13,1973.25 259.36,1959.23 259.36,1987.28" fill="#660033"/>
<polygon points="312.70,2617.41 336.92,2603.38 336.92,2631.43" fill="#660033"/>
<polygon points="390.26,2719.59 414.49,2705.57 414.49,2733.62" fill="#660033"/>
<polygon points="467.83,2774.72 492.06,2760.69 492.06,2788.74" fill="#660033"/>
<polygon points="545.40,2808.58 569.62,2794.55 569.62,2822.60" fill="#660033"/>
<polygon points="622.96,2833.15 647.19,2819.12 647.19,2847.17" fill="#660033"/>
<polygon points="700.53,2852.45 724.76,2838.43 724.76,2866.48" fill="#660033"/>
<polygon points="778.10,2868.43 802.32,2854.41 802.32,2882.46" fill="#660033"/>
<polygon points="855.66,2881.92 879.89,2867.89 879.89,2895.94" fill="#660033"/>
<polygon points="933.23,2893.51 957.46,2879.49 957.46,2907.54" fill="#660033"/>
<polygon points="1010.80,2903.88 1035.02,2889.85 1035.02,2917.90" fill="#660033"/>
<polygon points="1088.36,2912.75 1112.59,2898.72 1112.59,2926.77" fill="#660033"/>
<polygon points="1165.93,2920.47 1190.16,2906.44 1190.16,2934.49" fill="#660033"/>
<polygon points="1243.50,2927.27 1267.72,2913.24 1267.72,2941.29" fill="#660033"/>
<polygon points="1321.06,2933.30 1345.29,2919.28 1345.29,2947.33" fill="#660033"/>
<polygon points="1398.63,2938.71 1422.86,2924.69 1422.86,2952.74" fill="#660033"/>
<polygon points="1476.20,2943.59 1500.42,2929.56 1500.42,2957.61" fill="#660033"/>
<polygon points="1553.76,2948.01 1577.99,2933.99 1577.99,2962.04" fill="#660033"/>
<polygon points="1631.33,2952.05 1655.56,2938.03 1655.56,2966.08" fill="#660033"/>
<polygon points="1708.90,2955.74 1733.12,2941.72 1733.12,2969.77" fill="#660033"/>
<polygon points="1786.46,2959.13 1810.69,2945.11 1810.69,2973.16" fill="#660033"/>
<polygon points="1864.03,2962.27 1888.26,2948.25 1888.26,2976.30" fill="#660033"/>
<polygon points="1941.60,2965.20 1965.82,2951.18 1965.82,2979.23" fill="#660033"/>
<polygon points="2019.16,2967.94 2043.39,2953.91 2043.39,2981.96" fill="#660033"/>
<path d="M250.05,1853.17 L250.15,1859.20 L250.24,1865.23 L250.34,1871.25 L250.44,1877.26 L250.54,1883.26 L250.65,1889.25 L250.75,1895.23 L250.86,1901.20 L250.97,1907.16 L251.09,1913.11 L251.20,1919.04 L251.32,1924.97 L251.44,1930.88 L251.56,1936.78 L251.69,1942.67 L251.81,1948.55 L251.94,1954.41 L252.08,1960.26 L252.21,1966.10 L252.35,1971.92 L252.49,1977.74 L252.63,1983.53 L252.78,1989.32 L252.93,1995.09 L253.08,2000.84 L253.15,2003.58 L253.24,2006.58 L253.39,2012.31 L253.56,2018.02 L253.72,2023.72 L253.89,2029.40 L254.06,2035.07 L254.24,2040.72 L254.42,2046.36 L254.60,2051.98 L254.78,2057.58 L254.97,2063.17 L255.17,2068.74 L255.37,2074.30 L255.57,2079.84 L255.77,2085.36 L255.98,2090.86 L256.20,2096.35 L256.25,2097.78 L256.42,2101.83 L256.64,2107.28 L256.87,2112.72 L257.10,2118.14 L257.34,2123.54 L257.58,2128.93 L257.82,2134.29 L258.08,2139.64 L258.33,2144.97 L258.59,2150.29 L258.86,2155.58 L259.13,2160.86 L259.35,2165.05 L259.41,2166.12 L259.69,2171.36 L259.98,2176.58 L260.28,2181.78 L260.58,2186.96 L260.89,2192.13 L261.20,2197.27 L261.52,2202.40 L261.85,2207.51 L262.18,2212.60 L262.45,2216.70 L262.52,2217.66 L262.87,2222.71 L263.22,2227.74 L263.58,2232.75 L263.95,2237.74 L264.32,2242.72 L264.71,2247.67 L265.10,2252.60 L265.50,2257.51 L265.55,2258.22 L265.90,2262.40 L266.32,2267.27 L266.74,2272.13 L267.17,2276.96 L267.61,2281.77 L268.06,2286.56 L268.52,2291.33 L268.65,2292.69 L268.99,2296.08 L269.47,2300.81 L269.95,2305.52 L270.45,2310.21 L270.96,2314.88 L271.48,2319.53 L271.75,2321.99 L272.00,2324.16 L272.54,2328.77 L273.09,2333.36 L273.65,2337.93 L274.22,2342.47 L274.81,2347.00 L274.85,2347.36 L275.40,2351.50 L276.01,2355.99 L276.63,2360.45 L277.26,2364.90 L277.91,2369.32 L277.95,2369.64 L278.56,2373.72 L279.24,2378.10 L279.92,2382.46 L280.62,2386.80 L281.05,2389.45 L281.33,2391.12 L282.06,2395.42 L282.80,2399.70 L283.56,2403.96 L284.15,2407.24 L284.33,2408.19 L285.12,2412.41 L285.92,2416.60 L286.74,2420.78 L287.25,2423.33 L287.58,2424.93 L288.43,2429.07 L289.30,2433.18 L290.19,2437.27 L290.35,2438.00 L291.10,2441.34 L292.02,2445.39 L292.97,2449.42 L293.46,2451.46 L293.93,2453.43 L294.91,2457.42 L295.92,2461.39 L296.56,2463.87 L296.94,2465.34 L297.98,2469.26 L299.05,2473.17 L299.66,2475.36 L300.13,2477.06 L301.24,2480.92 L302.37,2484.77 L302.76,2486.06 L303.52,2488.59 L304.70,2492.40 L305.86,2496.05 L305.90,2496.18 L307.12,2499.95 L308.37,2503.69 L308.96,2505.40 L309.65,2507.42 L310.95,2511.12 L312.06,2514.20 L312.28,2514.80 L313.63,2518.47 L315.01,2522.11 L315.16,2522.49 L316.42,2525.73 L317.86,2529.34 L318.26,2530.32 L319.32,2532.92 L320.82,2536.48 L321.36,2537.74 L322.35,2540.03 L323.90,2543.55 L324.46,2544.78 L325.49,2547.06 L327.11,2550.54 L327.56,2551.48 L328.77,2554.01 L330.45,2557.47 L330.66,2557.88 L332.18,2560.93 L333.76,2564.05 L333.93,2564.39 L335.72,2567.84 L336.86,2569.98 L337.55,2571.29 L339.42,2574.73 L339.96,2575.71 L341.32,2578.16 L343.06,2581.23 L343.26,2581.59 L345.24,2585.01 L346.16,2586.56 L347.26,2588.42 L349.26,2591.71 L349.33,2591.82 L351.43,2595.22 L352.36,2596.69 L353.57,2598.60 L355.46,2601.51 L355.76,2601.98 L358.00,2605.35 L358.56,2606.18 L360.28,2608.71 L361.66,2610.70 L362.60,2612.06 L364.76,2615.09 L364.97,2615.39 L367.39,2618.72 L367.86,2619.35 L369.86,2622.03 L370.96,2623.48 L372.38,2625.34 L374.06,2627.49 L374.95,2628.63 L377.16,2631.39 L377.58,2631.91 L380.25,2635.17 L380.26,2635.18 L382.98,2638.43 L383.36,2638.87 L385.76,2641.67 L386.46,2642.46 L388.61,2644.90 L389.56,2645.96 L391.50,2648.11 L392.66,2649.37 L394.46,2651.31 L395.76,2652.69 L397.48,2654.49 L398.86,2655.92 L400.56,2657.66 L401.96,2659.08 L403.70,2660.82 L405.06,2662.16 L406.90,2663.97 L408.16,2665.18 L410.17,2667.12 L411.26,2668.15 L413.51,2670.27 L414.36,2671.07 L416.91,2673.43 L417.46,2673.94 L420.38,2676.60 L420.56,2676.76 L423.66,2679.52 L423.92,2679.75 L426.76,2682.23 L427.53,2682.90 L429.86,2684.90 L431.22,2686.05 L432.96,2687.50 L434.98,2689.18 L436.06,2690.06 L438.82,2692.30 L439.16,2692.57 L442.26,2695.03 L442.73,2695.40 L445.36,2697.43 L446.73,2698.48 L448.46,2699.79 L450.80,2701.54 L451.56,2702.10 L454.66,2704.36 L454.96,2704.58 L457.76,2706.58 L459.20,2707.59 L460.86,2708.75 L463.53,2710.58 L463.96,2710.87 L467.06,2712.94 L467.94,2713.53 L470.16,2714.98 L472.45,2716.45 L473.26,2716.97 L476.36,2718.91 L477.04,2719.34 L479.46,2720.82 L481.73,2722.19 L482.56,2722.68 L485.66,2724.50 L486.52,2725.00 L488.76,2726.29 L491.40,2727.78 L491.86,2728.04 L494.96,2729.75 L496.38,2730.53 L498.06,2731.44 L501.16,2733.09 L501.46,2733.25 L504.26,2734.71 L506.64,2735.94 L507.36,2736.31 L510.46,2737.88 L511.93,2738.62 L513.56,2739.43 L516.66,2740.95 L517.32,2741.27 L519.76,2742.45 L522.82,2743.92 L522.86,2743.93 L525.96,2745.39 L528.44,2746.55 L529.06,2746.83 L532.16,2748.26 L534.17,2749.17 L535.26,2749.66 L538.36,2751.05 L540.01,2751.78 L541.46,2752.42 L544.56,2753.78 L545.98,2754.40 L547.66,2755.13 L550.76,2756.46 L552.06,2757.01 L553.86,2757.77 L556.96,2759.08 L558.27,2759.63 L560.06,2760.37 L563.16,2761.65 L564.60,2762.24 L566.26,2762.92 L569.36,2764.17 L571.06,2764.85 L572.46,2765.41 L575.56,2766.64 L577.65,2767.46 L578.66,2767.85 L581.76,2769.05 L584.38,2770.05 L584.86,2770.24 L587.96,2771.41 L591.06,2772.58 L591.24,2772.64 L594.16,2773.73 L597.26,2774.86 L598.24,2775.22 L600.36,2775.99 L603.46,2777.10 L605.38,2777.79 L606.56,2778.21 L609.66,2779.30 L612.67,2780.34 L612.76,2780.38 L615.86,2781.45 L618.96,2782.50 L620.10,2782.89 L622.06,2783.55 L625.16,2784.59 L627.68,2785.42 L628.26,2785.61 L631.36,2786.63 L634.46,2787.64 L635.42,2787.94 L637.56,2788.63 L640.66,2789.62 L643.32,2790.45 L643.76,2790.59 L646.86,2791.56 L649.96,2792.52 L651.37,2792.95 L653.06,2793.47 L656.16,2794.41 L659.26,2795.34 L659.59,2795.43 L662.36,2796.26 L665.46,2797.17 L667.97,2797.90 L668.56,2798.07 L671.66,2798.97 L674.76,2799.85 L676.52,2800.35 L677.86,2800.73 L680.96,2801.60 L684.06,2802.46 L685.25,2802.79 L687.16,2803.32 L690.26,2804.16 L693.36,2805.00 L694.15,2805.21 L696.47,2805.83 L699.57,2806.66 L702.67,2807.47 L703.23,2807.62 L705.77,2808.28 L708.87,2809.08 L711.97,2809.87 L712.50,2810.01 L715.07,2810.66 L718.17,2811.44 L721.27,2812.21 L721.96,2812.38 L724.37,2812.98 L727.47,2813.74 L730.57,2814.49 L731.60,2814.74 L733.67,2815.24 L736.77,2815.98 L739.87,2816.71 L741.44,2817.08 L742.97,2817.44 L746.07,2818.16 L749.17,2818.88 L751.48,2819.41 L752.27,2819.59 L755.37,2820.29 L758.47,2820.99 L761.57,2821.68 L761.73,2821.72 L764.67,2822.37 L767.77,2823.05 L770.87,2823.73 L772.18,2824.01 L773.97,2824.40 L777.07,2825.07 L780.17,2825.73 L782.84,2826.30 L783.27,2826.39 L786.37,2827.04 L789.47,2827.69 L792.57,2828.33 L793.72,2828.57 L795.67,2828.97 L798.77,2829.60 L801.87,2830.23 L804.81,2830.83 L804.97,2830.86 L808.07,2831.48 L811.17,2832.09 L814.27,2832.70 L816.14,2833.07 L817.37,2833.31 L820.47,2833.91 L823.57,2834.51 L826.67,2835.11 L827.69,2835.30 L829.77,2835.70 L832.87,2836.29 L835.97,2836.87 L839.07,2837.45 L839.48,2837.53 L842.17,2838.03 L845.27,2838.60 L848.37,2839.17 L851.47,2839.73 L851.50,2839.74 L854.57,2840.29 L857.67,2840.85 L860.77,2841.40 L863.77,2841.94 L863.87,2841.95 L866.97,2842.50 L870.07,2843.05 L873.17,2843.59 L876.27,2844.12 L876.28,2844.13 L879.37,2844.66 L882.47,2845.19 L885.57,2845.72 L888.67,2846.24 L889.05,2846.31 L891.77,2846.77 L894.87,2847.28 L897.97,2847.80 L901.07,2848.31 L902.08,2848.48 L904.17,2848.82 L907.27,2849.33 L910.37,2849.83 L913.47,2850.34 L915.37,2850.64 L916.57,2850.83 L919.67,2851.33 L922.77,2851.82 L925.87,2852.31 L928.93,2852.80 L928.97,2852.80 L932.07,2853.29 L935.17,2853.77 L938.27,2854.25 L941.37,2854.73 L942.77,2854.94 L944.47,2855.20 L947.57,2855.67 L950.67,2856.14 L953.77,2856.61 L956.87,2857.08 L956.88,2857.08 L959.97,2857.55 L963.07,2858.01 L966.17,2858.47 L969.27,2858.93 L971.28,2859.23 L972.37,2859.39 L975.47,2859.85 L978.57,2860.30 L981.67,2860.75 L984.77,2861.21 L985.98,2861.38 L987.87,2861.66 L990.97,2862.10 L994.07,2862.55 L997.17,2862.99 L1000.27,2863.43 L1000.97,2863.53 L1003.37,2863.87 L1006.47,2864.31 L1009.57,2864.75 L1012.67,2865.18 L1015.77,2865.61 L1016.26,2865.68 L1018.87,2866.04 L1021.97,2866.47 L1025.07,2866.90 L1028.17,2867.32 L1031.27,2867.75 L1031.86,2867.83 L1034.37,2868.17 L1037.47,2868.58 L1040.57,2869.00 L1043.67,2869.42 L1046.77,2869.83 L1047.78,2869.96 L1049.87,2870.24 L1052.97,2870.65 L1056.07,2871.06 L1059.17,2871.46 L1062.27,2871.86 L1064.02,2872.09 L1065.37,2872.27 L1068.47,2872.66 L1071.57,2873.06 L1074.67,2873.46 L1077.77,2873.85 L1080.59,2874.21 L1080.87,2874.24 L1083.97,2874.64 L1087.07,2875.02 L1090.17,2875.41 L1093.27,2875.80 L1096.37,2876.18 L1097.49,2876.32 L1099.48,2876.56 L1102.58,2876.94 L1105.68,2877.32 L1108.78,2877.70 L1111.88,2878.07 L1114.74,2878.41 L1114.98,2878.44 L1118.08,2878.81 L1121.18,2879.18 L1124.28,2879.55 L1127.38,2879.92 L1130.48,2880.28 L1132.34,2880.50 L1133.58,2880.64 L1136.68,2881.01 L1139.78,2881.37 L1142.88,2881.72 L1145.98,2882.08 L1149.08,2882.43 L1150.29,2882.57 L1152.18,2882.79 L1155.28,2883.14 L1158.38,2883.49 L1161.48,2883.84 L1164.58,2884.18 L1167.68,2884.53 L1168.60,2884.63 L1170.78,2884.87 L1173.88,2885.21 L1176.98,2885.55 L1180.08,2885.89 L1183.18,2886.23 L1186.28,2886.57 L1187.29,2886.68 L1189.38,2886.90 L1192.48,2887.23 L1195.58,2887.57 L1198.68,2887.90 L1201.78,2888.22 L1204.88,2888.55 L1206.35,2888.71 L1207.98,2888.88 L1211.08,2889.20 L1214.18,2889.52 L1217.28,2889.84 L1220.38,2890.16 L1223.48,2890.48 L1225.80,2890.72 L1226.58,2890.80 L1229.68,2891.11 L1232.78,2891.43 L1235.88,2891.74 L1238.98,2892.05 L1242.08,2892.36 L1245.18,2892.67 L1245.65,2892.72 L1248.28,2892.98 L1251.38,2893.28 L1254.48,2893.59 L1257.58,2893.89 L1260.68,2894.19 L1263.78,2894.49 L1265.89,2894.70 L1266.88,2894.79 L1269.98,2895.09 L1273.08,2895.39 L1276.18,2895.68 L1279.28,2895.98 L1282.38,2896.27 L1285.48,2896.56 L1286.55,2896.66 L1288.58,2896.85 L1291.68,2897.14 L1294.78,2897.43 L1297.88,2897.71 L1300.98,2898.00 L1304.08,2898.28 L1307.18,2898.56 L1307.62,2898.60 L1310.28,2898.85 L1313.38,2899.13 L1316.48,2899.40 L1319.58,2899.68 L1322.68,2899.96 L1325.78,2900.23 L1328.88,2900.51 L1329.12,2900.53 L1331.98,2900.78 L1335.08,2901.05 L1338.18,2901.32 L1341.28,2901.59 L1344.38,2901.86 L1347.48,2902.13 L1350.58,2902.40 L1351.06,2902.44 L1353.68,2902.66 L1356.78,2902.92 L1359.88,2903.19 L1362.98,2903.45 L1366.08,2903.71 L1369.18,2903.97 L1372.28,2904.23 L1373.44,2904.32 L1375.38,2904.48 L1378.48,2904.74 L1381.58,2904.99 L1384.68,2905.25 L1387.78,2905.50 L1390.88,2905.75 L1393.98,2906.00 L1396.27,2906.19 L1397.08,2906.25 L1400.18,2906.50 L1403.28,2906.75 L1406.38,2907.00 L1409.48,2907.24 L1412.58,2907.49 L1415.68,2907.73 L1418.78,2907.97 L1419.56,2908.03 L1421.88,2908.21 L1424.98,2908.45 L1428.08,2908.69 L1431.18,2908.93 L1434.28,2909.17 L1437.38,2909.41 L1440.48,2909.64 L1443.33,2909.86 L1443.58,2909.88 L1446.68,2910.11 L1449.78,2910.34 L1452.88,2910.57 L1455.98,2910.81 L1459.08,2911.04 L1462.18,2911.26 L1465.28,2911.49 L1467.57,2911.66 L1468.38,2911.72 L1471.48,2911.95 L1474.58,2912.17 L1477.68,2912.39 L1480.78,2912.62 L1483.88,2912.84 L1486.98,2913.06 L1490.08,2913.28 L1492.31,2913.44 L1493.18,2913.50 L1496.28,2913.72 L1499.38,2913.94 L1502.49,2914.16 L1505.59,2914.37 L1508.69,2914.59 L1511.79,2914.80 L1514.89,2915.02 L1517.55,2915.20 L1517.99,2915.23 L1521.09,2915.44 L1524.19,2915.65 L1527.29,2915.86 L1530.39,2916.07 L1533.49,2916.28 L1536.59,2916.49 L1539.69,2916.69 L1542.79,2916.90 L1543.30,2916.93 L1545.89,2917.11 L1548.99,2917.31 L1552.09,2917.51 L1555.19,2917.72 L1558.29,2917.92 L1561.39,2918.12 L1564.49,2918.32 L1567.59,2918.52 L1569.57,2918.65 L1570.69,2918.72 L1573.79,2918.92 L1576.89,2919.11 L1579.99,2919.31 L1583.09,2919.51 L1586.19,2919.70 L1589.29,2919.89 L1592.39,2920.09 L1595.49,2920.28 L1596.37,2920.34 L1598.59,2920.47 L1601.69,2920.66 L1604.79,2920.85 L1607.89,2921.04 L1610.99,2921.23 L1614.09,2921.42 L1617.19,2921.61 L1620.29,2921.80 L1623.39,2921.98 L1623.71,2922.00 L1626.49,2922.17 L1629.59,2922.35 L1632.69,2922.54 L1635.79,2922.72 L1638.89,2922.90 L1641.99,2923.08 L1645.09,2923.26 L1648.19,2923.44 L1651.29,2923.63 L1651.61,2923.64 L1654.39,2923.80 L1657.49,2923.98 L1660.59,2924.16 L1663.69,2924.34 L1666.79,2924.52 L1669.89,2924.70 L1672.99,2924.88 L1676.09,2925.05 L1679.19,2925.23 L1680.07,2925.28 L1682.29,2925.41 L1685.39,2925.58 L1688.49,2925.76 L1691.59,2925.93 L1694.69,2926.11 L1697.79,2926.28 L1700.89,2926.46 L1703.99,2926.63 L1707.09,2926.80 L1709.11,2926.91 L1710.19,2926.97 L1713.29,2927.15 L1716.39,2927.32 L1719.49,2927.49 L1722.59,2927.66 L1725.69,2927.83 L1728.79,2928.00 L1731.89,2928.16 L1734.99,2928.33 L1738.09,2928.50 L1738.74,2928.54 L1741.19,2928.67 L1744.29,2928.83 L1747.39,2929.00 L1750.49,2929.17 L1753.59,2929.33 L1756.69,2929.49 L1759.79,2929.66 L1762.89,2929.82 L1765.99,2929.98 L1768.96,2930.14 L1769.09,2930.15 L1772.19,2930.31 L1775.29,2930.47 L1778.39,2930.63 L1781.49,2930.79 L1784.59,2930.95 L1787.69,2931.10 L1790.79,2931.26 L1793.89,2931.42 L1796.99,2931.57 L1799.80,2931.72 L1800.09,2931.73 L1803.19,2931.89 L1806.29,2932.04 L1809.39,2932.19 L1812.49,2932.35 L1815.59,2932.50 L1818.69,2932.65 L1821.79,2932.80 L1824.89,2932.95 L1827.99,2933.10 L1831.09,2933.25 L1831.26,2933.26 L1834.19,2933.40 L1837.29,2933.55 L1840.39,2933.69 L1843.49,2933.84 L1846.59,2933.99 L1849.69,2934.13 L1852.79,2934.28 L1855.89,2934.42 L1858.99,2934.56 L1862.09,2934.71 L1863.36,2934.76 L1865.19,2934.85 L1868.29,2934.99 L1871.39,2935.13 L1874.49,2935.27 L1877.59,2935.41 L1880.69,2935.54 L1883.79,2935.68 L1886.89,2935.82 L1889.99,2935.95 L1893.09,2936.09 L1896.11,2936.22 L1896.19,2936.22 L1899.29,2936.36 L1902.39,2936.49 L1905.50,2936.62 L1908.60,2936.75 L1911.70,2936.89 L1914.80,2937.02 L1917.90,2937.15 L1921.00,2937.27 L1924.10,2937.40 L1927.20,2937.53 L1929.52,2937.62 L1930.30,2937.66 L1933.40,2937.78 L1936.50,2937.91 L1939.60,2938.03 L1942.70,2938.16 L1945.80,2938.28 L1948.90,2938.40 L1952.00,2938.52 L1955.10,2938.64 L1958.20,2938.76 L1961.30,2938.88 L1963.61,2938.97 L1964.40,2939.00 L1967.50,2939.11 L1970.60,2939.22 L1973.70,2939.33 L1976.80,2939.44 L1979.90,2939.54 L1983.00,2939.65 L1986.10,2939.75 L1989.20,2939.86 L1992.30,2939.96 L1995.40,2940.06 L1998.39,2940.16 L1998.50,2940.17 L2001.60,2940.27 L2004.70,2940.37 L2007.80,2940.48 L2010.90,2940.59 L2014.00,2940.69 L2017.10,2940.80 L2020.20,2940.91 L2023.30,2941.03 L2026.40,2941.14 L2029.50,2941.26 L2032.60,2941.38 L2033.87,2941.43 L2035.70,2941.50 L2038.80,2941.62 L2041.90,2941.75 L2045.00,2941.88 L2048.10,2942.00 L2051.20,2942.14 L2054.30,2942.27 L2057.40,2942.40 L2060.50,2942.54 L2063.60,2942.67 L2066.70,2942.81 L2069.80,2942.95 L2070.07,2942.96 L2072.90,2943.09 L2076.00,2943.24 L2079.10,2943.38 L2082.20,2943.52 L2085.30,2943.67 L2088.40,2943.82 L2091.50,2943.96 L2094.60,2944.11 L2097.70,2944.26 L2100.80,2944.41 L2103.90,2944.56 L2107.00,2944.72 L2107.00,2944.72" fill="none" stroke="#808000" stroke-width="2.4" stroke-linejoin="round"/>
<polygon points="249.67,1839.73 261.31,1846.45 261.31,1859.89 249.67,1866.61 238.03,1859.89 238.03,1846.45" fill="#808000"/>
<polygon points="327.23,2537.35 338.87,2544.07 338.87,2557.51 327.23,2564.23 315.59,2557.51 315.59,2544.07" fill="#808000"/>
<polygon points="404.80,2648.47 416.44,2655.19 416.44,2668.63 404.80,2675.35 393.16,2668.63 393.16,2655.19" fill="#808000"/>
<polygon points="482.37,2709.13 494.01,2715.85 494.01,2729.29 482.37,2736.01 470.73,2729.29 470.73,2715.85" fill="#808000"/>
<polygon points="559.93,2746.88 571.57,2753.60 571.57,2767.04 559.93,2773.76 548.29,2767.04 548.29,2753.60" fill="#808000"/>
<polygon points="637.50,2775.17 649.14,2781.89 649.14,2795.33 637.50,2802.05 625.86,2795.33 625.86,2781.89" fill="#808000"/>
<polygon points="715.07,2797.22 726.71,2803.94 726.71,2817.38 715.07,2824.10 703.43,2817.38 703.43,2803.94" fill="#808000"/>
<polygon points="792.63,2814.90 804.27,2821.62 804.27,2835.06 792.63,2841.78 780.99,2835.06 780.99,2821.62" fill="#808000"/>
<polygon points="870.20,2829.63 881.84,2836.35 881.84,2849.79 870.20,2856.51 858.56,2849.79 858.56,2836.35" fill="#808000"/>
<polygon points="947.77,2842.26 959.41,2848.98 959.41,2862.42 947.77,2869.14 936.13,2862.42 936.13,2848.98" fill="#808000"/>
<polygon points="1025.33,2853.49 1036.97,2860.21 1036.97,2873.65 1025.33,2880.37 1013.69,2873.65 1013.69,2860.21" fill="#808000"/>
<polygon points="1102.90,2863.54 1114.54,2870.26 1114.54,2883.70 1102.90,2890.42 1091.26,2883.70 1091.26,2870.26" fill="#808000"/>
<polygon points="1180.47,2872.50 1192.11,2879.22 1192.11,2892.66 1180.47,2899.38 1168.83,2892.66 1168.83,2879.22" fill="#808000"/>
<polygon points="1258.03,2880.50 1269.67,2887.22 1269.67,2900.66 1258.03,2907.38 1246.39,2900.66 1246.39,2887.22" fill="#808000"/>
<polygon points="1335.60,2887.66 1347.24,2894.38 1347.24,2907.82 1335.60,2914.54 1323.96,2907.82 1323.96,2894.38" fill="#808000"/>
<polygon points="1413.17,2894.09 1424.81,2900.81 1424.81,2914.25 1413.17,2920.97 1401.53,2914.25 1401.53,2900.81" fill="#808000"/>
<polygon points="1490.73,2899.89 1502.37,2906.61 1502.37,2920.05 1490.73,2926.77 1479.09,2920.05 1479.09,2906.61" fill="#808000"/>
<polygon points="1568.30,2905.13 1579.94,2911.85 1579.94,2925.29 1568.30,2932.01 1556.66,2925.29 1556.66,2911.85" fill="#808000"/>
<polygon points="1645.87,2909.87 1657.51,2916.59 1657.51,2930.03 1645.87,2936.75 1634.23,2930.03 1634.23,2916.59" fill="#808000"/>
<polygon points="1723.43,2914.26 1735.07,2920.98 1735.07,2934.42 1723.43,2941.14 1711.79,2934.42 1711.79,2920.98" fill="#808000"/>
<polygon points="1801.00,2918.34 1812.64,2925.06 1812.64,2938.50 1801.00,2945.22 1789.36,2938.50 1789.36,2925.06" fill="#808000"/>
<polygon points="1878.57,2922.01 1890.21,2928.73 1890.21,2942.17 1878.57,2948.89 1866.93,2942.17 1866.93,2928.73" fill="#808000"/>
<polygon points="1956.13,2925.24 1967.77,2931.96 1967.77,2945.40 1956.13,2952.12 1944.49,2945.40 1944.49,2931.96" fill="#808000"/>
<polygon points="2033.70,2927.98 2045.34,2934.70 2045.34,2948.14 2033.70,2954.86 2022.06,2948.14 2022.06,2934.70" fill="#808000"/>
<text transform="matrix(0.26667 0 0 0.24074 198.07 3106.52)" font-weight="bold" fill="#000">0</text>
<text transform="matrix(0.25986 0 0 0.24074 146.72 2764.39)" font-weight="bold" fill="#000">200</text>
<text transform="matrix(0.25536 0 0 0.24074 148.03 2422.27)" font-weight="bold" fill="#000">400</text>
<text transform="matrix(0.25895 0 0 0.24074 146.99 2080.14)" font-weight="bold" fill="#000">600</text>
<text transform="matrix(0.25895 0 0 0.24074 146.99 1738.02)" font-weight="bold" fill="#000">800</text>
<text transform="matrix(0.26667 0 0 0.24889 232.37 3152.80)" font-weight="bold" fill="#000">0</text>
<text transform="matrix(0.25946 0 0 0.24889 685.28 3152.80)" font-weight="bold" fill="#000">60</text>
<text transform="matrix(0.26341 0 0 0.24889 1135.94 3152.80)" font-weight="bold" fill="#000">120</text>
<text transform="matrix(0.26341 0 0 0.24889 1601.34 3152.80)" font-weight="bold" fill="#000">180</text>
<text transform="matrix(0.25704 0 0 0.24889 2068.74 3152.80)" font-weight="bold" fill="#000">240</text>
<text transform="matrix(0.30493 0 0 0.32137 1070.49 3248.60)" font-weight="bold" fill="#000">Time (s)</text>
<text transform="matrix(0.40784 0 0 0.43516 1046.93 3353.99)" font-weight="normal" fill="#000">(</text>
<text transform="matrix(0.44950 0 0 0.45248 1075.70 3355.60)" font-weight="bold" fill="#000">b</text>
<text transform="matrix(0.39808 0 0 0.43516 1127.01 3353.99)" font-weight="normal" fill="#000">)</text>
<text transform="matrix(0 -0.28580 0.26894 0 90.80 2777.06)" font-weight="bold" fill="#000">Creep</text>
<text transform="matrix(0 -0.27655 0.26894 0 90.80 2615.46)" font-weight="bold" fill="#000">stiffness</text>
<text transform="matrix(0 -0.27459 0.26894 0 90.80 2407.67)" font-weight="bold" fill="#000">modulus</text>
<text transform="matrix(0 -0.28273 0.26894 0 90.80 2192.54)" font-weight="bold" fill="#000">(MPa)</text>
<rect x="367.00" y="1723.50" width="648.50" height="439.00" fill="#fff" stroke="#555" stroke-width="2.5" />
<line x1="376.50" y1="1772.20" x2="531.00" y2="1772.20" stroke="#808080" stroke-width="3" />
<rect x="443.50" y="1762.20" width="20.00" height="20.00" fill="#000000" stroke="none" stroke-width="0" />
<text transform="matrix(0.34927 0 0 0.34545 549.90 1796.10)" font-weight="normal" fill="#000">Asphalt</text>
<line x1="376.50" y1="1857.90" x2="531.00" y2="1857.90" stroke="#ff0000" stroke-width="2.2" />
<circle cx="453.50" cy="1857.90" r="10.50" fill="#ff0000"/>
<text transform="matrix(0.34741 0 0 0.35606 547.47 1881.00)" font-weight="normal" fill="#000">20% KF</text>
<line x1="376.50" y1="1942.80" x2="531.00" y2="1942.80" stroke="#cc66ee" stroke-width="3.5" />
<polygon points="453.50,1927.92 468.38,1942.80 453.50,1957.68 438.62,1942.80" fill="#9900cc"/>
<text transform="matrix(0.34946 0 0 0.35227 547.66 1965.80)" font-weight="normal" fill="#000">10% GTCM-1.0</text>
<line x1="376.50" y1="2028.00" x2="531.00" y2="2028.00" stroke="#660033" stroke-width="2.2" />
<polygon points="439.82,2028.00 462.62,2014.80 462.62,2041.20" fill="#660033"/>
<text transform="matrix(0.34961 0 0 0.36212 547.45 2052.80)" font-weight="normal" fill="#000">20% GTCM-1.0</text>
<line x1="376.50" y1="2115.00" x2="531.00" y2="2115.00" stroke="#808000" stroke-width="2.2" />
<polygon points="453.50,2102.12 464.65,2108.56 464.65,2121.44 453.50,2127.88 442.35,2121.44 442.35,2108.56" fill="#808000"/>
<text transform="matrix(0.34961 0 0 0.35606 547.45 2137.70)" font-weight="normal" fill="#000">30% GTCM-1.0</text>
<ellipse cx="716.4" cy="2868.5" rx="27" ry="109" fill="none" stroke="#000" stroke-width="8" stroke-dasharray="8.5 7.5"/>
<line x1="739.50" y1="2765.60" x2="1107.00" y2="2583.50" stroke="#000" stroke-width="3.0" />
<polygon points="1141.40,2566.60 1101.50,2570.50 1114.20,2596.50" fill="#000"/>
<rect x="1320.50" y="2578.86" width="136.00" height="171.14" fill="#fff" stroke="none" stroke-width="0" />
<rect x="1320.50" y="2578.86" width="136.00" height="171.14" fill="url(#dotsB)" stroke="none" stroke-width="0" />
<line x1="1320.50" y1="2577.86" x2="1320.50" y2="2750.00" stroke="#222" stroke-width="4" />
<line x1="1456.50" y1="2577.86" x2="1456.50" y2="2750.00" stroke="#222" stroke-width="4" />
<line x1="1320.50" y1="2578.86" x2="1456.50" y2="2578.86" stroke="#000" stroke-width="3" />
<rect x="1457.00" y="2036.02" width="140.50" height="713.98" fill="#fff" stroke="none" stroke-width="0" />
<rect x="1457.00" y="2036.02" width="140.50" height="713.98" fill="url(#brickB)" stroke="none" stroke-width="0" />
<line x1="1457.00" y1="2035.02" x2="1457.00" y2="2750.00" stroke="#ff2020" stroke-width="3" />
<line x1="1597.50" y1="2035.02" x2="1597.50" y2="2750.00" stroke="#ff2020" stroke-width="3" />
<line x1="1457.00" y1="2036.02" x2="1597.50" y2="2036.02" stroke="#ff4040" stroke-width="3" />
<rect x="1597.50" y="2479.79" width="139.20" height="270.21" fill="#fff" stroke="none" stroke-width="0" />
<rect x="1597.50" y="2479.79" width="139.20" height="270.21" fill="url(#fsB)" stroke="none" stroke-width="0" />
<line x1="1597.50" y1="2478.79" x2="1597.50" y2="2750.00" stroke="#50b050" stroke-width="4" />
<line x1="1736.70" y1="2478.79" x2="1736.70" y2="2750.00" stroke="#50b050" stroke-width="4" />
<line x1="1597.50" y1="2479.79" x2="1736.70" y2="2479.79" stroke="#50b050" stroke-width="3" />
<rect x="1736.70" y="2231.73" width="141.80" height="518.27" fill="#fff" stroke="none" stroke-width="0" />
<rect x="1736.70" y="2231.73" width="141.80" height="518.27" fill="url(#hlB)" stroke="none" stroke-width="0" />
<line x1="1736.70" y1="2230.73" x2="1736.70" y2="2750.00" stroke="#6060ff" stroke-width="4" />
<line x1="1878.50" y1="2230.73" x2="1878.50" y2="2750.00" stroke="#6060ff" stroke-width="4" />
<line x1="1736.70" y1="2231.73" x2="1878.50" y2="2231.73" stroke="#2020ff" stroke-width="3" />
<rect x="1878.50" y="1918.00" width="140.00" height="832.00" fill="#fff" stroke="none" stroke-width="0" />
<rect x="1878.50" y="1918.00" width="140.00" height="832.00" fill="url(#vlB)" stroke="none" stroke-width="0" />
<line x1="1878.50" y1="1917.00" x2="1878.50" y2="2750.00" stroke="#a850a8" stroke-width="4" />
<line x1="2018.50" y1="1917.00" x2="2018.50" y2="2750.00" stroke="#a850a8" stroke-width="4" />
<line x1="1878.50" y1="1918.00" x2="2018.50" y2="1918.00" stroke="#902090" stroke-width="3" />
<line x1="1230.60" y1="2238.00" x2="2107.00" y2="2238.00" stroke="#404040" stroke-width="9" stroke-dasharray="42.4 33.3"/>
<line x1="1229.50" y1="1726.00" x2="1229.50" y2="2750.00" stroke="#333" stroke-width="3" />
<line x1="1229.50" y1="2750.00" x2="2107.00" y2="2750.00" stroke="#777" stroke-width="4" />
<line x1="1214.00" y1="1727.30" x2="1245.00" y2="1727.30" stroke="#000" stroke-width="4" />
<line x1="1212.00" y1="1726.00" x2="2107.00" y2="1726.00" stroke="#000" stroke-width="2.5" />
<line x1="1214.00" y1="2750.00" x2="1245.00" y2="2750.00" stroke="#333" stroke-width="3" />
<line x1="1214.00" y1="2494.00" x2="1245.00" y2="2494.00" stroke="#333" stroke-width="3" />
<line x1="1214.00" y1="2238.00" x2="1245.00" y2="2238.00" stroke="#333" stroke-width="3" />
<line x1="1214.00" y1="1982.00" x2="1245.00" y2="1982.00" stroke="#333" stroke-width="3" />
<line x1="1222.00" y1="2622.00" x2="1237.00" y2="2622.00" stroke="#333" stroke-width="3" />
<line x1="1222.00" y1="2366.00" x2="1237.00" y2="2366.00" stroke="#333" stroke-width="3" />
<line x1="1222.00" y1="2110.00" x2="1237.00" y2="2110.00" stroke="#333" stroke-width="3" />
<line x1="1222.00" y1="1854.00" x2="1237.00" y2="1854.00" stroke="#333" stroke-width="3" />
<line x1="1667.50" y1="2750.00" x2="1667.50" y2="2759.00" stroke="#555" stroke-width="3" />
<text transform="matrix(0.25254 0 0 0.24222 1128.26 2762.52)" font-weight="bold" fill="#000">100</text>
<text transform="matrix(0.25254 0 0 0.24222 1128.26 2506.52)" font-weight="bold" fill="#000">120</text>
<text transform="matrix(0.25254 0 0 0.24222 1128.26 2250.52)" font-weight="bold" fill="#000">140</text>
<text transform="matrix(0.25254 0 0 0.24222 1128.26 1994.52)" font-weight="bold" fill="#000">160</text>
<text transform="matrix(0.25254 0 0 0.24222 1128.26 1738.52)" font-weight="bold" fill="#000">180</text>
<text transform="matrix(0.24865 0 0 0.22963 1642.76 2810.04)" font-weight="bold" fill="#000">60</text>
<rect x="1432.00" y="1728.00" width="419.70" height="294.70" fill="#fff" stroke="#333" stroke-width="2.5" />
<rect x="1437.50" y="1736.00" width="100.00" height="48.00" fill="#fff" stroke="none" stroke-width="0" />
<rect x="1437.50" y="1736.00" width="100.00" height="48.00" fill="url(#dotsBs)" stroke="none" stroke-width="0" />
<rect x="1437.50" y="1736.00" width="100.00" height="48.00" fill="none" stroke="#333" stroke-width="3" />
<text transform="matrix(0.22132 0 0 0.23561 1549.86 1775.00)" font-weight="normal" fill="#000">Asphalt</text>
<rect x="1437.50" y="1794.70" width="100.00" height="48.00" fill="#fff" stroke="none" stroke-width="0" />
<rect x="1437.50" y="1794.70" width="100.00" height="48.00" fill="url(#brickB)" stroke="none" stroke-width="0" />
<rect x="1437.50" y="1794.70" width="100.00" height="48.00" fill="none" stroke="#ff2020" stroke-width="3" />
<text transform="matrix(0.22607 0 0 0.22955 1548.27 1833.50)" font-weight="normal" fill="#000">20% KF</text>
<rect x="1437.50" y="1853.00" width="100.00" height="48.00" fill="#fff" stroke="none" stroke-width="0" />
<rect x="1437.50" y="1853.00" width="100.00" height="48.00" fill="url(#fsB)" stroke="none" stroke-width="0" />
<rect x="1437.50" y="1853.00" width="100.00" height="48.00" fill="none" stroke="#40a840" stroke-width="3" />
<text transform="matrix(0.22558 0 0 0.22424 1548.67 1891.40)" font-weight="normal" fill="#000">10% GTCM-1.0</text>
<rect x="1437.50" y="1911.00" width="100.00" height="48.00" fill="#fff" stroke="none" stroke-width="0" />
<rect x="1437.50" y="1911.00" width="100.00" height="48.00" fill="url(#hlBs)" stroke="none" stroke-width="0" />
<rect x="1437.50" y="1911.00" width="100.00" height="48.00" fill="none" stroke="#1010ff" stroke-width="3" />
<text transform="matrix(0.22589 0 0 0.22500 1548.27 1949.30)" font-weight="normal" fill="#000">20% GTCM-1.0</text>
<rect x="1437.50" y="1967.60" width="100.00" height="49.40" fill="#fff" stroke="none" stroke-width="0" />
<rect x="1437.50" y="1967.60" width="100.00" height="49.40" fill="url(#vlBs)" stroke="none" stroke-width="0" />
<rect x="1437.50" y="1967.60" width="100.00" height="49.40" fill="none" stroke="#800080" stroke-width="3" />
<text transform="matrix(0.22589 0 0 0.22500 1548.27 2006.50)" font-weight="normal" fill="#000">30% GTCM-1.0</text>
<line x1="243.40" y1="1723.50" x2="2108.50" y2="1723.50" stroke="#000" stroke-width="3.5" />
<polygon points="2164.00,1760.50 2171.00,1753.50 2171.00,1767.50" fill="#808080"/>
</svg>
</body></html>
